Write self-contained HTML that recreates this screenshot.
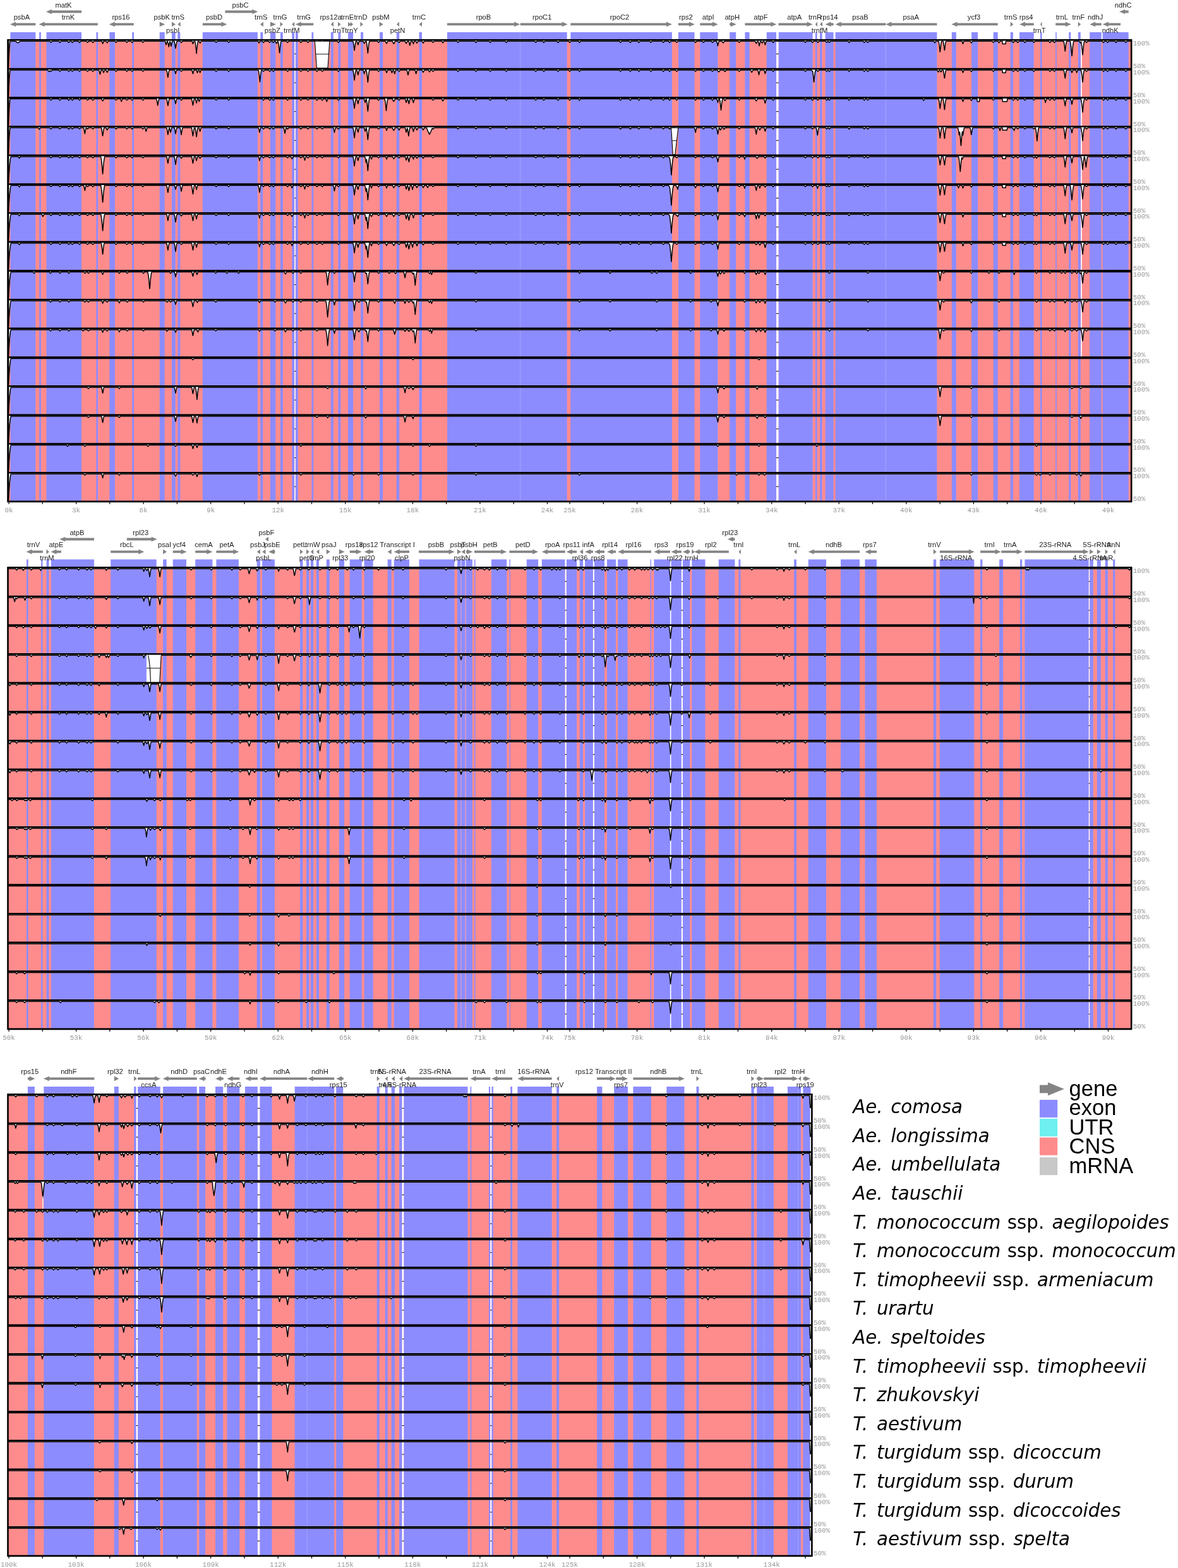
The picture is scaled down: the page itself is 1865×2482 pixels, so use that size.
<!DOCTYPE html>
<html lang="en"><head><meta charset="utf-8"><title>mVISTA chloroplast genome alignment</title>
<style>html,body{margin:0;padding:0;background:#fff}svg{display:block}.g{font-family:"Liberation Sans",sans-serif;font-size:11.2px;fill:#1c1c1c;text-anchor:middle}.m{font-family:"Liberation Mono","DejaVu Sans Mono",monospace;font-size:10.9px;fill:#989898}.t{font-family:"Liberation Mono","DejaVu Sans Mono",monospace;font-size:10.9px;fill:#989898;text-anchor:middle}.s{font-family:"DejaVu Sans","Liberation Sans",sans-serif;font-size:29.3px;fill:#000}.s .i{font-style:oblique}.l{font-family:"Liberation Sans",sans-serif;font-size:34.5px;fill:#000}</style></head><body>
<svg width="1865" height="2482" viewBox="0 0 1865 2482">
<rect width="1865" height="2482" fill="#fff"/>
<g id="panel1">
<rect x="12.5" y="63.3" width="1778.7" height="730.6" fill="#ff8c8c"/>
<path d="M16.4 50.9H56.3V793.9H16.4ZM62.1 50.9H64.9V793.9H62.1ZM73.5 50.9H129V793.9H73.5ZM152.4 50.9H155.2V793.9H152.4ZM173.4 50.9H182V793.9H173.4ZM209.2 50.9H212V793.9H209.2ZM252.7 50.9H260.7V793.9H252.7ZM272 50.9H277.7V793.9H272ZM281.3 50.9H285.3V793.9H281.3ZM320.8 50.9H407.9V793.9H320.8ZM412.3 50.9H416.3V793.9H412.3ZM427.9 50.9H436.3V793.9H427.9ZM443.9 50.9H447.9V793.9H443.9ZM462.2 50.9H466.2V793.9H462.2ZM467.8 50.9H471.8V793.9H467.8ZM493.4 50.9H496.2V793.9H493.4ZM523.8 50.9H527.8V793.9H523.8ZM535.4 50.9H539.3V793.9H535.4ZM551.1 50.9H559.1V793.9H551.1ZM571.1 50.9H575.1V793.9H571.1ZM601.1 50.9H606.1V793.9H601.1ZM627.8 50.9H632.2V793.9H627.8ZM663.5 50.9H668V793.9H663.5ZM708 50.9H897.7V793.9H708ZM903.3 50.9H1063.9V793.9H903.3ZM1073.9 50.9H1099.5V793.9H1073.9ZM1108.3 50.9H1136.4V793.9H1108.3ZM1155.2 50.9H1165.2V793.9H1155.2ZM1179.4 50.9H1186.6V793.9H1179.4ZM1213.7 50.9H1229.1V793.9H1213.7ZM1232.5 50.9H1286.6V793.9H1232.5ZM1290.8 50.9H1293.6V793.9H1290.8ZM1298 50.9H1301.6V793.9H1298ZM1306.6 50.9H1319.6V793.9H1306.6ZM1322.6 50.9H1483.4V793.9H1322.6ZM1506.8 50.9H1513.8V793.9H1506.8ZM1538.1 50.9H1548.1V793.9H1538.1ZM1572.7 50.9H1579.7V793.9H1572.7ZM1599.7 50.9H1603.9V793.9H1599.7ZM1614 50.9H1636.8V793.9H1614ZM1647 50.9H1649.6V793.9H1647ZM1671.2 50.9H1672.8V793.9H1671.2ZM1692.2 50.9H1695.2V793.9H1692.2ZM1706.8 50.9H1710.8V793.9H1706.8ZM1725.2 50.9H1743.7V793.9H1725.2ZM1745.7 50.9H1786.7V793.9H1745.7Z" fill="#8c8cff"/>
<path d="M466.2 50.9H467.8V793.9H466.2ZM1229.1 50.9H1232.5V793.9H1229.1ZM1711.2 50.9H1712.9V63.3H1711.2ZM1711.2 63.3H1712.9V109H1711.2ZM1711.2 109H1712.9V154.6H1711.2ZM1711.2 154.6H1712.9V200.3H1711.2ZM1711.2 200.3H1712.9V245.9H1711.2ZM1711.2 245.9H1712.9V291.6H1711.2ZM1711.2 291.6H1712.9V337.3H1711.2ZM1711.2 337.3H1712.9V382.9H1711.2ZM1711.2 382.9H1712.9V428.6H1711.2ZM1711.2 428.6H1712.9V474.2H1711.2ZM1711.2 474.2H1712.9V519.9H1711.2ZM1711.2 519.9H1712.9V565.6H1711.2Z" fill="#fff"/>
<path d="M466 85.3H468.1M466 131H468.1M466 176.6H468.1M466 222.3H468.1M466 268H468.1M466 313.6H468.1M466 359.3H468.1M466 404.9H468.1M466 450.6H468.1M466 496.3H468.1M466 541.9H468.1M466 587.6H468.1M466 633.2H468.1M466 678.9H468.1M466 724.6H468.1M466 770.2H468.1M1228.9 85.3H1232.8M1228.9 131H1232.8M1228.9 176.6H1232.8M1228.9 222.3H1232.8M1228.9 268H1232.8M1228.9 313.6H1232.8M1228.9 359.3H1232.8M1228.9 404.9H1232.8M1228.9 450.6H1232.8M1228.9 496.3H1232.8M1228.9 541.9H1232.8M1228.9 587.6H1232.8M1228.9 633.2H1232.8M1228.9 678.9H1232.8M1228.9 724.6H1232.8M1228.9 770.2H1232.8" stroke="#000" stroke-width="1" fill="none"/>
<path d="M823.8 50.9V793.9M1402.3 50.9V793.9" stroke="#a9a9ff" stroke-width="0.8" fill="none"/>
<path d="M13.5 63.3L13.5 107.3L14.1 90.8L14.7 78.7L15.5 68.6L15.9 65.7L16.1 65.3L24.5 65.3L28.3 67.9L32.1 65.3L78.7 65.3L80.5 67.3L80.9 67.1L82.5 65.3L92.9 65.3L94.7 67.4L96.7 65.3L106.9 65.3L107.1 65.4L108.9 67.4L110.7 65.3L112.7 65.3L114.5 67.4L115.3 66.6L116.3 65.4L116.5 65.3L123.9 65.3L125.9 67.4L127.7 65.3L136.7 65.3L138.5 67.3L138.9 67.1L140.5 65.3L145.1 65.3L147.1 67.4L148.9 65.3L161.1 65.3L161.5 66.1L162.5 69.1L162.7 69.2L164.1 65.3L168.1 65.3L169.7 67.9L171.3 65.3L181.9 65.3L183.5 67.1L183.9 67.3L185.7 65.3L198.9 65.3L200.7 67.3L201.1 67.1L202.7 65.3L207.3 65.3L207.5 65.4L208.3 66.4L209.3 67.4L211.1 65.3L224.3 65.3L226.3 67.3L228.1 65.3L261.3 65.3L261.9 66.9L262.9 70.8L263.1 70.9L264.5 65.7L264.7 65.3L265.3 65.3L266.1 68.1L267.3 74L268.3 68.6L269.1 65.4L269.9 68.2L270.9 73.2L271.9 68.5L272.7 65.4L272.9 65.3L275.9 65.3L276.9 69.8L277.9 76.5L278.1 76.5L279.1 69.8L280.1 65.3L285.1 65.3L287.1 67.4L288.9 65.3L303.9 65.3L304.3 66L305.3 69.1L305.5 69.3L306.9 65.3L308.5 65.3L308.7 65.6L309.1 67.4L309.7 71.1L311.1 84.7L311.7 77.9L312.5 70.9L313.3 66.3L313.5 65.5L313.7 65.3L314.9 65.3L315.1 65.4L316.7 68.3L318.5 65.3L340.3 65.3L342.1 67.3L342.5 67.1L344.1 65.3L360.1 65.3L361.9 67.3L362.3 67.1L363.9 65.3L408.3 65.3L408.5 65.4L410.1 68.1L411.7 65.3L415.3 65.3L417.1 67.4L419.1 65.3L425.1 65.3L426.5 66.9L427.1 67.3L428.9 65.3L430.7 65.3L430.9 65.3L432.7 67.4L434.5 65.3L435.9 65.3L437.7 68.8L437.9 68.7L439.5 65.6L439.7 65.3L440.1 65.3L440.7 67.9L441.3 71.8L442.5 83.8L442.7 83.5L443.3 76.9L444.1 70.2L444.7 66.8L445.1 65.3L453.5 65.3L455.3 67.4L457.1 65.3L457.3 65.3L474.5 65.3L476.3 67.4L478.1 65.3L478.3 65.3L485.7 65.3L487.3 67.1L487.7 67.3L489.5 65.3L499.9 65.3L501.7 67.3L502.3 66.9L503.7 65.3L508.3 65.3L510.3 67.4L512.1 65.3L533.7 65.3L533.9 65.3L535.7 67.4L537.5 65.3L537.7 65.3L558.9 65.3L559.9 70.2L561.1 79.8L562.5 69.6L563.1 66.5L563.5 65.3L565.1 65.3L565.7 66.9L566.7 70.8L566.9 70.9L567.9 67L568.5 65.3L574.9 65.4L576.7 68.9L578.5 65.4L579.7 65.3L579.9 65.3L580.1 66.1L580.9 70.6L581.7 77.4L582.3 84.1L582.5 83.2L583.7 71.5L584.3 67.6L584.9 65.3L597.5 65.3L599.3 67.4L600.1 66.6L601.1 65.4L601.3 65.3L610.1 65.3L612.1 68.9L613.9 65.3L621.1 65.3L621.3 65.5L623.3 69.4L623.5 69.3L623.9 68.6L625.5 65.3L629.9 65.3L631.9 67.4L633.7 65.3L641.3 65.3L643.1 68.8L643.3 68.7L645.1 65.3L647.1 65.3L647.9 68L648.7 71.6L648.9 71.8L650.1 66.7L650.5 65.4L650.7 65.3L653.1 65.4L654.5 69.5L655.9 65.3L658.3 65.3L658.5 65.5L660.1 68.3L661.9 65.3L668.3 65.3L669.9 68.2L670.1 68.3L671.7 65.4L671.9 65.3L683.7 65.3L685.5 67.3L685.9 67.1L687.5 65.3L699.5 65.3L701.1 67.8L702.7 65.3L702.9 65.3L723.3 65.3L725.1 67.3L725.5 67.1L727.1 65.3L751.5 65.3L753.5 67.4L755.3 65.3L774.1 65.3L774.3 65.3L776.1 67.4L777.9 65.3L799.7 65.3L801.5 67.4L803.5 65.3L846.3 65.3L847.9 67.1L848.3 67.3L850.1 65.3L859.1 65.3L860.9 67.4L861.9 66.4L862.7 65.4L862.9 65.3L881.7 65.3L883.5 67.4L885.5 65.3L900.1 65.3L901.9 67.4L902.7 66.6L903.7 65.4L903.9 65.3L915.5 65.3L915.7 65.3L917.5 67.4L919.3 65.3L919.5 65.3L980.5 65.3L982.3 67.4L984.1 65.4L984.3 65.3L995.9 65.3L996.1 65.4L996.9 66.4L997.9 67.4L999.7 65.3L1009.5 65.3L1011.5 67.4L1013.3 65.3L1028.5 65.3L1030.3 67.3L1030.7 67.1L1032.3 65.3L1048.3 65.3L1050.1 67.3L1050.5 67.1L1052.1 65.3L1058.1 65.3L1058.3 65.3L1060.1 67.4L1061.9 65.3L1069.5 65.3L1071.1 67.1L1071.5 67.3L1073.3 65.3L1099.1 65.3L1099.3 65.3L1101.1 67.4L1102.9 65.3L1103.1 65.3L1111.9 65.3L1113.5 67.1L1113.9 67.3L1115.7 65.3L1126.1 65.3L1127.9 67.3L1128.5 66.9L1129.9 65.3L1134.5 65.3L1134.7 65.4L1135.1 66.7L1136.5 72.5L1137.5 67.8L1138.3 65.3L1142.7 65.3L1144.9 67.9L1147.1 65.3L1147.3 65.3L1168.5 65.3L1170.3 67.3L1170.7 67.1L1172.3 65.3L1195.3 65.3L1197.3 68.9L1199.1 65.3L1200.1 65.3L1200.3 65.3L1200.7 66.7L1202.1 72.6L1203.1 67.9L1203.9 65.3L1204.9 65.4L1206.5 68.3L1206.7 68.2L1208.3 65.3L1209.7 65.3L1210.3 67L1211.3 70.9L1211.5 70.8L1212.5 66.9L1213.1 65.3L1222.3 65.3L1224.1 67.4L1225.9 65.3L1226.1 65.3L1273.1 65.3L1274.7 67.1L1275.1 67.3L1276.9 65.3L1284.5 65.3L1286.3 67.4L1287.1 66.6L1288.1 65.4L1288.3 65.3L1292.9 65.3L1294.5 67.1L1294.9 67.3L1296.7 65.3L1307.1 65.3L1308.9 67.3L1309.5 66.9L1310.9 65.3L1311.3 65.3L1312.9 67.1L1313.3 67.3L1315.1 65.3L1342.3 65.3L1342.5 65.3L1344.3 67.4L1346.1 65.3L1346.3 65.3L1366.5 65.3L1368.3 67.4L1370.3 65.3L1372.1 65.3L1373.7 67.1L1374.1 67.3L1375.9 65.3L1478.1 65.3L1478.3 65.4L1479.7 67.7L1479.9 67.8L1481.5 65.3L1485.9 65.3L1486.5 67.6L1487.1 71.3L1488.3 82.2L1489.5 71.7L1490.1 67.9L1490.7 65.3L1493.1 65.3L1493.3 65.9L1494.3 71.2L1495.3 79.4L1495.5 79.3L1496.9 68.7L1497.7 65.3L1523.1 65.3L1524.5 69.4L1525.7 65.9L1525.9 65.4L1526.1 65.3L1536.1 65.3L1537.7 67.9L1537.9 68L1539.5 65.3L1570.7 65.3L1572.3 67.1L1572.7 67.3L1574.5 65.3L1579.9 65.3L1580.1 65.4L1581.7 67.8L1583.3 65.3L1586.9 65.3L1587.3 69.4L1587.5 69.5L1592.1 69.5L1592.5 65.5L1592.7 65.3L1602.3 65.3L1602.5 65.4L1603.3 66.4L1604.3 67.4L1606.1 65.3L1609.5 65.3L1611.3 67.4L1613.3 65.3L1620.7 65.3L1622.7 67.4L1624.5 65.3L1634.9 65.3L1636.7 67.3L1637.1 67.1L1638.7 65.3L1660.3 65.3L1662.3 67.4L1664.1 65.3L1667.5 65.3L1669.3 67.4L1671.1 65.4L1671.3 65.3L1683.9 65.3L1684.5 67.5L1685.1 71L1686.3 81.1L1687.5 70.9L1688.5 65.6L1688.7 65.3L1694.1 65.3L1694.3 65.5L1694.7 67.3L1695.5 72.5L1696.9 87.5L1697.1 88.5L1698.5 73.1L1699.3 67.6L1699.9 65.3L1708.7 65.3L1710.3 67.9L1711.5 66L1712.5 71.9L1713.3 79.3L1713.9 86.5L1714.1 86.6L1715.3 73.6L1715.9 69.1L1716.7 65.3L1718.3 65.3L1719.9 67.1L1720.3 67.3L1722.1 65.3L1745.1 65.3L1745.3 65.3L1747.1 67.4L1748.9 65.3L1749.1 65.3L1751.7 65.3L1753.5 67.3L1753.9 67.1L1755.5 65.3L1764.9 65.3L1765.1 65.3L1766.9 67.4L1768.7 65.3L1780.5 65.3L1781.9 66.9L1782.5 67.3L1784.3 65.3L1790.1 65.3L1790.1 63.3ZM13.5 109L13.5 153L14.1 136.5L14.7 124.4L15.5 114.3L15.9 111.4L16.1 111L75.5 111L77.7 113.5L77.9 113.4L79.3 111.8L80.5 113L80.7 113L82.5 111L92.9 111L94.7 113L96.7 111L106.9 111L107.1 111L108.9 113L110.7 111L112.7 111L114.5 113L115.3 112.3L116.3 111L116.5 111L123.9 111L125.9 113L127.7 111L136.7 111L138.5 113L138.9 112.7L140.5 111L145.1 111L147.1 113L148.9 111L156.5 111L156.7 111.1L157.1 112.4L158.3 117.5L158.5 117.2L159.3 113.7L160.1 111L162.5 111L162.9 111.7L163.9 114.8L164.1 114.9L165.5 111L167.7 111L167.9 111.1L169.7 114.6L171.5 111L171.7 111L181.9 111L183.5 112.7L183.9 113L185.7 111L198.9 111L200.7 113L201.1 112.8L202.7 111L207.3 111L207.5 111L208.3 112.1L209.3 113L211.1 111L224.3 111L226.3 113L228.1 111L263.7 111L264.5 114.1L265.7 121.9L265.9 122.5L267.1 114.5L267.9 111L268.1 111L276.3 111L276.9 112.6L277.9 116.5L278.1 116.5L279.1 112.6L279.7 111L285.1 111L287.1 113L288.9 111L303.7 111L304.1 111.8L305.3 116.4L305.5 116.6L306.5 112.7L307.1 111L311.1 111L312.5 115.2L313.7 111.5L313.9 111L314.1 111L315.3 111L316.7 115L318.1 111.1L318.3 111L340.3 111L342.1 113L342.5 112.8L344.1 111L360.1 111L361.9 113L362.3 112.8L363.9 111L408.9 111L409.1 111.2L409.3 112L410.1 116.6L411.5 129.7L412.1 123.1L412.9 116.3L413.7 111.8L413.9 111L414.1 111L415.3 111L417.1 113L419.1 111L425.1 111L426.5 112.5L427.1 113L428.9 111L430.7 111L430.9 111L432.7 113.1L434.5 111L434.7 111L453.5 111L455.3 113L457.1 111L457.3 111L474.5 111L476.3 113L478.1 111L478.3 111L485.7 111L487.3 112.7L487.7 113L489.5 111L499.9 111L501.7 113L502.3 112.5L503.7 111L508.3 111L510.3 113L512.1 111L533.7 111L533.9 111L535.7 113.1L537.5 111L537.7 111L558.7 111L558.9 111.2L559.1 112L559.9 116.5L561.1 126.9L562.5 115.9L563.5 111L564.9 111L565.1 111.3L565.9 114.4L566.7 118.4L566.9 118.5L567.9 113.6L568.7 111L575.1 111L576.7 116.9L578.3 111.1L579.7 111L579.9 111.1L580.1 111.9L580.9 116.5L581.7 123.4L582.3 130.3L582.5 129.4L583.7 117.4L584.3 113.5L584.9 111L597.5 111L599.3 113L600.1 112.3L601.1 111L601.3 111L610.5 111L610.9 111.8L612.1 115.3L613.5 111L619.1 111L620.5 115.3L621.9 111.2L622.1 111L623.1 111L623.9 113.5L624.7 116.8L624.9 116.7L625.9 112.7L626.5 111L629.9 111L631.9 113L633.7 111L644.1 111L644.9 113.6L645.9 118.5L646.1 118.5L647.1 113.6L647.9 111L657.1 111L658.7 116.8L659.9 112.3L660.3 111.1L660.5 111L668.1 111L669.9 114.4L670.1 114.5L671.9 111L678.1 111L678.3 111.1L679.9 114L681.7 111L683.7 111L685.5 113L685.9 112.8L687.5 111L723.3 111L725.1 113L725.5 112.8L727.1 111L751.5 111L753.5 113L755.3 111L774.1 111L774.3 111L776.1 113L777.9 111L799.7 111L801.5 113L803.5 111L846.3 111L847.9 112.8L848.3 113L850.1 111L859.1 111L860.9 113L861.9 112.1L862.7 111L862.9 111L881.7 111L883.5 113L885.5 111L900.1 111L901.9 113L902.7 112.3L903.7 111L903.9 111L915.5 111L915.7 111L917.5 113L919.3 111L919.5 111L980.5 111L982.3 113L984.1 111L984.3 111L995.9 111L996.1 111L996.9 112.1L997.9 113L999.7 111L1009.5 111L1011.5 113L1013.3 111L1028.5 111L1030.3 113L1030.7 112.8L1032.3 111L1048.3 111L1050.1 113L1050.5 112.8L1052.1 111L1058.1 111L1058.3 111L1060.1 113.1L1061.9 111L1069.5 111L1071.1 112.8L1071.5 113L1073.3 111L1099.1 111L1099.3 111L1101.1 113.1L1102.9 111L1103.1 111L1111.9 111L1113.5 112.7L1113.9 113L1115.7 111L1126.1 111L1127.9 113L1128.5 112.5L1129.9 111L1135.5 111L1137.9 114L1140.3 111L1146.1 111L1147.7 113.5L1147.9 113.3L1149.3 111L1149.5 111L1168.5 111L1170.3 113L1170.7 112.8L1172.3 111L1188.3 111L1190.1 114.5L1190.3 114.4L1192.1 111L1199.7 111L1200.5 113.7L1201.5 118.4L1202.5 113.7L1203.3 111L1209.7 111L1210.3 112.6L1211.3 116.5L1211.5 116.4L1212.5 112.6L1213.1 111L1222.3 111L1224.1 113L1225.9 111L1226.1 111L1273.1 111L1274.7 112.7L1275.1 113L1276.9 111L1284.5 111L1286.1 112.8L1286.3 113L1286.5 112.9L1286.7 113.7L1287.7 121.1L1288.5 129.9L1288.7 129.8L1289.3 123L1290.1 116.2L1291.1 111L1292.9 111L1294.5 112.8L1294.9 113L1296.7 111L1307.1 111L1308.9 113L1309.5 112.5L1310.9 111L1311.3 111L1312.9 112.8L1313.3 113L1315.1 111L1342.5 111L1344.3 113.1L1346.1 111L1346.3 111L1366.5 111L1368.3 113L1370.3 111L1372.1 111L1373.7 112.8L1374.1 113L1375.9 111L1483.7 111L1485.5 114L1487.3 111L1487.9 111L1488.1 111.1L1489.7 114L1491.5 111L1493.1 111L1493.3 111.2L1493.5 112L1494.1 115L1495.3 123.6L1495.5 123.6L1496.9 113.8L1497.5 111.2L1497.7 111L1523.1 111L1524.5 115.1L1525.7 111.6L1525.9 111.1L1526.1 111L1536.1 111L1536.3 111.1L1537.7 113.4L1537.9 113.4L1539.5 111L1570.7 111L1572.3 112.8L1572.7 113L1574.5 111L1586.9 111L1587.3 115.1L1587.5 115.2L1592.1 115.2L1592.5 111.2L1592.7 111L1602.3 111L1602.5 111L1603.3 112.1L1604.3 113L1606.1 111L1609.5 111L1611.3 113L1613.3 111L1620.7 111L1622.7 113L1624.5 111L1634.9 111L1636.7 113L1637.1 112.8L1638.7 111L1660.3 111L1662.3 113L1664.1 111L1667.5 111L1669.3 113L1671.1 111L1671.3 111L1684.1 111L1684.5 112.3L1685.1 115.3L1686.3 123.8L1687.5 115.2L1688.1 112.2L1688.5 111L1695.5 111L1695.7 111.2L1696.9 114.7L1697.1 115L1698.5 111L1703.1 111L1703.3 111.1L1704.7 115.1L1706.1 111L1711.5 111L1712.5 116.2L1713.3 123L1713.9 129.8L1714.1 129.9L1715.3 117.7L1715.9 113.7L1716.5 111L1718.3 111L1719.9 112.7L1720.3 113L1722.1 111L1745.1 111L1745.3 111L1747.1 113.1L1748.9 111L1751.7 111L1753.5 113L1753.9 112.8L1755.5 111L1764.9 111L1765.1 111L1766.9 113L1768.7 111L1780.5 111L1781.9 112.5L1782.5 113L1784.3 111L1790.1 111L1790.1 109ZM13.5 154.6L13.5 198.6L14.1 182.1L14.7 170L15.5 159.9L15.9 157.1L16.1 156.6L78.7 156.6L80.5 158.6L80.9 158.4L82.5 156.6L92.9 156.6L94.7 158.7L96.7 156.6L106.9 156.6L107.1 156.7L108.9 158.7L110.7 156.6L112.7 156.6L114.5 158.7L115.3 157.9L116.3 156.7L116.5 156.6L123.9 156.6L125.9 158.7L127.7 156.6L136.7 156.6L138.5 158.6L138.9 158.4L140.5 156.6L145.1 156.6L147.1 158.7L148.9 156.6L160.7 156.6L160.9 156.8L162.5 159.8L162.7 159.8L164.5 156.6L181.9 156.6L183.5 158.4L183.9 158.6L185.7 156.6L190.7 156.6L190.9 156.6L191.1 157.2L192.3 160.8L193.5 157.2L193.7 156.7L193.9 156.6L198.9 156.6L200.7 158.6L201.1 158.4L202.7 156.6L207.3 156.6L207.5 156.7L208.3 157.7L209.3 158.7L211.1 156.6L224.3 156.6L226.3 158.7L228.1 156.6L247.7 156.6L248.7 160.8L249.7 167L250.7 161L251.7 156.6L263.7 156.6L263.9 156.9L264.5 159.5L265.7 166.7L265.9 167.3L266.9 160.9L267.9 156.6L276.1 156.6L276.9 159.3L277.9 164.2L278.1 164.1L279.1 159.2L279.9 156.6L285.1 156.6L287.1 158.7L288.9 156.6L303.3 156.6L303.5 156.8L304.1 159.3L305.3 166.2L305.5 166.6L306.5 160.5L307.1 157.8L307.5 156.6L309.3 156.6L309.5 156.9L311.1 163.1L312.3 158.1L312.7 156.8L312.9 156.6L313.9 156.6L315.3 160.7L316.7 156.7L316.9 156.6L340.3 156.6L342.1 158.6L342.5 158.4L344.1 156.6L360.1 156.6L361.9 158.6L362.3 158.4L363.9 156.6L415.3 156.6L417.1 158.7L419.1 156.6L425.1 156.6L426.5 158.2L427.1 158.7L428.9 156.6L430.7 156.6L430.9 156.7L432.7 158.7L434.5 156.6L434.7 156.6L453.5 156.6L455.3 158.7L457.1 156.7L457.3 156.6L474.5 156.6L476.3 158.7L478.1 156.7L478.3 156.6L485.7 156.6L487.3 158.4L487.7 158.6L489.5 156.6L499.9 156.6L501.7 158.7L502.3 158.2L503.7 156.6L508.3 156.6L510.3 158.7L512.1 156.6L515.9 156.6L517.3 160.8L518.5 157.2L518.7 156.7L518.9 156.6L533.9 156.6L535.7 158.7L537.5 156.6L537.7 156.6L558.7 156.6L558.9 156.7L559.1 157.5L559.9 161.8L561.1 171.7L562.5 161.2L563.1 158L563.5 156.6L564.9 156.6L565.1 157L565.9 160.1L566.7 164.1L566.9 164.2L567.9 159.3L568.7 156.6L576.3 156.6L576.5 156.6L576.9 157.8L578.1 162.5L579.5 157.3L579.7 156.8L579.9 156.8L580.5 159.5L581.1 163.6L582.3 176L582.5 175.1L583.7 163.1L584.3 159.2L584.9 156.6L597.5 156.6L599.3 158.7L600.1 157.9L601.1 156.7L601.3 156.6L608.9 156.6L609.1 156.7L609.7 159.5L610.3 163.5L611.5 175.2L612.1 168.6L612.9 161.9L613.7 157.5L613.9 156.7L614.1 156.6L621.1 156.6L621.3 156.8L623.3 160.7L623.5 160.6L623.9 159.9L625.5 156.7L629.9 156.6L631.9 158.7L633.7 156.6L641.5 156.6L642.1 158.4L643.1 162.3L643.3 162L644.7 156.9L644.9 156.6L645.5 156.6L645.7 157L646.3 159.2L647.3 164.1L647.5 164.2L648.5 159.3L649.3 156.6L652.7 156.6L652.9 156.7L654.5 162.5L655.7 157.9L656.1 156.6L656.3 156.6L683.7 156.6L685.5 158.6L685.9 158.4L687.5 156.6L699.3 156.6L701.1 159.9L702.9 156.7L703.1 156.6L723.3 156.6L725.1 158.6L725.5 158.4L727.1 156.6L751.5 156.6L753.5 158.7L755.3 156.6L774.1 156.6L774.3 156.7L776.1 158.7L777.9 156.6L799.7 156.6L801.5 158.7L803.5 156.6L846.3 156.6L847.9 158.4L848.3 158.6L850.1 156.6L859.1 156.6L860.9 158.7L861.9 157.7L862.7 156.7L862.9 156.6L881.7 156.6L883.5 158.7L885.5 156.6L900.1 156.6L901.9 158.7L902.7 157.9L903.7 156.7L903.9 156.6L915.5 156.6L915.7 156.7L917.5 158.7L919.3 156.6L919.5 156.6L980.5 156.6L982.3 158.7L984.1 156.7L984.3 156.6L995.9 156.6L996.1 156.7L996.9 157.7L997.9 158.7L999.7 156.6L1009.5 156.6L1011.5 158.7L1013.3 156.6L1028.5 156.6L1030.3 158.6L1030.7 158.4L1032.3 156.6L1048.3 156.6L1050.1 158.6L1050.5 158.4L1052.1 156.6L1058.1 156.6L1058.3 156.7L1060.1 158.7L1061.9 156.6L1069.5 156.6L1071.1 158.4L1071.5 158.6L1073.3 156.6L1099.1 156.6L1099.3 156.6L1101.1 158.7L1102.9 156.6L1103.1 156.6L1111.9 156.6L1113.5 158.4L1113.9 158.6L1115.7 156.6L1126.1 156.6L1127.9 158.7L1128.5 158.2L1129.9 156.6L1134.7 156.6L1135.1 157.4L1136.5 162.4L1137.3 159.1L1138.1 156.6L1139.1 156.6L1139.7 159.1L1140.3 162.9L1141.5 174.2L1142.9 162L1143.7 157.5L1143.9 156.8L1144.1 156.6L1146.1 156.6L1147.7 159.3L1147.9 159.2L1149.5 156.6L1168.5 156.6L1170.3 158.6L1170.7 158.4L1172.3 156.6L1195.1 156.6L1195.3 156.7L1196.7 159.1L1197.3 159.9L1199.3 156.6L1209.5 156.6L1209.7 156.8L1210.1 158.1L1211.3 163.3L1211.5 163.2L1212.9 157.3L1213.1 156.7L1213.3 156.6L1222.3 156.6L1224.1 158.7L1225.9 156.7L1226.1 156.6L1273.1 156.6L1274.7 158.4L1275.1 158.6L1276.9 156.6L1284.5 156.6L1286.3 158.7L1287.1 157.9L1288.1 156.7L1288.3 156.6L1292.9 156.6L1294.5 158.4L1294.9 158.6L1296.7 156.6L1307.1 156.6L1308.9 158.7L1309.5 158.2L1310.9 156.6L1311.3 156.6L1312.9 158.4L1313.3 158.6L1315.1 156.6L1342.3 156.6L1342.5 156.6L1344.3 158.7L1346.1 156.7L1346.3 156.6L1366.5 156.6L1368.3 158.7L1370.3 156.6L1372.1 156.6L1373.7 158.4L1374.1 158.6L1375.9 156.6L1460.7 156.6L1462.3 159.2L1463.9 156.6L1485.9 156.6L1486.1 156.8L1486.3 157.6L1487.1 162L1488.3 172L1489.5 162.3L1490.5 157L1490.7 156.6L1492.9 156.6L1493.1 157L1493.5 158.8L1494.1 162.5L1495.3 173.6L1495.5 173.5L1496.1 167.3L1496.9 161.1L1497.5 157.8L1497.9 156.6L1523.1 156.6L1524.5 160.8L1525.7 157.2L1525.9 156.7L1526.1 156.6L1536.1 156.6L1536.3 156.7L1537.7 159L1537.9 159.1L1539.5 156.6L1546.7 156.6L1547.1 160.3L1547.3 160.8L1550.5 160.8L1550.9 157.1L1551.1 156.6L1570.7 156.6L1572.3 158.4L1572.7 158.6L1574.5 156.6L1586.9 156.6L1587.3 160.8L1587.5 160.8L1594.3 160.8L1594.9 156.6L1602.3 156.6L1602.5 156.7L1603.3 157.7L1604.3 158.7L1606.1 156.6L1609.5 156.6L1611.3 158.7L1613.3 156.6L1620.7 156.6L1622.7 158.7L1624.5 156.6L1634.9 156.6L1636.7 158.6L1637.1 158.4L1638.7 156.6L1653.5 156.6L1654.1 158.3L1655.1 162.2L1655.3 162.1L1656.3 158.2L1656.9 156.6L1660.3 156.6L1662.3 158.7L1664.1 156.6L1667.5 156.6L1669.3 158.7L1671.1 156.7L1671.3 156.6L1684.1 156.6L1684.3 156.7L1685.1 160.2L1686.3 167.7L1687.3 161.1L1688.3 156.7L1695.1 156.6L1695.7 158.6L1696.9 164.8L1697.1 165.2L1698.1 159.8L1698.9 156.7L1711.3 156.6L1711.9 159.1L1712.5 163L1713.3 170.3L1713.9 177.5L1714.1 177.6L1715.3 164.7L1716.1 159.1L1716.7 156.6L1718.3 156.6L1719.9 158.4L1720.3 158.6L1722.1 156.6L1745.1 156.6L1745.3 156.7L1747.1 158.7L1748.9 156.6L1749.1 156.6L1751.7 156.6L1753.5 158.6L1753.9 158.4L1755.5 156.6L1764.9 156.6L1765.1 156.7L1766.9 158.7L1768.7 156.6L1780.5 156.6L1781.9 158.2L1782.5 158.7L1784.3 156.6L1790.1 156.6L1790.1 154.6ZM13.5 200.3L13.5 244.3L14.1 227.8L14.7 215.7L15.5 205.6L15.9 202.7L16.1 202.3L60.5 202.3L60.7 202.4L62.1 204.7L62.3 204.8L63.9 202.3L78.7 202.3L80.5 204.3L80.9 204.1L82.5 202.3L92.9 202.3L94.7 204.3L96.7 202.3L106.9 202.3L107.1 202.3L108.9 204.4L110.7 202.3L112.7 202.3L114.5 204.3L115.3 203.6L116.3 202.4L116.5 202.3L123.9 202.3L125.9 204.3L127.7 202.3L132.3 202.3L132.5 202.6L133.1 205L134.3 211.7L135.5 205.3L136.3 202.3L136.7 202.3L138.5 204.3L138.9 204.1L140.5 202.3L145.1 202.3L147.1 204.3L148.9 202.3L160.3 202.3L160.5 202.5L161.1 205.1L162.5 214.8L162.7 215L163.9 206.3L164.5 203.4L164.9 202.3L167.7 202.3L167.9 202.4L169.7 205.9L171.5 202.3L171.7 202.3L181.9 202.3L183.5 204.1L183.9 204.3L185.7 202.3L198.9 202.3L200.7 204.3L201.1 204.1L202.7 202.3L207.3 202.3L207.5 202.3L208.3 203.4L209.3 204.4L211.1 202.3L224.3 202.3L226.3 204.3L228.1 202.3L229.7 202.3L231.3 208.1L232.5 203.7L232.9 202.4L233.1 202.3L263.7 202.3L263.9 202.7L264.5 205.2L265.7 212.7L265.9 213.2L266.9 206.7L267.9 202.3L268.3 202.3L268.5 202.9L270.1 209.6L271.1 204.9L271.9 202.3L275.9 202.3L276.1 202.4L276.9 205.8L277.9 211.5L278.1 211.5L279.1 205.7L279.9 202.4L280.1 202.3L284.9 202.3L285.1 202.6L285.7 205.2L287.1 213.3L288.1 206.7L289.1 202.3L303.1 202.3L303.3 202.4L303.9 205L305.3 214.7L305.5 215.2L306.5 207.7L307.3 203.4L307.7 202.3L308.7 202.3L308.9 202.4L309.1 203.2L309.7 206.1L311.1 216.6L312.5 206L313.3 202.3L313.5 202.3L315.1 202.3L315.9 204.8L316.7 208.1L318.1 203.1L318.3 202.5L318.5 202.3L340.3 202.3L342.1 204.3L342.5 204.1L344.1 202.3L360.1 202.3L361.9 204.3L362.3 204.1L363.9 202.3L409.1 202.3L409.9 205L410.9 209.7L411.9 205.1L412.7 202.3L415.3 202.3L417.1 204.3L419.1 202.3L425.1 202.3L426.5 203.8L427.1 204.3L428.9 202.3L430.7 202.3L430.9 202.3L432.7 204.4L434.5 202.3L449.1 202.3L449.3 202.6L449.9 205L451.1 211.1L452.3 204.8L452.9 202.5L453.1 202.3L453.5 202.3L455.3 204.4L457.1 202.3L457.3 202.3L474.5 202.3L476.3 204.4L478.1 202.3L478.3 202.3L485.7 202.3L487.3 204.1L487.7 204.3L489.5 202.3L499.9 202.3L501.7 204.3L502.3 203.9L503.7 202.3L508.3 202.3L510.3 204.3L512.1 202.3L527.7 202.3L528.5 205.1L529.5 209.7L530.5 204.9L531.3 202.3L533.9 202.3L535.7 204.4L537.5 202.3L537.7 202.3L558.7 202.3L558.9 202.5L559.1 203.3L559.9 207.8L561.1 218.3L562.5 207.2L563.5 202.3L564.9 202.3L565.1 202.4L565.9 205.4L566.7 209.2L566.9 209.3L567.9 204.7L568.5 202.5L568.7 202.3L576.5 202.3L578.1 208.1L579.3 203.7L579.7 202.4L579.9 202.3L580.5 205L581.1 209L582.3 221.1L582.5 220.2L583.7 208.5L584.3 204.6L584.9 202.3L597.5 202.3L599.3 204.3L600.1 203.6L601.1 202.4L601.3 202.3L610.5 202.3L610.9 203.1L612.1 206.6L613.5 202.3L621.1 202.3L623.3 206.7L623.5 206.5L625.5 202.4L625.7 202.3L629.9 202.3L631.9 205.9L633.7 202.3L641.3 202.3L641.5 202.6L642.1 204.7L643.1 209.4L643.3 209.1L644.7 203L644.9 203.1L645.7 207.2L646.9 215.3L648.1 206.5L648.7 203.5L649.1 202.3L652.7 202.3L652.9 202.4L654.5 208.2L656.1 202.3L658.3 202.3L660.1 205.9L661.9 202.4L662.1 202.3L668.1 202.3L669.9 205.7L670.1 205.8L671.9 202.3L675.3 202.3L677.3 207.3L679.9 212.7L682.1 208.3L684.3 203L685.5 204.3L685.7 204.3L687.5 202.3L723.3 202.3L725.1 204.3L725.5 204.1L727.1 202.3L751.5 202.3L753.5 204.3L755.3 202.3L774.1 202.3L774.3 202.3L776.1 204.4L777.9 202.3L799.7 202.3L801.5 204.3L803.5 202.3L846.3 202.3L847.9 204.1L848.3 204.3L850.1 202.3L859.1 202.3L860.9 204.4L861.9 203.4L862.7 202.3L862.9 202.3L881.7 202.3L883.5 204.3L885.5 202.3L900.1 202.3L901.9 204.3L902.7 203.6L903.7 202.4L903.9 202.3L915.5 202.3L915.7 202.3L917.5 204.4L919.3 202.3L919.5 202.3L980.5 202.3L982.3 204.4L984.1 202.3L984.3 202.3L995.9 202.3L996.1 202.3L996.9 203.4L997.9 204.4L999.7 202.3L1009.5 202.3L1011.5 204.3L1013.3 202.3L1028.5 202.3L1030.3 204.3L1030.7 204.1L1032.3 202.3L1048.3 202.3L1050.1 204.3L1050.5 204.1L1052.1 202.3L1058.1 202.3L1058.3 202.3L1060.1 204.4L1061.9 202.3L1069.5 202.3L1071.1 204.1L1071.5 204.3L1073.3 202.3L1099.1 202.3L1099.3 202.3L1099.9 204.2L1101.1 209.7L1102.1 205L1102.9 202.3L1111.9 202.3L1113.5 204.1L1113.9 204.3L1115.7 202.3L1126.1 202.3L1127.9 204.3L1128.5 203.8L1129.9 202.3L1134.3 202.3L1134.5 202.4L1135.1 204.8L1136.5 212.4L1137.5 206.3L1138.1 203.5L1138.5 202.3L1138.9 202.4L1140.7 205.9L1142.5 202.3L1142.7 202.3L1144.7 202.3L1146.3 204.8L1147.9 202.3L1148.1 202.3L1168.5 202.3L1170.3 204.3L1170.7 204.1L1172.3 202.3L1195.1 202.3L1195.3 202.4L1195.9 204.8L1197.3 212.4L1198.3 206.3L1199.3 202.3L1201.1 202.3L1202.9 205.9L1204.7 202.4L1204.9 202.3L1209.7 202.3L1210.3 203.9L1211.3 207.8L1211.5 207.8L1212.5 203.9L1213.1 202.3L1222.3 202.3L1224.1 204.4L1225.9 202.3L1226.1 202.3L1273.1 202.3L1274.7 204.1L1275.1 204.3L1276.9 202.3L1284.5 202.3L1286.3 204.3L1287.1 203.6L1288.1 202.4L1288.3 202.3L1292.1 202.3L1292.9 205.4L1294.3 213.9L1295.7 204.9L1296.1 203.1L1296.7 202.3L1307.1 202.3L1308.9 204.3L1309.5 203.8L1310.9 202.3L1311.3 202.3L1312.9 204.1L1313.3 204.3L1315.1 202.3L1342.5 202.3L1344.3 204.4L1346.1 202.3L1346.3 202.3L1366.5 202.3L1368.3 204.3L1370.3 202.3L1372.1 202.3L1373.7 204.1L1374.1 204.3L1375.9 202.3L1485.9 202.3L1486.1 202.7L1486.5 204.4L1487.1 208L1488.3 218.6L1489.5 208.4L1490.5 202.9L1490.7 202.3L1492.9 202.3L1493.1 202.7L1493.5 204.5L1494.1 208.1L1495.3 219.2L1495.5 219.1L1496.1 213L1496.9 206.7L1497.5 203.5L1497.9 202.3L1516.5 202.3L1517.5 206.8L1518.5 213.6L1518.7 213.4L1519.3 209.1L1519.5 209.5L1520.5 219.4L1521.3 230.1L1521.5 230.5L1522.5 217.4L1523.5 208.2L1523.7 208.4L1524.5 214.1L1525.7 206.3L1526.3 203.4L1526.7 202.3L1535.7 202.3L1536.5 205.3L1537.7 212.8L1537.9 213.1L1538.9 206.6L1539.9 202.3L1570.7 202.3L1572.3 204.1L1572.7 204.3L1574.5 202.3L1581.5 202.3L1581.9 203.1L1583.1 206.7L1584.3 202.9L1584.5 202.3L1584.7 202.3L1586.9 202.3L1587.3 205.9L1587.5 205.9L1594.3 205.9L1594.7 202.9L1594.9 202.3L1602.3 202.3L1602.5 202.3L1603.3 203.4L1604.3 204.4L1604.7 204L1604.9 204.2L1605.7 206.7L1606.9 202.9L1607.1 202.4L1607.3 202.3L1609.5 202.3L1611.3 204.3L1613.3 202.3L1620.7 202.3L1622.7 204.3L1624.5 202.3L1634.9 202.3L1636.7 204.3L1637.1 204.1L1638.7 202.3L1639.3 202.3L1639.9 204.9L1640.5 208.9L1641.9 223.2L1643.1 210.3L1643.9 204.8L1644.5 202.3L1660.3 202.3L1662.3 204.3L1664.1 202.3L1667.5 202.3L1669.3 204.4L1671.1 202.3L1671.3 202.3L1683.9 202.3L1684.5 204.9L1685.1 208.7L1686.3 219.6L1687.5 208.5L1688.1 204.7L1688.7 202.3L1695.1 202.3L1695.7 204.1L1696.9 209.9L1697.1 210.3L1698.1 205.2L1698.9 202.3L1711.3 202.3L1711.9 204.5L1712.5 208.3L1713.3 215.5L1713.9 222.6L1714.1 222.7L1714.7 215.6L1715.5 208.4L1716.1 204.6L1716.7 202.3L1718.3 202.3L1719.9 204.1L1720.3 204.3L1722.1 202.3L1745.1 202.3L1745.3 202.3L1747.1 204.4L1748.9 202.3L1749.1 202.3L1751.7 202.3L1753.5 204.3L1753.9 204.1L1755.5 202.3L1764.9 202.3L1765.1 202.3L1766.9 204.4L1768.7 202.3L1780.5 202.3L1781.9 203.8L1782.5 204.3L1784.3 202.3L1790.1 202.3L1790.1 200.3ZM13.5 245.9L13.5 289.9L14.3 274.6L15.3 261L16.3 252.6L16.9 249.5L17.3 248.1L17.5 247.9L28.9 247.9L30.5 250.5L32.1 248L32.3 247.9L78.7 247.9L80.5 249.9L80.9 249.7L82.5 247.9L92.9 247.9L94.7 250L96.7 247.9L106.9 247.9L107.1 248L108.9 250L110.7 247.9L112.7 247.9L114.5 250L115.3 249.3L116.3 248L116.5 247.9L123.9 247.9L125.9 250L127.7 247.9L136.7 247.9L138.5 250L138.9 249.7L140.5 247.9L145.1 247.9L147.1 250L148.9 247.9L159.3 247.9L159.5 248L159.9 249.7L160.7 254.7L161.7 264.3L162.5 274.9L162.7 275.3L163.5 264.6L164.3 256.5L165.1 250.8L165.7 248.1L165.9 247.9L181.9 247.9L183.5 249.7L183.9 250L185.7 247.9L198.9 247.9L200.7 250L201.1 249.7L202.7 247.9L207.3 247.9L207.5 248L208.3 249L209.3 250L211.1 247.9L224.3 247.9L226.3 250L228.1 247.9L263.7 247.9L263.9 248.2L264.5 250.8L265.7 258L265.9 258.6L266.9 252.2L267.9 247.9L275.7 247.9L275.9 248.1L276.1 248.9L276.7 251.8L277.9 260.3L278.1 260.3L279.5 250.7L280.1 248.1L280.3 247.9L285.1 247.9L285.9 248.8L287.1 250.7L288.9 247.9L303.3 247.9L303.5 248.3L304.1 250.8L305.3 258.1L305.5 258.5L306.5 252.1L307.5 247.9L309.3 247.9L309.5 248.2L311.1 254.4L312.3 249.4L312.7 248.1L312.9 247.9L315.1 247.9L316.7 250.7L318.5 247.9L340.3 247.9L342.1 249.9L342.5 249.7L344.1 247.9L360.1 247.9L361.9 250L362.3 249.7L363.9 247.9L409.1 247.9L409.3 248.1L409.7 249.4L410.9 254.4L412.1 249.6L412.7 247.9L415.3 247.9L417.1 250L419.1 247.9L425.1 247.9L426.5 249.5L427.1 250L428.9 247.9L430.7 247.9L430.9 248L432.7 250L434.5 247.9L453.5 247.9L455.3 250L457.1 248L460.5 247.9L462.3 251.4L462.5 251.4L464.3 247.9L474.5 247.9L476.3 250L478.1 248L480.9 247.9L482.5 253.8L483.7 249.4L484.1 248.1L484.3 247.9L485.7 247.9L487.3 249.7L487.7 250L489.5 247.9L499.9 247.9L501.7 250L502.3 249.5L503.7 247.9L508.3 247.9L510.3 250L512.1 247.9L533.7 247.9L533.9 248L535.7 250L537.5 248L537.7 247.9L558.7 247.9L558.9 248L559.1 248.8L559.9 253.1L561.1 263L562.5 252.5L563.1 249.3L563.5 247.9L565.1 247.9L565.9 250.6L566.7 254L566.9 254.1L567.7 250.6L568.5 247.9L577.5 247.9L577.7 248.2L578.3 250.6L579.5 257.3L580.5 252.3L581.5 260.7L582.3 270.3L582.5 269.3L583.1 262L583.9 254.6L584.5 250.6L585.1 247.9L586.5 247.9L586.7 248.2L587.9 251.8L588.1 251.9L589.5 247.9L597.5 247.9L599.3 250L600.1 249.3L601.1 248L601.3 247.9L610.5 247.9L610.7 248.1L612.1 252L613.5 247.9L621.3 247.9L623.3 251.5L623.5 251.4L625.5 247.9L629.9 247.9L631.9 250L633.7 247.9L641.5 247.9L642.1 249.7L643.1 253.6L643.3 253.3L644.7 248.2L644.9 247.9L645.5 247.9L646.3 250.8L647.3 256L647.5 256.1L648.5 250.9L649.3 247.9L652.9 247.9L653.1 248L654.5 252.1L655.9 247.9L658.5 247.9L660.1 250.7L661.9 247.9L668.3 247.9L669.9 250.5L670.1 250.6L671.7 247.9L683.7 247.9L685.5 250L685.9 249.7L687.5 247.9L723.3 247.9L725.1 250L725.5 249.7L727.1 247.9L751.5 247.9L753.5 250L755.3 247.9L774.1 247.9L774.3 248L776.1 250L777.9 247.9L799.7 247.9L801.5 250L803.5 247.9L846.3 247.9L847.9 249.7L848.3 249.9L850.1 247.9L859.1 247.9L860.9 250L861.9 249L862.7 248L862.9 247.9L881.7 247.9L883.5 250L885.5 247.9L900.1 247.9L901.9 250L902.7 249.3L903.7 248L903.9 247.9L915.5 247.9L915.7 248L917.5 250L919.3 247.9L919.5 247.9L980.5 247.9L982.3 250L984.1 248L984.3 247.9L995.9 247.9L996.1 248L996.9 249L997.9 250L999.7 247.9L1009.5 247.9L1011.5 250L1013.3 247.9L1028.5 247.9L1030.3 249.9L1030.7 249.7L1032.3 247.9L1048.3 247.9L1050.1 250L1050.5 249.7L1052.1 247.9L1058.1 247.9L1058.3 248L1060.1 250L1060.3 250.4L1060.5 251.5L1061.7 261.4L1062.9 276.9L1064.5 257.8L1065.3 251.7L1066.1 247.9L1069.5 247.9L1071.1 249.7L1071.5 249.9L1073.3 247.9L1099.1 247.9L1099.3 248L1101.1 250L1102.9 248L1103.1 247.9L1111.9 247.9L1113.5 249.7L1113.9 250L1115.7 247.9L1126.1 247.9L1127.9 250L1128.5 249.5L1129.9 247.9L1134.5 247.9L1135.1 249.8L1136.5 256.3L1137.7 250.2L1138.3 248L1138.5 247.9L1168.5 247.9L1170.3 250L1170.7 249.7L1172.3 247.9L1177.3 247.9L1177.5 248.1L1178.9 252.1L1180.3 247.9L1196.3 247.9L1198.7 250.7L1200.9 248L1201.1 247.9L1209.7 247.9L1211.3 250.4L1211.5 250.4L1212.9 248.1L1213.1 247.9L1222.3 247.9L1224.1 250L1225.9 248L1226.1 247.9L1273.1 247.9L1274.7 249.7L1275.1 250L1276.9 247.9L1284.5 247.9L1286.3 250L1287.1 249.3L1288.1 248L1288.3 247.9L1292.9 247.9L1294.5 249.7L1294.9 250L1296.7 247.9L1307.1 247.9L1308.9 250L1309.5 249.5L1310.9 247.9L1311.3 247.9L1312.9 249.7L1313.3 249.9L1315.1 247.9L1342.3 247.9L1342.5 247.9L1344.3 250L1346.1 248L1346.3 247.9L1366.5 247.9L1368.3 250L1370.3 247.9L1372.1 247.9L1373.7 249.7L1374.1 249.9L1375.9 247.9L1486.1 247.9L1486.5 249.3L1487.1 252.4L1488.3 261.2L1489.5 252.7L1490.5 247.9L1493.1 247.9L1493.3 248.3L1494.3 253.4L1495.3 261.2L1495.5 261.1L1496.9 251L1497.5 248.3L1497.7 247.9L1517.5 247.9L1518.3 251.8L1518.9 256.2L1520.3 271.5L1521.5 257.7L1522.1 252.9L1522.7 249.4L1523.7 252.1L1525.1 247.9L1570.7 247.9L1572.3 249.7L1572.7 249.9L1574.5 247.9L1586.9 247.9L1587.3 251.2L1587.5 251.3L1592.1 251.3L1592.5 247.9L1602.3 247.9L1602.5 248L1603.3 249L1604.3 250L1606.1 247.9L1609.5 247.9L1611.3 250L1613.3 247.9L1620.7 247.9L1622.7 250L1624.5 247.9L1634.9 247.9L1636.7 249.9L1637.1 249.7L1638.7 247.9L1639.3 247.9L1639.5 248L1640.9 250.3L1641.1 250.5L1642.7 247.9L1660.3 247.9L1662.3 250L1664.1 247.9L1667.5 247.9L1669.3 250L1671.1 248L1671.3 247.9L1683.9 247.9L1684.5 250.3L1685.1 253.9L1686.3 264.4L1687.5 253.8L1688.1 250.2L1688.7 247.9L1694.9 247.9L1695.1 248.1L1695.9 251.5L1696.9 257.5L1697.1 258L1698.1 251.9L1698.7 249.1L1699.1 247.9L1711.3 247.9L1711.9 250.2L1712.5 254L1713.3 261.2L1713.9 268.3L1714.1 268.4L1714.7 261.3L1715.5 254.1L1716.1 250.2L1716.7 247.9L1716.9 247.9L1717.1 248.3L1717.9 252.4L1718.7 258.7L1719.3 264.8L1719.5 264.3L1720.1 258.3L1720.9 252.2L1721.5 249L1721.7 248.4L1722.1 247.9L1745.1 247.9L1745.3 248L1747.1 250L1748.9 248L1749.1 247.9L1751.7 247.9L1753.5 249.9L1753.9 249.7L1755.5 247.9L1764.9 247.9L1765.1 248L1766.9 250L1768.7 247.9L1780.5 247.9L1781.9 249.5L1782.5 250L1784.3 247.9L1790.1 247.9L1790.1 245.9ZM13.5 291.6L13.5 335.6L14.3 320.2L15.3 306.7L16.3 298.3L16.9 295.2L17.3 293.8L17.5 293.6L28.9 293.6L30.5 296.1L32.1 293.6L32.3 293.6L78.7 293.6L80.5 295.6L80.9 295.4L82.5 293.6L92.9 293.6L94.7 295.7L96.7 293.6L106.9 293.6L107.1 293.7L108.9 295.7L110.7 293.6L112.7 293.6L114.5 295.7L115.3 294.9L116.3 293.7L116.5 293.6L123.9 293.6L125.9 295.7L127.7 293.6L132.5 293.6L133.3 296.5L134.3 301.5L135.7 295.1L136.1 293.7L136.3 293.6L136.7 293.6L138.5 295.6L138.9 295.4L140.5 293.6L145.1 293.6L147.1 295.7L148.9 293.6L159.5 293.6L160.1 296L160.9 301.4L161.7 309.3L162.5 319.7L162.7 320.1L164.1 303.4L164.9 297.3L165.7 293.6L181.9 293.6L183.5 295.4L183.9 295.6L185.7 293.6L198.9 293.6L200.7 295.6L201.1 295.4L202.7 293.6L207.3 293.6L207.5 293.7L208.3 294.7L209.3 295.7L211.1 293.6L224.3 293.6L226.3 295.6L228.1 293.6L263.7 293.6L264.5 296.7L265.7 304.3L265.9 304.8L266.9 298.1L267.9 293.6L276.3 293.6L277.1 296.3L277.9 299.7L278.1 299.7L278.9 296.3L279.7 293.6L285.1 293.6L285.9 296.7L287.1 302.9L288.3 296.2L288.9 293.8L289.1 293.6L303.1 293.6L303.3 293.9L303.5 294.6L304.1 297.7L305.3 306.5L305.5 307.1L306.7 298L307.3 294.9L307.7 293.6L309.3 293.6L309.5 293.9L311.1 300.1L312.3 295.1L312.7 293.8L312.9 293.6L340.3 293.6L342.1 295.6L342.5 295.4L344.1 293.6L360.1 293.6L361.9 295.6L362.3 295.4L363.9 293.6L408.7 293.6L408.9 293.6L409.7 297L410.9 304.6L412.1 297.2L412.9 293.7L413.1 293.6L415.3 293.6L417.1 295.7L419.1 293.6L425.1 293.6L426.5 295.2L427.1 295.6L428.9 293.6L430.7 293.6L430.9 293.6L432.7 295.7L434.5 293.6L453.5 293.6L455.3 295.7L457.1 293.6L460.9 293.6L462.3 297.5L462.5 297.4L463.5 294.4L463.9 293.6L474.5 293.6L476.3 295.7L478.1 293.6L480.9 293.6L482.5 299.4L483.7 295L484.1 293.8L484.3 293.6L485.7 293.6L487.3 295.4L487.7 295.6L489.5 293.6L499.9 293.6L501.7 295.6L502.3 295.2L503.7 293.6L508.3 293.6L510.3 295.7L512.1 293.6L527.5 293.6L527.7 293.9L528.3 296.2L529.5 302.2L530.7 296L531.3 293.7L531.5 293.6L533.9 293.6L535.7 295.7L537.5 293.6L537.7 293.6L558.7 293.6L558.9 293.7L559.1 294.5L559.9 298.7L561.1 308.7L562.5 298.2L563.1 294.9L563.5 293.6L565.1 293.6L565.9 296.2L566.7 299.7L566.9 299.7L567.7 296.3L568.5 293.6L577.5 293.6L577.7 293.9L578.3 296.3L579.5 303L580.3 298.6L580.5 298.2L581.5 306.8L582.3 316.5L582.5 315.5L583.9 300.6L584.7 295.5L585.1 293.7L585.3 293.6L586.5 293.6L586.7 293.8L587.9 297.4L588.1 297.6L589.5 293.6L597.5 293.6L599.3 295.7L600.1 294.9L601.1 293.7L601.3 293.6L610.5 293.6L610.7 293.7L612.1 297.7L613.5 293.6L621.3 293.6L623.3 297.1L623.5 297L625.5 293.6L629.9 293.6L631.9 295.7L633.7 293.6L641.5 293.6L642.1 295.3L643.1 299.3L643.3 299L644.7 293.9L644.9 293.6L645.5 293.6L646.3 296.5L647.3 301.6L647.5 301.7L648.5 296.5L649.3 293.6L651.3 293.6L651.9 295.3L653.1 300L654.3 295L654.7 293.7L654.9 293.6L658.3 293.6L660.1 297.2L661.9 293.8L662.1 293.6L668.1 293.6L669.9 297L670.1 297.1L671.9 293.6L675.1 293.6L675.3 293.7L677.1 297.2L678.9 293.7L679.1 293.6L683.7 293.6L685.5 295.6L685.9 295.4L687.5 293.6L723.3 293.6L725.1 295.6L725.5 295.4L727.1 293.6L751.5 293.6L753.5 295.7L755.3 293.6L774.1 293.6L774.3 293.6L776.1 295.7L777.9 293.6L799.7 293.6L801.5 295.7L803.5 293.6L846.3 293.6L847.9 295.4L848.3 295.6L850.1 293.6L859.1 293.6L860.9 295.7L861.9 294.7L862.7 293.7L862.9 293.6L881.7 293.6L883.5 295.7L885.5 293.6L900.1 293.6L901.9 295.7L902.7 294.9L903.7 293.7L903.9 293.6L915.5 293.6L915.7 293.6L917.5 295.7L919.3 293.6L919.5 293.6L980.5 293.6L982.3 295.7L984.1 293.7L984.3 293.6L995.9 293.6L996.1 293.7L996.9 294.7L997.9 295.7L999.7 293.6L1009.5 293.6L1011.5 295.7L1013.3 293.6L1028.5 293.6L1030.3 295.6L1030.7 295.4L1032.3 293.6L1048.3 293.6L1050.1 295.6L1050.5 295.4L1052.1 293.6L1058.1 293.6L1058.3 293.6L1060.1 295.9L1060.5 298.2L1061.7 308.8L1062.9 325L1063.9 311.5L1064.7 303.2L1065.5 297.2L1066.3 293.6L1069.5 293.6L1071.3 295.6L1071.7 295.5L1072.7 299.6L1072.9 299.8L1074.5 293.6L1099.1 293.6L1099.3 293.7L1101.1 297.3L1102.9 293.7L1103.1 293.6L1111.9 293.6L1113.5 295.4L1113.9 295.6L1115.7 293.6L1126.1 293.6L1127.9 295.6L1128.5 295.2L1129.9 293.6L1134.3 293.6L1134.5 293.7L1135.1 296.1L1136.5 303.7L1137.5 297.6L1138.1 294.8L1138.5 293.6L1168.5 293.6L1170.3 295.6L1170.7 295.4L1172.3 293.6L1177.3 293.6L1177.7 294.5L1178.9 298.3L1179.9 294.9L1180.3 293.8L1180.5 293.6L1195.3 293.6L1195.5 293.8L1195.9 295.2L1197.3 301.4L1198.3 296.4L1199.1 293.6L1201.5 293.6L1202.9 297.8L1204.1 294.2L1204.3 293.7L1204.5 293.6L1209.7 293.6L1211.3 296.3L1211.5 296.2L1213.1 293.6L1222.3 293.6L1224.1 295.7L1225.9 293.6L1226.1 293.6L1273.1 293.6L1274.7 295.4L1275.1 295.6L1276.9 293.6L1284.5 293.6L1286.3 295.7L1287.1 294.9L1288.1 293.7L1288.3 293.6L1292.7 293.6L1294.3 298.2L1295.1 295.5L1296.7 293.6L1307.1 293.6L1308.9 295.6L1309.5 295.2L1310.9 293.6L1311.3 293.6L1312.9 295.4L1313.3 295.6L1315.1 293.6L1342.5 293.6L1344.3 295.7L1346.1 293.6L1346.3 293.6L1366.5 293.6L1368.3 295.7L1370.3 293.6L1372.1 293.6L1373.7 295.4L1374.1 295.6L1375.9 293.6L1485.9 293.6L1486.1 293.8L1486.3 294.6L1487.1 298.9L1488.3 309L1489.7 298L1490.3 294.8L1490.7 293.6L1493.1 293.6L1494.1 298.5L1495.3 308.3L1495.5 308.2L1496.7 298.4L1497.7 293.6L1515.9 293.6L1516.1 293.8L1517.5 297.7L1518.9 293.6L1523.1 293.6L1524.5 297.7L1525.7 294.2L1525.9 293.7L1526.1 293.6L1536.1 293.6L1537.7 296.2L1537.9 296.3L1539.5 293.6L1570.7 293.6L1572.3 295.4L1572.7 295.6L1574.5 293.6L1586.9 293.6L1587.3 297.2L1587.5 297.3L1592.1 297.3L1592.5 293.6L1592.7 293.6L1602.3 293.6L1602.5 293.7L1603.3 294.7L1604.3 295.7L1606.1 293.6L1609.5 293.6L1611.3 295.7L1613.3 293.6L1620.7 293.6L1622.7 295.7L1624.5 293.6L1634.9 293.6L1636.7 295.6L1637.1 295.4L1638.7 293.6L1639.3 293.6L1640.9 296.2L1641.1 296.3L1642.7 293.6L1660.3 293.6L1662.3 295.7L1664.1 293.6L1667.5 293.6L1669.3 295.7L1671.1 293.7L1671.3 293.6L1683.9 293.6L1684.5 295.9L1685.1 299.6L1686.3 310L1687.5 299.4L1688.1 295.8L1688.7 293.6L1694.1 293.6L1694.3 293.7L1694.7 295.5L1695.5 300.6L1696.9 315.5L1697.1 316.5L1698.5 301.2L1699.3 295.8L1699.9 293.6L1711.3 293.6L1711.9 296.2L1712.5 300.2L1713.3 307.6L1713.9 314.8L1714.1 314.9L1715.3 301.9L1715.9 297.4L1716.7 293.6L1718.3 293.6L1719.9 295.4L1720.3 295.6L1722.1 293.6L1745.1 293.6L1745.3 293.6L1747.1 295.7L1748.9 293.6L1749.1 293.6L1751.7 293.6L1753.5 295.6L1753.9 295.4L1755.5 293.6L1764.9 293.6L1765.1 293.6L1766.9 295.7L1768.7 293.6L1780.5 293.6L1781.9 295.2L1782.5 295.6L1784.3 293.6L1790.1 293.6L1790.1 291.6ZM13.5 337.3L13.5 381.3L14.3 365.9L15.3 352.4L16.3 343.9L16.9 340.8L17.3 339.4L17.5 339.3L28.9 339.3L30.5 341.8L32.1 339.3L32.3 339.3L65.9 339.3L66.1 339.4L67.9 342.9L69.7 339.3L69.9 339.3L78.7 339.3L80.5 341.3L80.9 341.1L82.5 339.3L92.9 339.3L94.7 341.3L96.7 339.3L106.9 339.3L107.1 339.3L108.9 341.3L110.7 339.3L112.7 339.3L114.5 341.3L115.3 340.6L116.3 339.3L116.5 339.3L123.9 339.3L125.9 341.3L127.7 339.3L136.7 339.3L138.5 341.3L138.9 341L140.5 339.3L145.1 339.3L147.1 341.3L148.9 339.3L159.5 339.3L159.7 339.6L160.1 341.4L160.9 346.7L161.7 354.5L162.5 364.7L162.7 365.1L164.1 348.7L164.9 342.7L165.7 339.3L181.9 339.3L183.5 341L183.9 341.3L185.7 339.3L198.9 339.3L200.7 341.3L201.1 341.1L202.7 339.3L207.3 339.3L207.5 339.3L208.3 340.4L209.3 341.3L211.1 339.3L224.3 339.3L226.3 341.3L228.1 339.3L263.7 339.3L263.9 339.4L264.5 341.9L265.7 348.8L265.9 349.3L266.9 343.2L267.5 340.4L267.9 339.3L275.7 339.3L275.9 339.4L276.7 343L277.9 351.4L278.1 351.3L279.5 341.9L280.1 339.4L280.3 339.3L285.1 339.3L285.9 340.2L287.1 342L288.9 339.3L303.3 339.3L303.5 339.5L304.1 341.9L305.3 348.9L305.5 349.3L306.5 343.2L307.1 340.4L307.5 339.3L309.3 339.3L310.1 342.1L311.1 346.7L312.1 341.9L312.9 339.3L340.3 339.3L342.1 341.3L342.5 341.1L344.1 339.3L360.1 339.3L361.9 341.3L362.3 341.1L363.9 339.3L409.1 339.3L409.3 339.3L409.7 340.5L410.9 345.2L412.1 340.6L412.5 339.4L412.7 339.3L415.3 339.3L417.1 341.3L419.1 339.3L425.1 339.3L426.5 340.8L427.1 341.3L428.9 339.3L430.7 339.3L430.9 339.3L432.7 341.4L434.5 339.3L453.5 339.3L455.3 341.3L457.1 339.3L460.5 339.3L462.3 342.8L462.5 342.7L464.3 339.3L474.5 339.3L476.3 341.3L478.1 339.3L480.9 339.3L482.5 345.1L483.7 340.7L484.1 339.4L484.3 339.3L485.7 339.3L487.3 341L487.7 341.3L489.5 339.3L499.9 339.3L501.7 341.3L502.3 340.8L503.7 339.3L508.3 339.3L510.3 341.3L512.1 339.3L533.7 339.3L533.9 339.3L535.7 341.4L537.5 339.3L537.7 339.3L558.7 339.3L558.9 339.4L559.1 340.1L559.9 344.4L561.1 354.4L562.5 343.8L563.1 340.6L563.5 339.3L564.9 339.3L565.1 339.4L565.9 342.4L566.7 346.2L566.9 346.3L567.9 341.6L568.5 339.5L568.7 339.3L577.5 339.3L577.7 339.6L578.3 342.1L579.5 348.9L580.5 343.7L581.5 352.2L582.3 361.9L582.5 360.9L583.1 353.6L583.9 346.1L584.7 341L585.1 339.3L585.3 339.3L586.1 339.3L587.9 342.7L588.1 342.8L589.9 339.3L597.5 339.3L599.3 341.3L600.1 340.6L601.1 339.3L601.3 339.3L610.1 339.3L612.1 342.8L613.9 339.3L621.3 339.3L623.3 342.8L623.5 342.7L625.5 339.3L629.9 339.3L631.9 341.3L633.7 339.3L641.3 339.3L641.5 339.6L642.1 341.7L643.1 346.4L643.3 346L644.7 340L644.9 339.4L645.3 339.3L645.5 339.4L645.9 340.9L647.3 348.4L647.5 348.6L648.7 341.8L649.3 339.4L649.5 339.3L652.7 339.3L652.9 339.4L654.5 345.1L655.7 340.5L656.1 339.3L656.3 339.3L668.1 339.3L669.9 342.7L670.1 342.8L671.9 339.3L683.7 339.3L685.5 341.3L685.9 341.1L687.5 339.3L723.3 339.3L725.1 341.3L725.5 341.1L727.1 339.3L751.5 339.3L753.5 341.3L755.3 339.3L774.1 339.3L774.3 339.3L776.1 341.3L777.9 339.3L799.7 339.3L801.5 341.3L803.5 339.3L846.3 339.3L847.9 341.1L848.3 341.3L850.1 339.3L859.1 339.3L860.9 341.3L861.9 340.4L862.7 339.3L862.9 339.3L881.7 339.3L883.5 341.3L885.5 339.3L900.1 339.3L901.9 341.3L902.7 340.6L903.7 339.3L903.9 339.3L915.5 339.3L915.7 339.3L917.5 341.3L919.3 339.3L919.5 339.3L980.5 339.3L982.3 341.3L984.1 339.3L984.3 339.3L995.9 339.3L996.1 339.3L996.9 340.4L997.9 341.3L999.7 339.3L1009.5 339.3L1011.5 341.3L1013.3 339.3L1028.5 339.3L1030.3 341.3L1030.7 341.1L1032.3 339.3L1048.3 339.3L1050.1 341.3L1050.5 341.1L1052.1 339.3L1058.1 339.3L1058.3 339.3L1060.1 341.4L1060.5 343.2L1061.7 353.4L1062.9 369.1L1063.9 356L1064.7 347.9L1065.5 342.2L1066.1 339.5L1066.3 339.3L1069.5 339.3L1071.3 341.3L1071.5 341.3L1071.7 341.1L1071.9 341.2L1072.7 342.7L1072.9 342.8L1074.7 339.3L1099.1 339.3L1099.3 339.3L1101.1 341.4L1102.9 339.3L1103.1 339.3L1111.9 339.3L1113.5 341L1113.9 341.3L1115.7 339.3L1126.1 339.3L1127.9 341.3L1128.5 340.8L1129.9 339.3L1134.5 339.3L1135.3 342.1L1136.5 347.9L1137.7 341.6L1138.3 339.4L1138.5 339.3L1168.5 339.3L1170.3 341.3L1170.7 341.1L1172.3 339.3L1176.9 339.3L1177.1 339.4L1178.9 342.9L1180.7 339.3L1195.3 339.3L1195.5 339.3L1195.9 340.6L1197.3 346.5L1198.3 341.8L1199.1 339.3L1199.9 339.3L1201.5 345.2L1202.7 340.5L1203.1 339.3L1203.3 339.3L1209.7 339.3L1211.3 341.7L1211.5 341.7L1212.9 339.4L1213.1 339.3L1222.3 339.3L1224.1 341.3L1225.9 339.3L1226.1 339.3L1273.1 339.3L1274.7 341L1275.1 341.3L1276.9 339.3L1284.5 339.3L1286.3 341.3L1287.1 340.6L1288.1 339.3L1288.3 339.3L1292.9 339.3L1294.5 341.1L1294.9 341.3L1296.7 339.3L1307.1 339.3L1308.9 341.3L1309.5 340.8L1310.9 339.3L1311.3 339.3L1312.9 341.1L1313.3 341.3L1315.1 339.3L1342.3 339.3L1342.5 339.3L1344.3 341.4L1346.1 339.3L1346.3 339.3L1366.5 339.3L1368.3 341.3L1370.3 339.3L1372.1 339.3L1373.7 341.1L1374.1 341.3L1375.9 339.3L1486.1 339.3L1486.5 340.6L1487.1 343.7L1488.3 352.6L1489.5 344L1490.5 339.3L1493.1 339.3L1494.1 344.3L1495.3 354.2L1495.5 354.1L1496.7 344.2L1497.7 339.3L1523.1 339.3L1524.5 343.4L1525.7 339.9L1525.9 339.4L1526.1 339.3L1570.7 339.3L1572.3 341.1L1572.7 341.3L1574.5 339.3L1586.9 339.3L1587.3 342.8L1587.5 342.9L1592.1 342.9L1592.5 339.3L1592.7 339.3L1602.3 339.3L1602.5 339.3L1603.3 340.4L1604.3 341.3L1606.1 339.3L1609.5 339.3L1611.3 341.3L1613.3 339.3L1620.7 339.3L1622.7 341.3L1624.5 339.3L1634.9 339.3L1636.7 341.3L1637.1 341.1L1638.7 339.3L1639.3 339.3L1639.5 339.3L1640.9 341.6L1641.1 341.8L1642.7 339.3L1660.3 339.3L1662.3 341.3L1664.1 339.3L1667.5 339.3L1669.3 341.3L1671.1 339.3L1671.3 339.3L1683.9 339.3L1684.1 339.5L1684.3 340.3L1684.9 343.3L1686.3 354.2L1687.5 344.4L1688.3 340.2L1688.5 339.4L1688.7 339.3L1694.9 339.3L1695.1 339.4L1695.9 342.8L1696.9 348.8L1697.1 349.3L1698.1 343.2L1698.7 340.4L1699.1 339.3L1711.3 339.3L1711.9 341.6L1712.5 345.5L1713.3 352.7L1713.9 359.9L1714.1 360L1715.3 347.1L1716.1 341.7L1716.7 339.3L1718.3 339.3L1719.9 341L1720.3 341.3L1722.1 339.3L1745.1 339.3L1745.3 339.3L1747.1 341.4L1748.9 339.3L1749.1 339.3L1751.7 339.3L1753.5 341.3L1753.9 341.1L1755.5 339.3L1764.9 339.3L1765.1 339.3L1766.9 341.3L1768.7 339.3L1780.5 339.3L1781.9 340.8L1782.5 341.3L1784.3 339.3L1790.1 339.3L1790.1 337.3ZM13.5 382.9L13.5 426.9L14.3 411.6L15.3 398L16.3 389.6L16.9 386.5L17.3 385.1L17.5 384.9L28.9 384.9L30.5 387.5L32.1 385L32.3 384.9L78.7 384.9L80.5 386.9L80.9 386.7L82.5 384.9L92.9 384.9L94.7 387L96.7 384.9L106.9 384.9L107.1 385L108.9 387L110.7 384.9L112.7 384.9L114.5 387L115.3 386.2L116.3 385L116.5 384.9L123.9 384.9L125.9 387L127.7 384.9L136.7 384.9L138.5 386.9L138.9 386.7L140.5 384.9L145.1 384.9L147.1 387L148.9 384.9L160.1 384.9L160.5 386.1L161.1 389.4L161.9 395.7L162.5 402L162.7 402.3L163.9 391L164.5 387.2L165.1 384.9L181.9 384.9L183.5 386.7L183.9 386.9L185.7 384.9L198.9 384.9L200.7 386.9L201.1 386.7L202.7 384.9L207.3 384.9L207.5 385L208.3 386L209.3 387L211.1 384.9L224.3 384.9L226.3 387L228.1 384.9L263.7 384.9L263.9 385.3L264.5 387.9L265.7 395.3L265.9 395.9L266.9 389.3L267.9 384.9L275.7 384.9L276.1 386L276.7 389L277.9 397.9L278.1 397.8L279.5 387.9L280.1 385.2L280.3 384.9L285.1 384.9L287.1 387L288.9 384.9L303.3 384.9L304.1 387.9L305.3 395.4L305.5 395.8L306.5 389.3L307.5 384.9L309.3 384.9L310.1 387.4L311.1 391.7L312.1 387.3L312.7 385.2L312.9 384.9L340.3 384.9L342.1 386.9L342.5 386.7L344.1 384.9L360.1 384.9L361.9 386.9L362.3 386.7L363.9 384.9L409.1 384.9L409.3 384.9L409.7 386.2L410.9 390.8L412.1 386.3L412.5 385L412.7 384.9L415.3 384.9L417.1 387L419.1 384.9L425.1 384.9L426.5 386.5L427.1 387L428.9 384.9L430.7 384.9L430.9 385L432.7 387L434.5 384.9L453.5 384.9L455.3 387L457.1 385L460.9 384.9L462.3 389.1L462.5 389L463.9 384.9L474.5 384.9L476.3 387L478.1 385L478.3 384.9L485.7 384.9L487.3 386.7L487.7 386.9L489.5 384.9L499.9 384.9L501.7 387L502.3 386.5L503.7 384.9L508.3 384.9L510.3 387L512.1 384.9L533.7 384.9L533.9 384.9L535.7 387L537.5 384.9L537.7 384.9L558.7 384.9L558.9 385.1L559.1 385.9L559.9 390.2L561.1 400.3L562.5 389.6L563.1 386.3L563.5 384.9L565.1 384.9L565.9 387.7L566.7 391.3L566.9 391.4L567.7 387.8L568.5 385L577.5 384.9L577.7 385.3L578.3 387.7L579.5 394.6L580.5 389.4L581.5 397.9L582.3 407.5L582.5 406.6L583.1 399.3L583.9 391.8L584.7 386.7L585.1 385L585.3 384.9L586.5 384.9L587.9 389L588.1 389.1L589.5 384.9L597.5 384.9L599.3 387L600.1 386.2L601.1 385L601.3 384.9L610.1 384.9L612.1 388.8L613.9 385L614.1 384.9L621.3 385L623.3 388.7L623.7 388.3L625.5 384.9L629.9 384.9L631.9 387L633.7 384.9L641.3 384.9L641.5 385.1L641.9 386.4L643.1 391.5L643.3 391.1L644.7 385.5L644.9 384.9L645.3 384.9L645.5 385L645.9 386.5L647.3 394.1L647.5 394.2L648.7 387.5L649.3 385.1L649.5 384.9L651.3 384.9L651.9 386.7L653.1 391.6L654.1 387.2L654.7 385.2L654.9 384.9L658.7 385L660.1 389.3L661.3 385.7L661.7 384.9L668.3 384.9L669.9 387.8L670.1 387.9L671.7 385L671.9 384.9L683.7 384.9L685.5 386.9L685.9 386.7L687.5 384.9L723.3 384.9L725.1 386.9L725.5 386.7L727.1 384.9L751.5 384.9L753.5 387L755.3 384.9L774.1 384.9L774.3 385L776.1 387L777.9 384.9L799.7 384.9L801.5 387L803.5 384.9L846.3 384.9L847.9 386.7L848.3 386.9L850.1 384.9L859.1 384.9L860.9 387L861.9 386L862.7 385L862.9 384.9L881.7 384.9L883.5 387L885.5 384.9L900.1 384.9L901.9 387L902.7 386.2L903.7 385L903.9 384.9L915.5 384.9L915.7 385L917.5 387L919.3 384.9L919.5 384.9L980.5 384.9L982.3 387L984.1 385L984.3 384.9L995.9 384.9L996.1 385L996.9 386L997.9 387L999.7 384.9L1009.5 384.9L1011.5 387L1013.3 384.9L1028.5 384.9L1030.3 386.9L1030.7 386.7L1032.3 384.9L1048.3 384.9L1050.1 386.9L1050.5 386.7L1052.1 384.9L1058.1 384.9L1058.3 385L1060.1 387L1060.5 388.6L1061.7 398.6L1062.9 414.2L1063.9 401.2L1064.7 393.2L1065.5 387.7L1066.1 385L1066.3 384.9L1069.5 384.9L1071.1 386.7L1071.5 386.9L1073.3 384.9L1099.1 384.9L1099.3 384.9L1101.1 387L1102.9 384.9L1103.1 384.9L1111.9 384.9L1113.5 386.7L1113.9 386.9L1115.7 384.9L1126.1 384.9L1127.9 387L1128.5 386.5L1129.9 384.9L1134.5 384.9L1135.3 388.2L1136.5 394.5L1137.7 387.7L1138.3 385.2L1138.5 384.9L1168.5 384.9L1170.3 386.9L1170.7 386.7L1172.3 384.9L1195.3 384.9L1197.3 387.5L1199.1 384.9L1201.1 384.9L1202.9 388L1204.7 384.9L1209.5 384.9L1209.7 385.1L1210.3 387.3L1211.3 391.9L1211.5 391.8L1212.7 386.5L1213.1 385.1L1213.3 384.9L1222.3 384.9L1224.1 387L1225.9 385L1226.1 384.9L1273.1 384.9L1274.7 386.7L1275.1 386.9L1276.9 384.9L1284.5 384.9L1286.3 387L1287.1 386.2L1288.1 385L1288.3 384.9L1292.9 384.9L1294.5 386.7L1294.9 386.9L1296.7 384.9L1307.1 384.9L1308.9 387L1309.5 386.5L1310.9 384.9L1311.3 384.9L1312.9 386.7L1313.3 386.9L1315.1 384.9L1342.3 384.9L1342.5 384.9L1344.3 387L1346.1 385L1346.3 384.9L1366.5 384.9L1368.3 387L1370.3 384.9L1372.1 384.9L1373.7 386.7L1374.1 386.9L1375.9 384.9L1486.1 384.9L1487.1 389.7L1488.3 399.1L1489.7 388.8L1490.3 385.8L1490.5 385.1L1490.7 384.9L1493.1 384.9L1493.3 385.2L1494.3 390.3L1495.3 397.9L1495.5 397.8L1496.9 387.9L1497.5 385.2L1497.7 384.9L1522.9 384.9L1523.1 385L1523.3 385.5L1524.5 389.3L1525.7 385.7L1526.1 384.9L1536.1 384.9L1536.3 385L1537.7 387.3L1537.9 387.4L1539.5 384.9L1570.7 384.9L1572.3 386.7L1572.7 386.9L1574.5 384.9L1586.9 384.9L1587.3 388.5L1587.5 388.6L1592.1 388.6L1592.5 385L1592.7 384.9L1602.3 384.9L1602.5 385L1603.3 386L1604.3 387L1606.1 384.9L1609.5 384.9L1611.3 387L1613.3 384.9L1620.7 384.9L1622.7 387L1624.5 384.9L1634.9 384.9L1636.7 386.9L1637.1 386.7L1638.7 384.9L1639.3 384.9L1639.5 385L1640.9 387.3L1641.1 387.4L1642.7 384.9L1660.3 384.9L1662.3 387L1664.1 384.9L1667.5 384.9L1669.3 387L1671.1 385L1671.3 384.9L1683.9 384.9L1684.5 387.1L1685.1 390.6L1686.3 400.8L1687.5 390.5L1688.3 386L1688.7 384.9L1694.9 384.9L1695.1 385.3L1695.7 387.9L1696.9 395.3L1697.1 395.8L1698.1 389.3L1699.1 384.9L1711.5 384.9L1711.9 386.2L1712.5 389.5L1713.3 395.8L1713.9 402.1L1714.1 402.2L1715.3 390.9L1715.9 387.2L1716.5 384.9L1718.3 384.9L1719.9 386.7L1720.3 386.9L1722.1 384.9L1745.1 384.9L1745.3 385L1747.1 387L1748.9 384.9L1749.1 384.9L1751.7 384.9L1753.5 386.9L1753.9 386.7L1755.5 384.9L1764.9 384.9L1765.1 385L1766.9 387L1768.7 384.9L1780.5 384.9L1781.9 386.5L1782.5 387L1784.3 384.9L1790.1 384.9L1790.1 382.9ZM13.5 428.6L13.5 472.6L14.3 457.2L15.3 443.7L16.3 435.3L16.9 432.2L17.3 430.7L17.5 430.6L51.9 430.6L53.7 432.6L54.5 431.9L55.5 430.7L55.7 430.6L78.1 430.6L79.5 432.2L80.1 432.6L81.9 430.6L92.9 430.6L94.7 432.6L96.7 430.6L106.9 430.6L107.1 430.6L108.9 432.7L110.7 430.6L132.5 430.6L134.3 432.6L135.1 431.9L136.1 430.7L136.3 430.6L138.1 430.6L139.9 432.6L140.3 432.4L141.9 430.6L161.1 430.6L161.5 431.4L162.5 434.4L162.7 434.5L164.1 430.6L187.1 430.6L188.9 432.7L190.7 430.6L190.9 430.6L199.5 430.6L201.3 432.6L201.9 432.1L203.3 430.6L225.1 430.6L225.3 430.6L227.1 432.7L228.9 430.6L233.9 430.6L234.7 434.3L235.5 440.3L236.9 457L237.1 456.7L237.9 446.3L238.7 438.4L239.5 433L240.1 430.6L268.1 430.6L268.3 430.6L270.1 432.7L271.9 430.6L276.1 430.6L276.9 433.2L277.9 438.1L278.1 438.1L279.1 433.2L279.9 430.6L303.7 430.6L304.5 433.5L305.3 437.1L305.5 437.4L306.5 432.9L307.1 430.8L307.3 430.6L310.5 430.6L311.9 434.7L313.3 430.7L313.5 430.6L339.7 430.6L341.3 432.4L341.7 432.6L343.5 430.6L357.3 430.6L359.1 432.6L359.7 432.1L361.1 430.6L375.7 430.6L377.5 432.6L379.5 430.6L450.1 430.6L451.9 433.9L453.7 430.6L461.9 430.6L463.5 432.4L463.9 432.6L465.7 430.6L474.5 430.6L476.3 432.7L478.1 430.6L478.3 430.6L516.1 430.6L516.7 433L517.5 438.4L518.7 451.2L520.1 437.3L520.7 433.3L521.3 430.6L527.5 430.6L527.7 430.6L529.5 432.7L531.3 430.6L558.7 430.6L558.9 430.8L559.1 431.6L559.9 436L561.1 446.3L562.5 435.4L563.5 430.6L577.9 430.6L579.5 433.3L580.3 432.3L581.3 438.9L582.3 449.4L582.5 448.5L583.7 436.8L584.3 432.9L584.9 430.6L597.5 430.6L599.3 432.6L600.1 431.9L601.1 430.7L601.3 430.6L614.3 430.6L614.5 430.6L616.3 432.7L618.1 430.6L624.5 430.6L626.1 433.2L626.3 433.2L627.9 430.6L639.1 430.6L639.3 430.7L639.9 433L641.1 439.6L641.3 439.4L642.3 433.9L643.1 430.6L652.1 430.6L653.9 433.9L654.9 432.2L655.1 432.1L655.7 435.6L656.3 440.4L657.3 451.6L658.7 437.1L659.3 433.2L659.9 430.6L678.1 430.6L679.9 433.1L681.7 430.7L681.9 430.6L683.3 434.7L684.5 431.2L684.7 430.7L684.9 430.6L751.5 430.6L753.5 432.6L755.3 430.6L915.5 430.6L915.7 430.6L917.5 432.7L919.3 430.6L919.5 430.6L964.1 430.6L965.9 432.7L967.7 430.6L967.9 430.6L1029.9 430.6L1031.5 432.4L1031.9 432.6L1033.7 430.6L1037.9 430.6L1039.7 432.7L1040.7 431.7L1041.5 430.6L1041.7 430.6L1091.5 430.6L1093.5 432.6L1095.3 430.6L1134.7 430.6L1136.5 437.5L1137.5 433L1138.1 430.8L1138.3 430.6L1138.9 430.6L1140.7 433.9L1142.5 430.6L1144.7 430.6L1146.3 433.1L1147.9 430.6L1148.1 430.6L1176.9 430.6L1177.1 430.6L1178.1 431.9L1178.9 432.7L1180.7 430.6L1195.5 430.6L1196.9 434L1197.3 434.7L1198.9 430.8L1199.1 430.6L1199.9 430.6L1201.5 433.2L1203.1 430.6L1209.9 430.6L1210.3 431.4L1211.3 434.5L1211.5 434.4L1212.5 431.4L1212.9 430.6L1311.3 430.6L1312.9 432.4L1313.3 432.6L1315.1 430.6L1372.1 430.6L1373.7 432.4L1374.1 432.6L1375.9 430.6L1486.1 430.6L1487.1 435.3L1488.3 444.5L1489.7 434.4L1490.5 430.7L1490.7 430.6L1492.1 430.6L1493.9 432.6L1494.3 432.4L1495.9 430.6L1535.9 430.6L1537.5 432.4L1537.9 432.6L1539.7 430.6L1563.7 430.6L1565.5 432.6L1566.3 431.9L1567.3 430.6L1567.5 430.6L1579.7 430.6L1581.7 432.6L1583.5 430.6L1604.1 430.6L1604.3 430.6L1604.5 431.2L1605.7 434.8L1606.9 431.1L1607.1 430.6L1607.3 430.6L1639.1 430.6L1640.5 432.1L1641.1 432.6L1642.9 430.6L1660.3 430.6L1662.3 432.6L1664.1 430.6L1678.7 430.6L1680.1 432.2L1680.7 432.6L1682.5 430.6L1684.3 430.6L1684.5 430.6L1686.3 432.7L1688.1 430.6L1695.1 430.6L1696.5 432.1L1697.1 432.6L1698.9 430.6L1702.7 430.6L1702.9 430.6L1703.7 431.7L1704.7 432.7L1706.5 430.6L1708.7 430.6L1710.3 433.1L1711.7 431L1712.7 436.6L1713.9 448L1714.1 448.1L1715.3 436.7L1715.9 432.9L1716.5 430.6L1718.3 430.6L1719.9 432.4L1720.3 432.6L1722.1 430.6L1790.1 430.6L1790.1 428.6ZM13.5 474.2L13.5 518.2L14.3 502.9L15.3 489.3L16.3 480.9L16.9 477.8L17.3 476.4L17.5 476.2L78.1 476.2L79.5 477.8L80.1 478.3L81.9 476.2L92.9 476.2L94.7 478.3L96.7 476.2L106.9 476.2L107.1 476.3L108.9 478.3L110.7 476.2L132.5 476.2L134.3 478.3L135.1 477.6L136.1 476.3L136.3 476.2L138.1 476.2L139.9 478.3L140.3 478L141.9 476.2L161.1 476.2L161.5 477L162.5 480.1L162.7 480.2L164.1 476.2L167.9 476.3L169.7 478.3L171.5 476.2L187.1 476.2L188.9 479.6L190.7 476.2L199.5 476.2L201.3 478.3L201.9 477.8L203.3 476.2L225.1 476.2L225.3 476.3L227.1 478.3L228.9 476.3L229.1 476.2L262.5 476.2L264.1 478L264.5 478.3L266.3 476.2L268.1 476.2L268.3 476.3L270.1 478.3L271.9 476.2L276.3 476.2L276.9 477.9L277.9 481.8L278.1 481.8L279.1 477.9L279.7 476.2L303.5 476.2L304.3 479.4L305.3 485L305.5 485.4L306.7 478.8L307.3 476.4L307.5 476.2L310.9 476.2L312.5 479L314.1 476.2L339.7 476.2L341.3 478L341.7 478.3L343.5 476.2L409.1 476.2L409.3 476.3L410.9 479L412.5 476.3L412.7 476.2L433.7 476.2L435.5 478.3L437.3 476.3L437.5 476.2L449.9 476.2L450.1 476.3L451.9 479.9L453.7 476.4L453.9 476.2L461.9 476.2L463.5 478L463.9 478.2L465.7 476.2L474.5 476.2L476.3 478.3L478.1 476.3L478.3 476.2L499.9 476.2L501.7 478.3L502.3 477.8L503.7 476.2L515.7 476.2L516.1 477.5L516.5 479.6L517.3 485.6L518.7 502L520.3 484.4L521.1 478.9L521.7 476.2L527.7 476.2L528.3 477.9L529.5 482.7L530.7 477.7L531.1 476.4L531.3 476.2L558.7 476.2L558.9 476.5L559.1 477.2L559.9 481.6L561.1 491.9L562.5 481L563.5 476.2L566.5 476.2L566.7 476.3L568.1 478.7L568.3 478.7L569.9 476.2L577.9 476.2L579.5 479L580.1 478.1L580.3 478.1L581.3 484.9L582.3 495.6L582.5 494.7L583.7 482.7L584.3 478.8L584.9 476.2L597.5 476.2L599.3 478.3L600.1 477.6L601.1 476.3L601.3 476.2L622.9 476.2L623.1 476.3L624.7 480.3L624.9 480.2L626.5 476.2L639.7 476.2L641.1 480.2L641.3 480.1L642.3 477L642.7 476.2L645.7 476.2L645.9 476.4L647.3 478.7L647.5 478.7L649.1 476.2L652.1 476.2L653.9 479.6L654.9 477.8L655.1 478L655.7 481.5L656.3 486.5L657.3 497.8L658.7 483.1L659.5 478L659.9 476.3L660.1 476.2L678.1 476.2L679.9 478.8L681.7 476.3L681.9 476.2L683.3 480.4L684.5 476.9L684.7 476.3L684.9 476.2L751.5 476.2L753.5 478.3L755.3 476.2L915.5 476.2L915.7 476.3L917.5 478.3L919.3 476.2L919.5 476.2L964.1 476.2L965.9 478.3L967.7 476.3L967.9 476.2L1037.9 476.2L1039.7 478.3L1040.7 477.3L1041.5 476.3L1041.7 476.2L1091.5 476.2L1093.5 478.3L1095.3 476.2L1123.7 476.2L1123.9 476.3L1125.7 478.3L1127.5 476.3L1134.5 476.2L1134.7 476.4L1135.1 477.9L1136.5 484L1137.5 479.1L1138.3 476.2L1176.9 476.2L1177.1 476.3L1178.1 477.6L1178.9 478.3L1180.7 476.2L1195.5 476.2L1197.3 479.8L1198.9 476.2L1201.3 476.2L1202.9 478.8L1204.5 476.2L1209.9 476.2L1210.3 477.1L1211.3 480.2L1211.5 480.1L1212.5 477L1212.9 476.2L1311.3 476.2L1312.9 478L1313.3 478.2L1315.1 476.2L1372.1 476.2L1373.7 478L1374.1 478.2L1375.9 476.2L1485.9 476.2L1486.1 476.3L1486.3 477.1L1487.1 481.3L1488.3 491L1489.7 480.4L1490.3 477.3L1490.5 476.5L1490.7 476.2L1492.1 476.2L1493.9 478.3L1494.3 478L1495.9 476.2L1535.9 476.2L1536.1 476.4L1537.7 479.4L1537.9 479.5L1539.7 476.2L1579.7 476.2L1581.7 478.3L1583.5 476.2L1639.1 476.2L1640.5 477.8L1641.1 478.3L1642.9 476.2L1660.3 476.2L1662.3 478.3L1664.1 476.2L1667.5 476.2L1669.3 478.3L1671.1 476.3L1671.3 476.2L1684.5 476.2L1686.3 479.6L1688.1 476.2L1695.1 476.2L1696.5 477.8L1697.1 478.3L1698.9 476.2L1702.7 476.2L1702.9 476.3L1703.7 477.3L1704.7 478.3L1706.5 476.2L1711.5 476.2L1711.9 477.5L1712.5 480.9L1713.3 487.3L1713.9 493.7L1714.1 493.8L1715.3 482.4L1715.9 478.6L1716.5 476.2L1718.3 476.2L1719.9 478L1720.3 478.3L1722.1 476.2L1790.1 476.2L1790.1 474.2ZM13.5 519.9L13.5 563.9L14.3 548.5L15.3 535L16.3 526.6L16.9 523.5L17.3 522.1L17.5 521.9L78.1 521.9L79.5 523.5L80.1 523.9L81.9 521.9L92.9 521.9L94.7 524L96.7 521.9L106.9 521.9L107.1 522L108.9 524L110.7 521.9L129.5 521.9L129.7 521.9L131.5 524L133.3 521.9L133.5 521.9L138.1 521.9L139.9 523.9L140.3 523.7L141.9 521.9L161.1 521.9L162.5 526L162.7 526.1L164.1 521.9L167.9 521.9L169.7 524L171.5 521.9L186.9 521.9L187.1 522L188.9 525.5L190.7 522L190.9 521.9L199.5 521.9L201.3 523.9L201.9 523.5L203.3 521.9L225.1 521.9L225.3 521.9L227.1 524L228.9 521.9L262.9 521.9L264.3 524.3L264.5 524.4L265.9 521.9L276.5 521.9L277.9 526.1L278.1 526L279.5 521.9L303.3 521.9L303.5 522L303.9 523.4L305.3 530.9L305.5 531.3L306.7 524.6L307.3 522.2L307.5 521.9L311.7 521.9L313.3 525.5L315.1 521.9L339.7 521.9L341.3 523.7L341.7 523.9L343.5 521.9L409.1 521.9L409.3 521.9L410.9 524.7L412.5 522L412.7 521.9L433.7 521.9L435.5 524L437.3 522L437.5 521.9L449.9 521.9L450.1 521.9L451.9 525.5L453.7 522L453.9 521.9L461.9 521.9L463.5 523.7L463.9 523.9L465.7 521.9L474.5 521.9L476.3 524L478.1 521.9L478.3 521.9L499.9 521.9L501.7 523.9L502.3 523.5L503.7 521.9L515.7 521.9L515.9 522.2L516.3 523.9L517.1 529.2L517.9 536.8L518.7 547.1L520.3 529.7L521.1 524.3L521.7 521.9L527.7 521.9L527.9 522L529.5 527.8L531.1 521.9L558.7 521.9L558.9 522.2L559.1 523L559.9 527.4L561.1 537.9L562.5 526.8L563.5 521.9L566.3 521.9L568.1 525.3L568.3 525.4L570.1 521.9L577.9 521.9L579.5 524.7L580.3 523.6L581.3 530.3L582.3 540.7L582.5 539.8L583.7 528.1L584.3 524.2L584.9 521.9L597.5 521.9L599.3 524L600.1 523.2L601.1 522L601.3 521.9L622.7 521.9L622.9 522.2L624.7 529.1L624.9 529L626.7 522L626.9 521.9L639.5 521.9L641.1 524.6L641.3 524.5L642.9 521.9L645.7 521.9L647.3 524.5L647.5 524.6L649.1 521.9L651.9 521.9L652.1 522L653.9 525.5L655.1 523.4L655.7 526.9L656.3 531.7L657.3 542.9L658.7 528.5L659.3 524.5L659.9 521.9L678.1 521.9L679.9 524.5L681.7 522L682.5 524.5L683.3 527.8L684.5 523.3L684.9 522L685.1 521.9L751.5 521.9L753.5 524L755.3 521.9L915.5 521.9L915.7 521.9L917.5 524L919.3 521.9L919.5 521.9L964.1 521.9L965.9 524L967.7 521.9L967.9 521.9L1037.9 521.9L1039.7 524L1040.7 523L1041.5 522L1041.7 521.9L1091.5 521.9L1093.5 524L1095.3 521.9L1123.7 521.9L1123.9 521.9L1125.7 524L1127.5 521.9L1134.5 521.9L1134.7 522L1135.1 523.3L1136.5 529.1L1137.5 524.4L1138.3 521.9L1144.7 521.9L1146.3 524.4L1147.9 522L1148.1 521.9L1176.9 521.9L1177.1 522L1178.1 523.2L1178.9 524L1180.7 521.9L1195.3 521.9L1197.3 525.5L1199.1 521.9L1202.7 521.9L1204.3 524.5L1205.9 521.9L1209.9 521.9L1211.3 526.1L1211.5 526L1212.9 521.9L1311.3 521.9L1312.9 523.7L1313.3 523.9L1315.1 521.9L1372.1 521.9L1373.7 523.7L1374.1 523.9L1375.9 521.9L1485.9 521.9L1486.1 522L1486.3 522.8L1487.1 527L1488.3 536.7L1489.7 526L1490.3 523L1490.5 522.2L1490.7 521.9L1492.1 521.9L1493.9 523.9L1494.3 523.7L1495.9 521.9L1536.1 521.9L1537.7 524.8L1537.9 524.9L1539.5 522L1539.7 521.9L1579.7 521.9L1581.7 524L1583.5 521.9L1639.1 521.9L1640.5 523.5L1641.1 523.9L1642.9 521.9L1660.3 521.9L1662.3 524L1664.1 521.9L1667.5 521.9L1669.3 524L1671.1 522L1671.3 521.9L1684.5 521.9L1686.3 525L1688.1 521.9L1695.1 521.9L1696.5 523.5L1697.1 523.9L1698.9 521.9L1702.7 521.9L1702.9 522L1703.7 523L1704.7 524L1706.5 521.9L1711.5 521.9L1711.9 523.2L1712.5 526.6L1713.3 533L1713.9 539.3L1714.1 539.4L1715.3 528L1715.9 524.2L1716.5 521.9L1718.3 521.9L1719.9 523.7L1720.3 523.9L1722.1 521.9L1790.1 521.9L1790.1 519.9ZM13.5 565.6L13.5 609.6L14.3 594.2L15.3 580.7L16.3 572.2L16.9 569.1L17.3 567.7L17.5 567.6L303.5 567.6L305.1 569.3L305.5 569.6L307.3 567.6L652.1 567.6L653.9 569.6L655.7 567.6L655.9 567.6L1199.5 567.6L1199.7 567.6L1201.5 569.7L1203.3 567.6L1203.5 567.6L1790.1 567.6L1790.1 565.6ZM13.5 611.2L13.5 655.2L14.3 639.9L15.3 626.3L16.3 617.9L16.9 614.8L17.3 613.4L17.5 613.2L138.1 613.2L139.9 615.2L140.3 615L141.9 613.2L160.5 613.2L160.7 613.3L161.1 614.7L162.5 622.1L162.7 622.3L163.9 615.7L164.5 613.3L164.7 613.2L187.1 613.2L188.9 615.3L190.7 613.3L190.9 613.2L275.9 613.2L276.1 613.3L276.7 615.6L277.9 622.2L278.1 622.2L279.5 614.8L279.9 613.3L280.1 613.2L303.3 613.2L303.5 613.4L304.1 615.9L305.3 622.8L305.5 623.2L306.5 617.1L307.3 613.6L307.5 613.2L309.3 613.2L309.5 613.3L309.7 614.1L310.5 618.7L311.3 625.6L311.9 632.4L313.3 619.2L313.9 615.4L314.3 613.6L314.5 613.2L516.9 613.2L518.7 615.3L519.5 614.5L520.5 613.3L520.7 613.2L577.3 613.2L578.9 615.7L579.1 615.6L580.5 613.3L580.7 613.2L639.3 613.2L640.1 616.3L641.1 621.7L641.3 621.5L642.3 616.2L643.1 613.2L645.5 613.2L647.1 615L647.5 615.2L649.3 613.2L652.1 613.3L653.9 616.9L655.7 613.3L655.9 613.2L1134.5 613.2L1135.3 616L1136.5 621.9L1137.7 615.6L1138.3 613.3L1138.5 613.2L1144.7 613.2L1146.3 615.8L1147.9 613.3L1148.1 613.2L1196.9 613.2L1198.7 616.3L1200.5 613.2L1485.9 613.2L1486.1 613.3L1486.3 614.1L1487.1 618.3L1488.3 628L1489.7 617.4L1490.3 614.3L1490.5 613.5L1490.7 613.2L1535.9 613.2L1537.5 615L1537.9 615.2L1539.7 613.2L1695.1 613.2L1696.5 614.8L1697.1 615.3L1698.9 613.2L1709.3 613.2L1711.1 615.2L1711.5 615L1713.1 613.2L1790.1 613.2L1790.1 611.2ZM13.5 656.9L13.5 700.9L14.3 685.5L15.3 672L16.3 663.6L16.9 660.5L17.3 659L17.5 658.9L138.1 658.9L139.9 660.9L140.3 660.7L141.9 658.9L160.5 658.9L160.7 659.1L161.1 660.7L162.5 668.6L162.7 668.8L163.9 661.7L164.5 659.2L164.7 658.9L187.1 658.9L188.9 661L190.7 658.9L190.9 658.9L276.1 658.9L276.9 661.8L277.9 667L278.1 667L279.1 661.8L279.9 658.9L303.3 658.9L303.5 659.1L304.1 661.5L305.3 668.5L305.5 668.9L306.5 662.8L307.3 659.3L307.5 658.9L309.9 658.9L310.9 663.3L311.9 669.7L313.3 661.6L313.9 659.1L314.1 658.9L499.9 658.9L501.7 660.9L502.3 660.5L503.7 658.9L516.9 658.9L517.1 658.9L518.7 661.6L520.3 659L520.5 658.9L577.3 658.9L578.9 661.6L579.1 661.5L580.7 658.9L639.1 658.9L639.3 659L639.9 661.3L641.1 667.9L641.3 667.7L642.7 660.4L643.1 658.9L643.3 658.9L652.5 658.9L653.9 663.1L655.1 659.5L655.3 659L655.5 658.9L1134.5 658.9L1135.3 662L1136.5 668.1L1137.7 661.5L1138.3 659.1L1138.5 658.9L1144.7 658.9L1146.3 661.4L1147.9 658.9L1148.1 658.9L1196.7 658.9L1198.7 662.5L1200.5 658.9L1200.7 658.9L1209.7 658.9L1211.3 661.3L1211.5 661.3L1212.9 659L1213.1 658.9L1485.9 658.9L1486.1 659L1486.3 659.7L1487.1 663.9L1488.3 673.7L1489.7 663L1490.3 660L1490.5 659.2L1490.7 658.9L1535.9 658.9L1537.5 660.7L1537.9 660.9L1539.7 658.9L1695.1 658.9L1696.5 660.4L1697.1 660.9L1698.9 658.9L1709.3 658.9L1711.1 662.4L1711.3 662.3L1713.1 658.9L1790.1 658.9L1790.1 656.9ZM13.5 702.5L13.5 746.5L14.3 731.2L15.3 717.6L16.3 709.2L16.9 706.1L17.3 704.7L17.5 704.5L104.9 704.5L105.1 704.6L106.9 706.6L108.7 704.6L108.9 704.5L132.5 704.5L134.3 706.6L135.1 705.9L136.1 704.6L136.3 704.5L232.3 704.5L234.1 706.6L234.7 706.1L236.1 704.5L276.1 704.5L277.9 706.5L278.3 706.3L279.9 704.5L303.7 704.5L304.1 705.4L305.3 709.9L305.5 710.2L306.5 706.3L307.1 704.5L310.5 704.5L311.9 708.6L313.3 704.7L313.5 704.5L474.3 704.5L474.5 704.5L476.3 706.6L478.1 704.6L478.3 704.5L652.1 704.5L653.9 706.6L655.7 704.6L655.9 704.5L678.1 704.5L679.9 706.6L680.7 705.9L681.7 704.6L681.9 704.5L751.5 704.5L753.5 706.6L755.3 704.5L1134.5 704.5L1136.5 706.6L1138.3 704.5L1199.5 704.5L1199.7 704.6L1201.5 706.6L1203.3 704.6L1203.5 704.5L1291.5 704.5L1293.1 706.3L1293.5 706.5L1295.3 704.5L1639.1 704.5L1640.5 706.1L1641.1 706.6L1642.9 704.5L1790.1 704.5L1790.1 702.5ZM13.5 748.2L13.5 792.2L14.3 776.8L15.3 763.3L16.3 754.9L16.9 751.8L17.3 750.4L17.5 750.2L132.5 750.2L134.3 752.3L135.1 751.5L136.1 750.3L136.3 750.2L160.9 750.2L161.7 752.8L162.5 756.2L162.7 756.4L163.5 752.9L164.3 750.2L187.1 750.2L188.9 752.3L190.7 750.2L190.9 750.2L276.1 750.2L277.9 753.7L278.1 753.7L279.9 750.2L303.5 750.2L305.1 752L305.5 752.2L307.3 750.2L310.3 750.2L310.5 750.3L310.7 750.8L311.9 754.6L313.1 751L313.5 750.2L409.1 750.2L410.9 752.3L412.7 750.2L412.9 750.2L474.3 750.2L474.5 750.2L476.3 752.3L478.1 750.2L478.3 750.2L557.9 750.2L559.7 752.3L561.7 750.2L597.5 750.2L599.3 752.3L600.1 751.5L601.1 750.3L601.3 750.2L652.1 750.2L653.9 752.3L655.7 750.2L655.9 750.2L751.5 750.2L753.5 752.3L755.3 750.2L915.5 750.2L915.7 750.2L917.5 752.3L919.3 750.2L919.5 750.2L1164.3 750.2L1166.1 752.3L1168.1 750.2L1199.5 750.2L1199.7 750.2L1201.5 752.3L1203.3 750.2L1203.5 750.2L1208.7 750.2L1210.5 752.3L1212.5 750.2L1535.9 750.2L1537.5 752L1537.9 752.2L1539.7 750.2L1639.1 750.2L1640.5 751.8L1641.1 752.2L1642.9 750.2L1644.7 750.2L1644.9 750.2L1646.7 752.3L1648.5 750.2L1648.7 750.2L1660.3 750.2L1662.3 752.3L1664.1 750.2L1702.7 750.2L1702.9 750.3L1703.7 751.3L1704.7 752.3L1706.5 750.2L1709.3 750.2L1711.1 753.7L1711.3 753.6L1713.1 750.2L1790.1 750.2L1790.1 748.2Z" fill="#fff" stroke="#000" stroke-width="1.5" stroke-linejoin="round"/>
<path d="M498.4 65.3L501.4 107.7L519 107.7L521.8 65.3Z" fill="#fff" stroke="#000" stroke-width="1.1" stroke-linejoin="round"/><path d="M499.9 85.7H520.4" stroke="#000" stroke-width="0.9" fill="none"/><path d="M1062.6 202.3L1065.3 244.6L1068.8 244.6L1073.8 202.3Z" fill="#fff" stroke="#000" stroke-width="1.1" stroke-linejoin="round"/><path d="M1063.9 222.7H1071.3" stroke="#000" stroke-width="0.9" fill="none"/>
<path d="M11.3 63.3H1792.4M11.3 109H1792.4M11.3 154.6H1792.4M11.3 200.3H1792.4M11.3 245.9H1792.4M11.3 291.6H1792.4M11.3 337.3H1792.4M11.3 382.9H1792.4M11.3 428.6H1792.4M11.3 474.2H1792.4M11.3 519.9H1792.4M11.3 565.6H1792.4M11.3 611.2H1792.4M11.3 656.9H1792.4M11.3 702.5H1792.4M11.3 748.2H1792.4M11.3 793.9H1792.4M12.5 63.3V793.9M1791.2 63.3V793.9" stroke="#000" stroke-width="2.6" fill="none"/>
<text class="m" x="1793.7" y="72.4">100%</text>
<text class="m" x="1793.7" y="108.2">50%</text>
<text class="m" x="1793.7" y="118.1">100%</text>
<text class="m" x="1793.7" y="153.9">50%</text>
<text class="m" x="1793.7" y="163.7">100%</text>
<text class="m" x="1793.7" y="199.5">50%</text>
<text class="m" x="1793.7" y="209.4">100%</text>
<text class="m" x="1793.7" y="245.2">50%</text>
<text class="m" x="1793.7" y="255">100%</text>
<text class="m" x="1793.7" y="290.8">50%</text>
<text class="m" x="1793.7" y="300.7">100%</text>
<text class="m" x="1793.7" y="336.5">50%</text>
<text class="m" x="1793.7" y="346.4">100%</text>
<text class="m" x="1793.7" y="382.2">50%</text>
<text class="m" x="1793.7" y="392">100%</text>
<text class="m" x="1793.7" y="427.8">50%</text>
<text class="m" x="1793.7" y="437.7">100%</text>
<text class="m" x="1793.7" y="473.5">50%</text>
<text class="m" x="1793.7" y="483.3">100%</text>
<text class="m" x="1793.7" y="519.1">50%</text>
<text class="m" x="1793.7" y="529">100%</text>
<text class="m" x="1793.7" y="564.8">50%</text>
<text class="m" x="1793.7" y="574.7">100%</text>
<text class="m" x="1793.7" y="610.5">50%</text>
<text class="m" x="1793.7" y="620.3">100%</text>
<text class="m" x="1793.7" y="656.1">50%</text>
<text class="m" x="1793.7" y="666">100%</text>
<text class="m" x="1793.7" y="701.8">50%</text>
<text class="m" x="1793.7" y="711.6">100%</text>
<text class="m" x="1793.7" y="747.4">50%</text>
<text class="m" x="1793.7" y="757.3">100%</text>
<text class="m" x="1793.7" y="793.1">50%</text>
<path d="M14 794.9v3.2M67.3 794.9v3.2M120.6 794.9v3.2M173.8 794.9v3.2M227.1 794.9v3.2M280.4 794.9v3.2M333.7 794.9v3.2M387 794.9v3.2M440.2 794.9v3.2M493.5 794.9v3.2M546.8 794.9v3.2M600.1 794.9v3.2M653.4 794.9v3.2M706.6 794.9v3.2M759.9 794.9v3.2M813.2 794.9v3.2M866.5 794.9v3.2M902 794.9v3.2M955.3 794.9v3.2M1008.6 794.9v3.2M1061.8 794.9v3.2M1115.1 794.9v3.2M1168.4 794.9v3.2M1221.7 794.9v3.2M1275 794.9v3.2M1328.2 794.9v3.2M1381.5 794.9v3.2M1434.8 794.9v3.2M1488.1 794.9v3.2M1541.4 794.9v3.2M1594.6 794.9v3.2M1647.9 794.9v3.2M1701.2 794.9v3.2M1754.5 794.9v3.2" stroke="#000" stroke-width="1.2" fill="none"/>
<text class="t" x="14" y="810.5">0k</text>
<text class="t" x="120.6" y="810.5">3k</text>
<text class="t" x="227.1" y="810.5">6k</text>
<text class="t" x="333.7" y="810.5">9k</text>
<text class="t" x="440.2" y="810.5">12k</text>
<text class="t" x="546.8" y="810.5">15k</text>
<text class="t" x="653.4" y="810.5">18k</text>
<text class="t" x="759.9" y="810.5">21k</text>
<text class="t" x="866.5" y="810.5">24k</text>
<text class="t" x="902" y="810.5">25k</text>
<text class="t" x="1008.6" y="810.5">28k</text>
<text class="t" x="1115.1" y="810.5">31k</text>
<text class="t" x="1221.7" y="810.5">34k</text>
<text class="t" x="1328.2" y="810.5">37k</text>
<text class="t" x="1434.8" y="810.5">40k</text>
<text class="t" x="1541.4" y="810.5">43k</text>
<text class="t" x="1647.9" y="810.5">46k</text>
<text class="t" x="1754.5" y="810.5">49k</text>
<path d="M56.3 36.5H25V34.6L16 38.4L25 42.2V40.3H56.3ZM129 16.6H81.9V14.7L72.9 18.5L81.9 22.3V20.4H129ZM154.8 36.5H70.5V34.6L61.5 38.4L70.5 42.2V40.3H154.8ZM211.7 36.5H181.8V34.6L172.8 38.4L181.8 42.2V40.3H211.7ZM252.7 34.6L261.3 38.4L252.7 42.2ZM272 34.6L278 38.4L272 42.2ZM285.7 34.6L281.3 38.4L285.7 42.2ZM320.8 36.5H350.4V34.6L359.4 38.4L350.4 42.2V40.3H320.8ZM356.4 16.6H399.3V14.7L408.3 18.5L399.3 22.3V20.4H356.4ZM416.9 34.6L411.9 38.4L416.9 42.2ZM427.9 34.6L436.9 38.4L427.9 42.2ZM443.5 34.6L447.9 38.4L443.5 42.2ZM466.2 34.6L462.2 38.4L466.2 42.2ZM496.2 36.5H476.8V34.6L467.8 38.4L476.8 42.2V40.3H496.2ZM528 34.6L523.7 38.4L528 42.2ZM535 34.6L539.5 38.4L535 42.2ZM551 34.6L555.4 38.4L551 42.2ZM554.7 34.6L559.1 38.4L554.7 42.2ZM570.4 34.6L574.9 38.4L570.4 42.2ZM600.7 34.6L606.7 38.4L600.7 42.2ZM632 34.6L628 38.4L632 42.2ZM668 34.6L663.5 38.4L668 42.2ZM708 36.5H814.2V34.6L823.2 38.4L814.2 42.2V40.3H708ZM823.8 36.5H889.7V34.6L898.7 38.4L889.7 42.2V40.3H823.8ZM903.3 36.5H1054.9V34.6L1063.9 38.4L1054.9 42.2V40.3H903.3ZM1073.9 36.5H1090.9V34.6L1099.9 38.4L1090.9 42.2V40.3H1073.9ZM1108.3 36.5H1127.8V34.6L1136.8 38.4L1127.8 42.2V40.3H1108.3ZM1155.2 36.5H1156.8V34.6L1165.8 38.4L1156.8 42.2V40.3H1155.2ZM1179.4 36.5H1220.3V34.6L1229.3 38.4L1220.3 42.2V40.3H1179.4ZM1232.5 36.5H1277.6V34.6L1286.6 38.4L1277.6 42.2V40.3H1232.5ZM1294 34.6L1290.8 38.4L1294 42.2ZM1302 34.6L1298 38.4L1302 42.2ZM1319.6 36.5H1315.6V34.6L1306.6 38.4L1315.6 42.2V40.3H1319.6ZM1402.3 36.5H1331.6V34.6L1322.6 38.4L1331.6 42.2V40.3H1402.3ZM1483.4 36.5H1411.3V34.6L1402.3 38.4L1411.3 42.2V40.3H1483.4ZM1579.7 36.5H1515.4V34.6L1506.4 38.4L1515.4 42.2V40.3H1579.7ZM1599.7 34.6L1604.3 38.4L1599.7 42.2ZM1636.8 36.5H1623V34.6L1614 38.4L1623 42.2V40.3H1636.8ZM1649.6 34.6L1647 38.4L1649.6 42.2ZM1671.2 36.5H1686.8V34.6L1695.8 38.4L1686.8 42.2V40.3H1671.2ZM1706.8 34.6L1711.2 38.4L1706.8 42.2ZM1743.7 36.5H1734.2V34.6L1725.2 38.4L1734.2 42.2V40.3H1743.7ZM1774.1 36.5H1754.7V34.6L1745.7 38.4L1754.7 42.2V40.3H1774.1ZM1786.7 16.6H1781.1V14.7L1772.1 18.5L1781.1 22.3V20.4H1786.7Z" fill="#848484"/>
<text class="g" x="34.4" y="31.1">psbA</text>
<text class="g" x="100.5" y="11.8">matK</text>
<text class="g" x="107.9" y="31.1">trnK</text>
<text class="g" x="191.4" y="31.1">rps16</text>
<text class="g" x="256.3" y="31.1">psbK</text>
<text class="g" x="273.7" y="51.5">psbI</text>
<text class="g" x="281.7" y="31.1">trnS</text>
<text class="g" x="339" y="31.1">psbD</text>
<text class="g" x="380.5" y="11.8">psbC</text>
<text class="g" x="413.3" y="31.1">trnS</text>
<text class="g" x="431.3" y="51.5">psbZ</text>
<text class="g" x="443.5" y="31.1">trnG</text>
<text class="g" x="461.8" y="51.5">trnfM</text>
<text class="g" x="481.2" y="31.1">trnG</text>
<text class="g" x="523.5" y="31.1">rps12a</text>
<text class="g" x="536.6" y="51.5">trnT</text>
<text class="g" x="550" y="31.1">trnE</text>
<text class="g" x="556.4" y="51.5">trnY</text>
<text class="g" x="571.1" y="31.1">trnD</text>
<text class="g" x="602.9" y="31.1">psbM</text>
<text class="g" x="629.6" y="51.5">petN</text>
<text class="g" x="663.4" y="31.1">trnC</text>
<text class="g" x="765.5" y="31.1">rpoB</text>
<text class="g" x="858.2" y="31.1">rpoC1</text>
<text class="g" x="981" y="31.1">rpoC2</text>
<text class="g" x="1085.9" y="31.1">rps2</text>
<text class="g" x="1121.2" y="31.1">atpI</text>
<text class="g" x="1159.2" y="31.1">atpH</text>
<text class="g" x="1204.4" y="31.1">atpF</text>
<text class="g" x="1257.7" y="31.1">atpA</text>
<text class="g" x="1290.5" y="31.1">trnR</text>
<text class="g" x="1297.6" y="51.5">trnfM</text>
<text class="g" x="1312.6" y="31.1">rps14</text>
<text class="g" x="1362" y="31.1">psaB</text>
<text class="g" x="1442.3" y="31.1">psaA</text>
<text class="g" x="1542.1" y="31.1">ycf3</text>
<text class="g" x="1600.1" y="31.1">trnS</text>
<text class="g" x="1624.6" y="31.1">rps4</text>
<text class="g" x="1645.6" y="51.5">trnT</text>
<text class="g" x="1681.4" y="31.1">trnL</text>
<text class="g" x="1707.4" y="31.1">trnF</text>
<text class="g" x="1734.2" y="31.1">ndhJ</text>
<text class="g" x="1757.7" y="51.5">ndhK</text>
<text class="g" x="1778.1" y="11.8">ndhC</text>
</g>
<g id="panel2">
<rect x="12.5" y="898.3" width="1778.7" height="730.6" fill="#ff8c8c"/>
<path d="M42 885.5H44.7V1628.9H42ZM65.1 885.5H67.5V1628.9H65.1ZM73.5 885.5H77.5V1628.9H73.5ZM80.9 885.5H149V1628.9H80.9ZM175.2 885.5H247.7V1628.9H175.2ZM258.1 885.5H263.7V1628.9H258.1ZM273.7 885.5H295V1628.9H273.7ZM309.2 885.5H336.4V1628.9H309.2ZM342.4 885.5H377.9V1628.9H342.4ZM406.7 885.5H411.9V1628.9H406.7ZM415.1 885.5H434.9V1628.9H415.1ZM475 885.5H479.4V1628.9H475ZM485 885.5H489.4V1628.9H485ZM491.8 885.5H496.2V1628.9H491.8ZM500.8 885.5H505V1628.9H500.8ZM516.8 885.5H521.8V1628.9H516.8ZM536.8 885.5H545.1V1628.9H536.8ZM553.7 885.5H572.7V1628.9H553.7ZM576.7 885.5H590.7V1628.9H576.7ZM613.7 885.5H619.7V1628.9H613.7ZM623.7 885.5H648V1628.9H623.7ZM663.5 885.5H719.5V1628.9H663.5ZM724 885.5H729.5V1628.9H724ZM730.5 885.5H736.3V1628.9H730.5ZM738 885.5H747.9V1628.9H738ZM751 885.5H752.5V1628.9H751ZM777.9 885.5H802.2V1628.9H777.9ZM806.4 885.5H807.8V1628.9H806.4ZM833.8 885.5H852.2V1628.9H833.8ZM857.8 885.5H894.7V1628.9H857.8ZM896.7 885.5H913.1V1628.9H896.7ZM917.7 885.5H923.1V1628.9H917.7ZM926.1 885.5H938.9V1628.9H926.1ZM940.9 885.5H957V1628.9H940.9ZM961 885.5H975V1628.9H961ZM978.2 885.5H993.6V1628.9H978.2ZM1029.6 885.5H1031V1628.9H1029.6ZM1035.4 885.5H1078.9V1628.9H1035.4ZM1080.9 885.5H1092.3V1628.9H1080.9ZM1095.3 885.5H1116.5V1628.9H1095.3ZM1137.8 885.5H1163.4V1628.9H1137.8ZM1169.4 885.5H1172.4V1628.9H1169.4ZM1257.1 885.5H1260.9V1628.9H1257.1ZM1279.7 885.5H1308V1628.9H1279.7ZM1331 885.5H1361V1628.9H1331ZM1369.4 885.5H1387.9V1628.9H1369.4ZM1477.8 885.5H1482.2V1628.9H1477.8ZM1487.8 885.5H1542.3V1628.9H1487.8ZM1552.1 885.5H1555.3V1628.9H1552.1ZM1582.1 885.5H1588.1V1628.9H1582.1ZM1615 885.5H1618.2V1628.9H1615ZM1622.4 885.5H1723.8V1628.9H1622.4ZM1725.2 885.5H1730.8V1628.9H1725.2ZM1736.8 885.5H1742.8V1628.9H1736.8ZM1749.7 885.5H1753.9V1628.9H1749.7ZM1762.1 885.5H1765.3V1628.9H1762.1Z" fill="#8c8cff"/>
<path d="M894.7 885.5H896.7V1628.9H894.7ZM938.9 885.5H940.9V1628.9H938.9ZM1078.9 885.5H1080.9V1628.9H1078.9ZM1723.8 885.5H1725.2V1628.9H1723.8ZM1060.9 885.5H1062.5V898.3H1060.9ZM1060.9 898.3H1062.5V944H1060.9ZM1060.9 944H1062.5V989.6H1060.9ZM1060.9 989.6H1062.5V1035.3H1060.9ZM1060.9 1035.3H1062.5V1080.9H1060.9ZM1060.9 1080.9H1062.5V1126.6H1060.9ZM1060.9 1126.6H1062.5V1172.3H1060.9ZM1060.9 1172.3H1062.5V1217.9H1060.9ZM1060.9 1217.9H1062.5V1263.6H1060.9ZM1060.9 1263.6H1062.5V1309.2H1060.9ZM1060.9 1309.2H1062.5V1354.9H1060.9ZM1060.9 1354.9H1062.5V1400.6H1060.9ZM1060.9 1537.5H1062.5V1583.2H1060.9ZM1060.9 1583.2H1062.5V1628.9H1060.9Z" fill="#fff"/>
<path d="M894.5 920.3H897M894.5 966H897M894.5 1011.6H897M894.5 1057.3H897M894.5 1103H897M894.5 1148.6H897M894.5 1194.3H897M894.5 1240H897M894.5 1285.6H897M894.5 1331.3H897M894.5 1376.9H897M894.5 1422.6H897M894.5 1468.2H897M894.5 1513.9H897M894.5 1559.6H897M894.5 1605.2H897M938.7 920.3H941.2M938.7 966H941.2M938.7 1011.6H941.2M938.7 1057.3H941.2M938.7 1103H941.2M938.7 1148.6H941.2M938.7 1194.3H941.2M938.7 1240H941.2M938.7 1285.6H941.2M938.7 1331.3H941.2M938.7 1376.9H941.2M938.7 1422.6H941.2M938.7 1468.2H941.2M938.7 1513.9H941.2M938.7 1559.6H941.2M938.7 1605.2H941.2M1078.7 920.3H1081.2M1078.7 966H1081.2M1078.7 1011.6H1081.2M1078.7 1057.3H1081.2M1078.7 1103H1081.2M1078.7 1148.6H1081.2M1078.7 1194.3H1081.2M1078.7 1240H1081.2M1078.7 1285.6H1081.2M1078.7 1331.3H1081.2M1078.7 1376.9H1081.2M1078.7 1422.6H1081.2M1078.7 1468.2H1081.2M1078.7 1513.9H1081.2M1078.7 1559.6H1081.2M1078.7 1605.2H1081.2M1723.6 920.3H1725.5M1723.6 966H1725.5M1723.6 1011.6H1725.5M1723.6 1057.3H1725.5M1723.6 1103H1725.5M1723.6 1148.6H1725.5M1723.6 1194.3H1725.5M1723.6 1240H1725.5M1723.6 1285.6H1725.5M1723.6 1331.3H1725.5M1723.6 1376.9H1725.5M1723.6 1422.6H1725.5M1723.6 1468.2H1725.5M1723.6 1513.9H1725.5M1723.6 1559.6H1725.5M1723.6 1605.2H1725.5" stroke="#000" stroke-width="1" fill="none"/>
<path d="M729.9 885.5V1628.9M737.1 885.5V1628.9" stroke="#a9a9ff" stroke-width="0.8" fill="none"/>
<path d="M13.5 898.3L13.5 900.3L24.5 900.3L26.3 902.4L28.1 900.3L34.9 900.3L36.7 902.8L36.9 902.7L38.7 900.3L47.7 900.3L49.5 902.4L51.3 900.3L62.7 900.3L62.9 900.4L64.5 903.1L66.1 900.3L66.3 900.3L92.3 900.3L94.1 902.3L94.5 902.1L96.1 900.3L103.5 900.3L103.7 900.3L105.5 902.4L107.3 900.3L122.5 900.3L123.9 901.9L124.5 902.3L126.3 900.3L135.9 900.3L137.7 902.4L138.7 901.4L139.5 900.4L139.7 900.3L142.3 900.3L143.9 902.1L144.3 902.3L146.1 900.3L166.5 900.3L166.7 900.3L168.3 902.9L169.9 900.3L184.7 900.3L186.7 902.4L188.5 900.3L226.1 900.3L226.3 900.4L227.7 904.4L229.1 900.3L230.7 900.3L232.5 903.3L234.1 900.5L234.3 900.3L234.7 900.3L235.1 901.4L235.7 904.3L236.9 913L237.1 912.9L238.5 903.1L239.1 900.5L239.3 900.3L250.9 900.3L251.3 901.5L251.9 904.5L253.1 913.1L254.3 904.7L254.9 901.6L255.3 900.3L300.7 900.3L302.3 902.1L302.7 902.3L304.5 900.3L332.7 900.3L334.5 902.3L335.1 901.9L336.5 900.3L365.1 900.3L365.3 900.3L367.1 902.4L368.9 900.3L378.5 900.3L380.3 902.3L380.7 902.1L382.3 900.3L392.5 900.3L394.5 908.3L396.5 900.3L405.3 900.3L407.1 903.7L407.3 903.8L409.1 900.3L418.9 900.3L420.5 902.1L420.9 902.3L422.7 900.3L439.7 900.3L441.1 904.3L441.3 904.1L442.3 901.1L442.7 900.3L453.5 900.3L455.3 902.4L457.1 900.3L463.9 900.3L464.1 900.5L464.7 903L466.1 911.1L466.3 910.3L466.5 910.4L466.7 909.5L468.5 900.3L473.5 900.3L473.7 900.4L474.7 901.6L475.5 902.4L477.3 900.3L487.1 900.3L488.5 901.9L489.1 902.3L490.9 900.3L504.7 900.3L506.5 902.3L506.9 902.1L508.5 900.3L519.7 900.3L521.5 902.3L522.1 901.9L523.5 900.3L532.3 900.3L532.5 900.3L534.3 902.4L536.1 900.3L547.9 900.3L549.3 901.9L549.9 902.3L551.7 900.3L557.9 900.3L559.7 902.4L561.7 900.3L574.7 900.3L574.9 900.3L576.7 902.4L578.5 900.3L578.7 900.3L597.5 900.3L599.3 902.4L600.1 901.6L601.1 900.4L601.3 900.3L620.1 900.3L621.9 902.3L622.5 901.9L623.9 900.3L636.1 900.3L636.3 900.4L637.1 901.4L638.1 902.4L639.9 900.3L704.3 900.3L705.7 901.9L706.3 902.3L708.1 900.3L728.1 900.3L728.9 903L729.9 907.9L730.1 907.8L731.1 902.9L731.7 900.6L731.9 900.3L743.1 900.3L744.9 902.3L745.3 902.1L746.9 900.3L754.3 900.3L754.5 900.3L756.3 902.4L758.1 900.3L765.1 900.3L766.5 901.9L767.1 902.3L768.9 900.3L772.7 900.3L772.9 900.4L773.7 901.4L774.7 902.4L776.5 900.3L785.5 900.3L787.3 902.3L787.7 902.1L789.3 900.3L800.1 900.3L800.3 900.3L802.1 902.4L803.9 900.3L804.1 900.3L829.3 900.3L830.7 901.9L831.3 902.3L833.1 900.3L843.5 900.3L845.3 902.3L845.7 902.1L847.3 900.3L854.3 900.3L856.1 902.4L857.9 900.4L858.1 900.3L871.7 900.3L873.7 902.4L875.5 900.3L878.9 900.3L880.7 902.4L881.7 901.4L882.5 900.4L882.7 900.3L884.5 900.3L886.3 902.3L886.7 902.1L888.3 900.3L913.9 900.3L915.5 902.9L917.1 900.3L921.3 900.3L923.1 902.4L925.1 900.3L951.5 900.3L951.7 900.4L952.5 901.4L953.5 902.4L955.3 900.3L956.3 900.3L956.5 900.4L958.3 903.9L960.1 900.3L960.3 900.3L960.9 900.3L962.5 902.9L964.1 900.3L964.3 900.3L974.7 900.3L976.7 902.4L978.5 900.3L982.7 900.3L984.5 902.3L984.9 902.1L986.5 900.3L994.5 900.3L996.5 902.4L998.3 900.3L1003.1 900.3L1004.9 902.4L1006.9 900.3L1013.7 900.3L1013.9 900.3L1015.7 902.4L1017.5 900.3L1018.5 900.3L1018.7 900.3L1020.5 902.4L1022.3 900.3L1022.5 900.3L1024.3 900.3L1026.1 902.3L1028.1 900.3L1031.3 900.3L1032.9 902.1L1033.3 902.3L1035.1 900.3L1037.9 900.3L1039.7 902.4L1040.7 901.4L1041.7 902.4L1043.5 900.3L1043.7 900.3L1058.9 900.3L1059.1 900.4L1059.3 901.2L1060.1 905.7L1060.9 912.6L1061.5 919.2L1062.9 905.8L1063.7 901.3L1063.9 900.5L1064.1 900.3L1089.7 900.3L1090.1 901.1L1091.1 904.2L1091.3 904.2L1092.3 901.1L1092.7 900.3L1188.3 900.3L1190.1 902.3L1190.5 902.1L1192.1 900.3L1228.5 900.3L1230.3 902.4L1232.3 900.3L1239.5 900.3L1239.7 900.4L1239.9 900.9L1241.1 904.5L1242.3 900.8L1242.5 900.3L1242.7 900.3L1247.7 900.3L1249.5 902.3L1249.9 902.1L1251.5 900.3L1273.1 900.3L1274.7 902.1L1275.1 902.3L1276.9 900.3L1304.3 900.3L1306.1 902.4L1306.9 901.6L1307.9 900.4L1308.1 900.3L1560.5 900.3L1562.1 902.1L1562.5 902.3L1564.3 900.3L1623.5 900.3L1623.7 900.3L1625.5 902.4L1626.9 900.9L1628.3 902.4L1630.1 900.3L1630.3 900.3L1786.1 900.3L1786.3 900.3L1788.1 902.4L1789.9 900.3L1790.1 900.3L1790.1 898.3ZM13.5 944L13.5 946L21.5 946L22.3 948.8L23.1 952.4L23.3 952.3L24.7 946.6L24.9 946.5L26.3 948.1L28.1 946L28.3 946L38.1 946L39.5 950.1L39.7 950.1L41.1 946L47.7 946L49.5 948.1L51.3 946L51.5 946L92.3 946L94.1 948L94.5 947.7L96.1 946L103.5 946L103.7 946L105.5 948L107.3 946L122.5 946L123.9 947.5L124.5 948L126.3 946L135.9 946L137.7 948L138.7 947.1L139.5 946L139.7 946L142.3 946L143.9 947.7L144.3 948L146.1 946L166.5 946L168.3 949L170.1 946L184.7 946L186.7 948L188.5 946L225.9 946L226.1 946.1L226.3 946.7L227.7 951.7L228.5 948.5L229.3 946L234.7 946L235.1 947L235.7 950L236.9 958.7L237.1 958.5L238.5 948.8L239.1 946.2L239.3 946L251.1 946L252.1 950.5L253.1 957L254.3 949.5L255.1 946.1L255.3 946L300.7 946L302.3 947.8L302.7 948L304.5 946L332.7 946L334.5 948L335.1 947.5L336.5 946L365.1 946L365.3 946L367.1 948L368.9 946L378.5 946L380.3 948L380.7 947.7L382.3 946L392.5 946L394.5 954L396.5 946L405.7 946L405.9 946.2L407.1 949.7L407.3 950L408.7 946L418.9 946L420.5 947.8L420.9 948L422.7 946L453.5 946L455.3 948L457.1 946L464.1 946L464.9 949.1L466.1 955.6L466.3 954.5L466.5 954.6L466.7 953.8L468.5 946L473.5 946L473.7 946L474.7 947.3L475.5 948L477.3 946L487.7 946L487.9 946.1L488.7 949.5L489.9 957L491.1 949.4L491.9 946L492.1 946L504.7 946L506.5 948L506.9 947.7L508.5 946L519.7 946L521.5 948L522.1 947.5L523.5 946L532.3 946L532.5 946L534.3 948L536.1 946L557.9 946L559.7 948L561.7 946L574.7 946L574.9 946L576.7 948.1L578.5 946L578.7 946L636.1 946L636.3 946L637.1 947.1L638.1 948L639.9 946L704.3 946L705.7 947.5L706.3 948L708.1 946L728.1 946L728.9 948.6L729.9 953.5L730.1 953.4L731.1 948.5L731.7 946.3L731.9 946L743.1 946L744.9 948L745.3 947.7L746.9 946L765.1 946L766.5 947.5L767.1 948L768.9 946L772.7 946L772.9 946L773.7 947.1L774.7 948L776.5 946L785.5 946L787.3 948L787.7 947.8L789.3 946L800.1 946L800.3 946L802.1 948.1L803.9 946L804.1 946L829.3 946L830.7 947.5L831.3 948L833.1 946L843.5 946L845.3 948L845.7 947.7L847.3 946L854.3 946L856.1 948L857.9 946L858.1 946L884.5 946L886.3 948L886.7 947.7L888.3 946L921.3 946L923.1 948L925.1 946L937.9 946L938.1 946L939.9 948.1L941.7 946L951.5 946L951.7 946L952.5 947.1L953.5 948L955.3 946L957.9 946L958.1 946.1L959.7 948.6L961.3 946L961.5 946L974.7 946L976.7 948L978.5 946L982.7 946L984.5 948L984.9 947.8L986.5 946L994.5 946L996.5 948L998.3 946L1003.1 946L1004.9 948L1006.9 946L1013.7 946L1013.9 946L1015.7 948.1L1017.5 946L1025.7 946L1027.5 948L1028.1 947.5L1029.5 946L1031.3 946L1032.9 947.7L1033.3 948L1035.1 946L1037.9 946L1039.7 948L1040.7 947.1L1041.5 946L1041.7 946L1058.9 946L1059.1 946.2L1059.5 948L1060.1 951.6L1060.9 958.6L1061.5 965.5L1062.9 951.7L1063.5 948L1063.9 946.2L1064.1 946L1089.3 946L1089.5 946L1091.1 948.9L1091.3 948.9L1092.9 946L1093.1 946L1134.5 946L1136.5 948L1138.3 946L1188.3 946L1190.1 948L1190.5 947.8L1192.1 946L1228.5 946L1230.3 948L1232.3 946L1239.5 946L1239.9 946.7L1241.1 950.4L1242.3 946.6L1242.5 946.1L1242.7 946L1247.7 946L1249.5 948L1249.9 947.7L1251.5 946L1304.3 946L1306.1 948L1306.9 947.3L1307.9 946L1308.1 946L1540.7 946L1541.5 954.9L1542.3 946L1550.1 946L1551.9 948L1552.5 947.5L1553.9 946L1560.5 946L1562.1 947.7L1562.5 948L1564.3 946L1786.1 946L1786.3 946L1788.1 948.1L1789.9 946L1790.1 946L1790.1 944ZM13.5 989.6L13.5 991.6L24.5 991.6L26.3 993.7L28.1 991.6L34.9 991.6L36.7 994.1L36.9 994L38.7 991.6L47.7 991.7L49.5 993.7L51.3 991.6L51.5 991.6L92.3 991.6L94.1 993.6L94.5 993.4L96.1 991.6L103.5 991.6L103.7 991.7L105.5 993.7L107.3 991.6L122.5 991.6L123.9 993.2L124.5 993.7L126.3 991.6L135.9 991.6L137.7 993.7L138.7 992.7L139.5 991.7L139.7 991.6L142.3 991.6L143.9 993.4L144.3 993.7L146.1 991.6L149.5 991.6L151.3 995L153.1 991.6L166.7 991.6L168.3 994.2L169.9 991.6L184.7 991.6L186.7 993.7L188.5 991.6L225.9 991.6L226.1 991.8L226.3 992.4L227.7 997.4L228.5 994.2L229.3 991.6L230.7 991.6L232.5 994.9L234.3 991.6L235.9 991.6L237.5 994.3L237.7 994.2L239.3 991.6L251.1 991.6L252.1 995.8L253.1 1002L254.1 996L255.1 991.6L300.7 991.6L302.3 993.4L302.7 993.6L304.5 991.6L332.7 991.6L334.5 993.7L335.1 993.2L336.5 991.6L365.1 991.6L365.3 991.7L367.1 993.7L368.9 991.6L378.5 991.6L380.3 993.7L380.7 993.4L382.3 991.6L392.5 991.6L394.5 999.7L396.5 991.6L405.3 991.6L405.5 991.7L406.9 994.4L407.3 994.9L409.1 991.6L418.9 991.6L420.5 993.4L420.9 993.6L422.7 991.6L439.7 991.6L441.1 995.6L441.3 995.4L442.3 992.4L442.7 991.6L453.5 991.6L455.3 993.7L457.1 991.7L464.1 991.6L464.9 994.4L466.1 1000.4L466.3 1000.2L466.5 1000.3L468.5 991.6L473.5 991.6L473.7 991.7L474.7 992.9L475.5 993.7L477.3 991.6L504.7 991.6L506.5 993.7L506.9 993.4L508.5 991.6L519.7 991.6L521.5 993.7L522.1 993.2L523.5 991.6L532.3 991.6L532.5 991.7L534.3 993.7L536.1 991.6L550.7 991.6L551.5 994.4L552.7 1000.4L553.9 994.1L554.5 991.8L554.7 991.6L557.9 991.6L559.7 993.7L561.7 991.6L567.1 991.6L567.7 993.9L568.3 997.7L569.5 1009.2L569.7 1010.1L570.9 998.2L571.5 994.3L572.1 991.6L574.9 991.6L576.7 993.7L578.5 991.7L578.7 991.6L636.1 991.6L636.3 991.7L637.1 992.7L638.1 993.7L639.9 991.6L704.3 991.6L705.7 993.2L706.3 993.7L708.1 991.6L728.1 991.6L728.3 991.8L728.7 993.1L729.9 998.3L730.1 998.2L731.5 992.3L731.7 991.7L731.9 991.6L743.1 991.6L744.9 993.6L745.3 993.4L746.9 991.6L754.3 991.6L754.5 991.7L756.3 993.7L758.1 991.6L765.1 991.6L765.3 991.7L766.9 994.8L767.1 994.9L768.9 991.6L772.9 991.7L773.7 992.7L774.7 993.7L776.5 991.6L785.5 991.6L787.3 993.6L787.7 993.4L789.3 991.6L800.1 991.6L800.3 991.6L802.1 993.7L803.9 991.6L804.1 991.6L829.3 991.6L830.7 993.2L831.3 993.7L833.1 991.6L843.5 991.6L845.3 993.7L845.7 993.4L847.3 991.6L854.3 991.6L856.1 993.7L857.9 991.7L858.1 991.6L884.5 991.6L886.3 993.6L886.7 993.4L888.3 991.6L915.7 991.6L915.9 991.7L917.5 994.4L919.1 991.7L919.3 991.6L921.3 991.6L923.1 993.7L925.1 991.6L937.9 991.6L938.1 991.6L939.9 993.7L941.7 991.6L951.5 991.6L951.7 991.7L952.5 992.7L953.5 993.7L955.3 991.6L956.7 991.6L956.9 991.7L957.1 992.2L958.3 995.8L959.7 991.6L960.9 991.6L962.5 994.2L964.1 991.6L964.3 991.6L974.7 991.6L976.7 993.7L978.5 991.6L982.7 991.6L984.5 993.6L984.9 993.4L986.5 991.6L994.5 991.6L996.5 993.7L998.3 991.6L1003.1 991.6L1004.9 993.7L1006.9 991.6L1013.7 991.6L1013.9 991.7L1015.7 993.7L1017.5 991.6L1031.3 991.6L1032.9 993.4L1033.3 993.6L1035.1 991.6L1037.9 991.6L1039.7 993.7L1040.7 992.7L1041.5 991.7L1041.7 991.6L1044.1 991.6L1045.9 993.7L1047.9 991.6L1051.1 991.6L1052.7 993.4L1053.1 993.6L1054.9 991.6L1058.9 991.6L1059.1 991.8L1059.3 992.6L1060.1 997.2L1060.9 1004.1L1061.5 1010.8L1062.9 997.2L1063.7 992.6L1063.9 991.8L1064.1 991.6L1089.5 991.6L1091.1 994.3L1091.3 994.3L1092.9 991.6L1228.5 991.6L1230.3 993.7L1232.3 991.6L1239.5 991.6L1239.7 991.7L1239.9 992.2L1241.1 995.8L1242.3 992.1L1242.5 991.6L1242.7 991.6L1247.7 991.6L1249.5 993.7L1249.9 993.4L1251.5 991.6L1304.3 991.6L1306.1 993.7L1306.9 992.9L1307.9 991.7L1308.1 991.6L1560.5 991.6L1562.1 993.4L1562.5 993.6L1564.3 991.6L1764.9 991.6L1765.1 991.7L1766.9 993.7L1768.7 991.6L1786.1 991.6L1786.3 991.6L1788.1 993.7L1789.9 991.6L1790.1 991.6L1790.1 989.6ZM13.5 1035.3L13.5 1037.3L24.5 1037.3L26.3 1039.4L28.1 1037.3L28.3 1037.3L47.5 1037.3L47.7 1037.3L49.5 1039.4L51.3 1037.3L51.5 1037.3L92.3 1037.3L94.1 1039.3L94.5 1039.1L96.1 1037.3L103.5 1037.3L103.7 1037.3L105.5 1039.4L107.3 1037.3L122.5 1037.3L123.9 1038.9L124.5 1039.3L126.3 1037.3L135.9 1037.3L137.7 1039.4L138.7 1038.4L139.5 1037.3L139.7 1037.3L142.3 1037.3L143.9 1039.1L144.3 1039.3L146.1 1037.3L155.1 1037.3L156.9 1040.8L157.1 1040.7L158.9 1037.3L166.3 1037.3L166.5 1037.4L168.3 1040.9L170.1 1037.3L171.9 1040.9L173.9 1037.3L184.7 1037.3L186.7 1039.3L188.5 1037.3L226.1 1037.3L226.5 1038.1L227.7 1041.6L228.9 1037.8L229.1 1037.3L229.3 1037.3L300.1 1037.3L301.9 1040.7L302.1 1040.8L303.1 1038.9L304.5 1037.3L332.7 1037.3L334.5 1039.3L335.1 1038.8L336.5 1037.3L365.1 1037.3L365.3 1037.3L367.1 1039.4L368.9 1037.3L378.5 1037.3L380.3 1039.3L380.7 1039.1L382.3 1037.3L392.5 1037.3L394.5 1044.7L396.5 1037.3L405.5 1037.4L406.3 1040.3L407.1 1044L407.3 1044.4L408.3 1039.8L408.9 1037.6L409.1 1037.3L418.9 1037.3L420.5 1039.1L420.9 1039.3L422.7 1037.3L438.9 1037.3L439.3 1038.4L439.9 1041.4L441.1 1050.1L441.3 1049.7L442.7 1040.1L443.3 1037.4L443.5 1037.3L453.5 1037.3L455.3 1039.4L457.1 1037.3L464.1 1037.3L464.9 1040L466.1 1046L466.3 1045.2L466.5 1045.3L468.5 1037.3L473.5 1037.3L473.7 1037.4L474.7 1038.6L475.5 1039.3L477.3 1037.3L488.3 1037.3L489.9 1039.9L491.5 1037.3L504.7 1037.3L506.5 1039.3L506.9 1039.1L508.5 1037.3L519.7 1037.3L521.5 1039.3L522.1 1038.8L523.5 1037.3L532.3 1037.3L532.5 1037.3L534.3 1039.4L536.1 1037.3L557.9 1037.3L559.7 1039.3L561.7 1037.3L574.7 1037.3L574.9 1037.3L576.7 1039.4L578.5 1037.3L578.7 1037.3L636.1 1037.3L636.3 1037.3L637.1 1038.4L638.1 1039.4L639.9 1037.3L704.3 1037.3L705.7 1038.9L706.3 1039.3L708.1 1037.3L728.1 1037.3L728.3 1037.5L728.9 1039.7L729.9 1044.3L730.1 1044.2L731.5 1038.1L731.7 1037.4L731.9 1037.3L743.1 1037.3L744.9 1039.3L745.3 1039.1L746.9 1037.3L765.1 1037.3L766.5 1038.8L767.1 1039.3L768.9 1037.3L772.7 1037.3L772.9 1037.3L773.7 1038.4L774.7 1039.4L776.5 1037.3L785.5 1037.3L787.3 1039.3L787.7 1039.1L789.3 1037.3L800.1 1037.3L800.3 1037.3L802.1 1039.4L803.9 1037.3L804.1 1037.3L829.3 1037.3L830.7 1038.9L831.3 1039.3L833.1 1037.3L843.5 1037.3L845.3 1039.3L845.7 1039.1L847.3 1037.3L854.3 1037.3L856.1 1039.4L857.9 1037.3L858.1 1037.3L884.5 1037.3L886.3 1039.3L886.7 1039.1L888.3 1037.3L914.9 1037.3L915.1 1037.3L916.9 1040.9L918.7 1037.4L918.9 1037.3L921.3 1037.3L923.1 1039.3L925.1 1037.3L937.9 1037.3L938.1 1037.3L939.9 1039.4L941.7 1037.3L951.5 1037.3L951.7 1037.3L952.5 1038.4L953.5 1039.4L955.3 1037.3L955.7 1037.3L955.9 1037.5L956.1 1038.2L956.9 1042.8L958.3 1055.7L959.5 1044L960.1 1040L960.7 1037.3L960.9 1037.3L962.5 1039.8L964.1 1037.3L971.9 1037.3L972.5 1039.1L973.7 1044.9L973.9 1045.3L974.9 1040.2L975.5 1038.2L976.7 1039.3L978.5 1037.3L982.7 1037.3L984.5 1039.3L984.9 1039.1L986.5 1037.3L994.5 1037.3L996.5 1039.3L998.3 1037.3L1003.1 1037.3L1004.9 1039.3L1006.9 1037.3L1013.7 1037.3L1013.9 1037.3L1015.7 1039.4L1017.5 1037.3L1027.3 1037.3L1028.9 1039.8L1029.1 1039.7L1030.5 1037.4L1030.7 1037.3L1031.3 1037.3L1031.5 1037.4L1032.7 1038.9L1033.3 1039.3L1035.1 1037.3L1037.9 1037.3L1039.7 1039.4L1040.7 1038.4L1041.5 1037.3L1041.7 1037.3L1044.1 1037.3L1045.9 1039.3L1047.9 1037.3L1058.9 1037.3L1059.1 1037.5L1059.5 1039.3L1060.1 1043L1060.9 1049.9L1061.5 1056.8L1062.9 1043L1063.5 1039.3L1063.9 1037.6L1064.1 1037.3L1089.9 1037.3L1090.1 1037.5L1091.7 1041.6L1091.9 1041.5L1092.3 1040.5L1093.5 1037.3L1093.7 1037.3L1228.5 1037.3L1230.3 1039.3L1232.3 1037.3L1239.3 1037.3L1239.9 1038.9L1241.1 1043.8L1242.3 1038.8L1242.7 1037.5L1242.9 1037.3L1247.7 1037.3L1249.5 1039.3L1249.9 1039.1L1251.5 1037.3L1304.3 1037.3L1306.1 1039.4L1306.9 1038.6L1307.9 1037.3L1308.1 1037.3L1574.7 1037.3L1576.5 1039.3L1577.1 1038.8L1578.5 1037.3L1790.1 1037.3L1790.1 1035.3ZM13.5 1080.9L13.5 1082.9L13.9 1082.9L15.5 1085.7L17.3 1082.9L24.5 1083L26.3 1085L28.1 1083L28.3 1082.9L47.5 1082.9L47.7 1083L49.5 1085L51.3 1082.9L51.5 1082.9L92.3 1082.9L94.1 1085L94.5 1084.7L96.1 1082.9L103.5 1082.9L103.7 1083L105.5 1085L107.3 1082.9L122.5 1082.9L123.9 1084.5L124.5 1085L126.3 1082.9L135.9 1082.9L137.7 1085L138.7 1084L139.5 1083L139.7 1082.9L142.3 1082.9L143.9 1084.7L144.3 1085L146.1 1082.9L155.3 1082.9L156.9 1085.5L157.1 1085.3L158.5 1083L158.7 1082.9L184.7 1082.9L186.7 1085L188.5 1082.9L226.1 1082.9L226.3 1083.1L227.7 1087L229.1 1082.9L234.7 1082.9L234.9 1083L235.7 1086.6L236.9 1094.8L237.1 1094.7L238.5 1085.5L239.1 1083L239.3 1082.9L250.9 1082.9L251.1 1083.1L251.9 1086.7L253.1 1094.6L254.3 1086.8L254.9 1084L255.1 1083.2L255.3 1082.9L300.7 1082.9L302.3 1084.7L302.7 1084.9L304.5 1082.9L332.7 1082.9L334.5 1085L335.1 1084.5L336.5 1082.9L365.1 1082.9L365.3 1083L367.1 1085L368.9 1082.9L378.5 1082.9L380.3 1085L380.7 1084.7L382.3 1082.9L392.3 1082.9L394.5 1089.5L396.7 1082.9L418.9 1082.9L420.5 1084.7L420.9 1085L422.7 1082.9L439.1 1082.9L440.1 1087.1L441.1 1093.5L441.3 1093.1L442.5 1085.8L443.1 1083.3L443.3 1082.9L453.5 1082.9L455.3 1085L457.1 1083L457.3 1082.9L473.5 1082.9L473.7 1083L474.7 1084.3L475.5 1085L477.3 1082.9L487.3 1082.9L487.5 1083L488.9 1085.3L489.1 1085.4L490.7 1082.9L504.3 1082.9L505.3 1087.6L506.5 1097L506.7 1096.5L507.9 1087.3L508.5 1084.1L508.9 1082.9L519.7 1082.9L521.5 1085L522.1 1084.5L523.5 1082.9L532.3 1082.9L532.5 1083L534.3 1085L536.1 1082.9L539.5 1082.9L541.3 1085L541.9 1084.5L543.3 1082.9L546.5 1082.9L548.1 1084.7L548.5 1085L550.3 1082.9L557.9 1082.9L559.7 1085L561.7 1082.9L574.7 1082.9L574.9 1082.9L576.7 1085L578.5 1083L578.7 1082.9L620.1 1082.9L621.9 1085L622.5 1084.5L623.9 1082.9L636.1 1082.9L636.3 1083L637.1 1084L638.1 1085L639.9 1082.9L652.1 1082.9L653.9 1085L655.7 1083L655.9 1082.9L704.3 1082.9L705.7 1084.5L706.3 1085L708.1 1082.9L728.3 1082.9L729.1 1085.7L729.9 1089.1L730.1 1089L730.9 1085.6L731.7 1082.9L743.1 1082.9L744.9 1085L745.3 1084.7L746.9 1082.9L765.1 1082.9L766.5 1084.5L767.1 1085L768.9 1082.9L772.7 1082.9L772.9 1083L773.7 1084L774.7 1085L776.5 1082.9L785.5 1082.9L787.3 1084.9L787.7 1084.7L789.3 1082.9L800.1 1082.9L800.3 1083L802.1 1085L803.9 1083L804.1 1082.9L829.3 1082.9L830.7 1084.5L831.3 1085L833.1 1082.9L843.5 1082.9L845.3 1085L845.7 1084.7L847.3 1082.9L854.3 1082.9L856.1 1085L857.9 1083L858.1 1082.9L884.5 1082.9L886.3 1085L886.7 1084.7L888.3 1082.9L921.3 1082.9L923.1 1085L925.1 1082.9L951.5 1082.9L951.7 1083L952.5 1084L953.5 1085L955.3 1082.9L957.9 1082.9L958.1 1083L959.7 1085.5L961.3 1083L961.5 1082.9L974.7 1082.9L976.7 1085L978.5 1082.9L982.7 1082.9L984.5 1085L984.9 1084.7L986.5 1082.9L994.5 1082.9L996.5 1085L998.3 1082.9L1003.1 1082.9L1004.9 1085L1006.9 1082.9L1013.7 1082.9L1013.9 1083L1015.7 1085L1017.5 1082.9L1027.1 1082.9L1028.9 1085L1029.5 1084.5L1030.7 1083.1L1030.9 1082.9L1031.3 1082.9L1032.9 1084.7L1033.3 1085L1035.1 1082.9L1037.9 1082.9L1039.7 1085L1040.7 1084L1041.5 1083L1041.7 1082.9L1058.9 1082.9L1059.1 1083.2L1059.5 1084.9L1060.1 1088.6L1060.9 1095.6L1061.5 1102.5L1062.9 1088.7L1063.5 1085L1063.9 1083.2L1064.1 1082.9L1077.5 1082.9L1079.3 1085L1081.1 1083L1081.3 1082.9L1122.7 1082.9L1124.5 1085L1124.9 1084.7L1126.5 1082.9L1228.5 1082.9L1230.3 1085L1232.3 1082.9L1239.5 1082.9L1239.7 1083L1239.9 1083.5L1241.1 1087.1L1242.3 1083.5L1242.5 1083L1242.7 1082.9L1247.7 1082.9L1249.5 1085L1249.9 1084.7L1251.5 1082.9L1304.3 1082.9L1306.1 1085L1306.9 1084.3L1307.9 1083L1308.1 1082.9L1560.5 1082.9L1562.1 1084.7L1562.5 1085L1564.3 1082.9L1790.1 1082.9L1790.1 1080.9ZM13.5 1126.6L13.5 1128.6L14.1 1128.6L15.5 1132.6L16.9 1128.8L17.1 1128.6L24.5 1128.6L26.3 1130.7L28.1 1128.6L28.3 1128.6L47.5 1128.6L47.7 1128.6L49.5 1130.7L51.3 1128.6L51.5 1128.6L92.3 1128.6L94.1 1130.6L94.5 1130.4L96.1 1128.6L103.5 1128.6L103.7 1128.6L105.5 1130.7L107.3 1128.6L122.5 1128.6L123.9 1130.2L124.5 1130.6L126.3 1128.6L135.9 1128.6L137.7 1130.7L138.7 1129.7L139.5 1128.7L139.7 1128.6L142.3 1128.6L143.9 1130.4L144.3 1130.6L146.1 1128.6L155.3 1128.6L156.9 1131.1L157.1 1131L158.5 1128.7L158.7 1128.6L166.5 1128.6L167.1 1130.3L168.3 1135L169.5 1130L169.9 1128.8L170.1 1128.6L184.7 1128.6L186.7 1130.7L188.5 1128.6L226.1 1128.6L227.7 1133.2L228.9 1129.3L229.1 1128.7L229.3 1128.6L230.7 1128.6L230.9 1128.7L232.5 1131.4L234.1 1128.6L234.7 1128.6L234.9 1128.7L235.7 1132.3L236.9 1140.5L237.1 1140.3L238.5 1131.1L239.1 1128.6L239.3 1128.6L251.1 1128.6L252.1 1132.8L253.1 1139L254.1 1132.9L255.1 1128.6L300.7 1128.6L302.3 1130.4L302.7 1130.6L304.5 1128.6L332.7 1128.6L334.5 1130.6L335.1 1130.2L336.5 1128.6L365.1 1128.6L365.3 1128.6L367.1 1130.7L368.9 1128.6L378.5 1128.6L380.3 1130.6L380.7 1130.4L382.3 1128.6L392.3 1128.6L394.5 1135.1L396.7 1128.6L405.3 1128.6L407.1 1132L407.3 1132.1L409.1 1128.6L418.9 1128.6L420.5 1130.4L420.9 1130.6L422.7 1128.6L439.1 1128.6L440.1 1132.8L441.1 1139.1L441.3 1138.8L442.5 1131.5L443.1 1129L443.3 1128.6L453.5 1128.6L455.3 1130.7L457.1 1128.6L457.3 1128.6L473.5 1128.6L473.7 1128.7L474.7 1129.9L475.5 1130.7L477.3 1128.6L487.3 1128.6L487.5 1128.7L488.9 1131L489.1 1131.1L490.7 1128.6L504.3 1128.6L505.3 1133.2L506.5 1142.6L506.7 1142.1L507.9 1132.9L508.5 1129.8L508.9 1128.6L519.7 1128.6L521.5 1130.6L522.1 1130.2L523.5 1128.6L532.3 1128.6L532.5 1128.6L534.3 1130.7L536.1 1128.6L539.5 1128.6L541.3 1130.6L541.9 1130.2L543.3 1128.6L546.5 1128.6L548.1 1130.4L548.5 1130.6L550.3 1128.6L557.9 1128.6L559.7 1130.7L561.7 1128.6L574.7 1128.6L574.9 1128.6L576.7 1130.7L578.5 1128.6L578.7 1128.6L620.1 1128.6L621.9 1130.6L622.5 1130.2L623.9 1128.6L636.1 1128.6L636.3 1128.7L637.1 1129.7L638.1 1130.7L639.9 1128.6L652.1 1128.6L653.9 1130.7L655.7 1128.6L655.9 1128.6L658.3 1128.6L660.1 1130.7L660.9 1129.9L661.9 1128.7L662.1 1128.6L704.3 1128.6L705.7 1130.2L706.3 1130.6L708.1 1128.6L728.3 1128.6L729.1 1131.3L729.9 1134.8L730.1 1134.6L730.9 1131.2L731.7 1128.6L743.1 1128.6L744.9 1130.6L745.3 1130.4L746.9 1128.6L765.1 1128.6L766.5 1130.2L767.1 1130.6L768.9 1128.6L772.7 1128.6L772.9 1128.7L773.7 1129.7L774.7 1130.7L776.5 1128.6L785.5 1128.6L787.3 1130.6L787.7 1130.4L789.3 1128.6L800.1 1128.6L800.3 1128.6L802.1 1130.7L803.9 1128.6L804.1 1128.6L829.3 1128.6L830.7 1130.2L831.3 1130.6L833.1 1128.6L843.5 1128.6L845.3 1130.6L845.7 1130.4L847.3 1128.6L854.3 1128.6L856.1 1130.7L857.9 1128.7L858.1 1128.6L884.5 1128.6L886.3 1130.6L886.7 1130.4L888.3 1128.6L921.3 1128.6L923.1 1130.7L925.1 1128.6L951.5 1128.6L951.7 1128.7L952.5 1129.7L953.5 1130.7L955.3 1128.6L957.9 1128.6L958.1 1128.7L959.7 1131.2L961.3 1128.7L961.5 1128.6L974.7 1128.6L976.7 1130.7L978.5 1128.6L982.7 1128.6L984.5 1130.6L984.9 1130.4L986.5 1128.6L994.5 1128.6L996.5 1130.7L998.3 1128.6L1003.1 1128.6L1004.9 1130.7L1006.9 1128.6L1013.7 1128.6L1013.9 1128.6L1015.7 1130.7L1017.5 1128.6L1027.5 1128.6L1028.9 1132.5L1029.1 1132.4L1030.1 1129.4L1030.5 1128.6L1031.3 1128.6L1031.5 1128.7L1032.7 1130.2L1033.3 1130.6L1035.1 1128.6L1037.9 1128.6L1039.7 1130.7L1040.7 1129.7L1041.5 1128.7L1041.7 1128.6L1058.9 1128.6L1059.1 1128.8L1059.5 1130.6L1060.1 1134.3L1060.9 1141.3L1061.5 1148.1L1062.9 1134.3L1063.5 1130.6L1063.9 1128.9L1064.1 1128.6L1077.5 1128.6L1079.3 1130.7L1081.1 1128.7L1081.3 1128.6L1089.3 1128.6L1090.1 1131.2L1091.1 1136.1L1091.3 1136.1L1092.3 1131.2L1093.1 1128.6L1122.7 1128.6L1124.5 1130.6L1124.9 1130.4L1126.5 1128.6L1228.5 1128.6L1230.3 1130.7L1232.3 1128.6L1239.5 1128.6L1239.7 1128.7L1239.9 1129.2L1241.1 1132.8L1242.3 1129.1L1242.5 1128.6L1242.7 1128.6L1247.7 1128.6L1249.5 1130.6L1249.9 1130.4L1251.5 1128.6L1304.3 1128.6L1306.1 1130.7L1306.9 1129.9L1307.9 1128.7L1308.1 1128.6L1560.5 1128.6L1562.1 1130.4L1562.5 1130.6L1564.3 1128.6L1790.1 1128.6L1790.1 1126.6ZM13.5 1172.3L13.5 1174.3L13.7 1174.3L15.5 1177.8L15.7 1177.7L17.5 1174.3L24.5 1174.3L26.3 1176.4L28.1 1174.3L28.3 1174.3L47.5 1174.3L47.7 1174.3L49.5 1176.4L51.3 1174.3L51.5 1174.3L92.3 1174.3L94.1 1176.3L94.5 1176L96.1 1174.3L103.5 1174.3L103.7 1174.3L105.5 1176.3L107.3 1174.3L122.5 1174.3L123.9 1175.8L124.5 1176.3L126.3 1174.3L135.9 1174.3L137.7 1176.3L138.7 1175.4L139.5 1174.3L139.7 1174.3L142.3 1174.3L143.9 1176L144.3 1176.3L146.1 1174.3L184.7 1174.3L186.7 1176.3L188.5 1174.3L225.9 1174.3L226.1 1174.4L226.3 1175L227.7 1180L228.5 1176.8L229.3 1174.3L230.7 1174.3L232.5 1177.3L234.1 1174.4L234.3 1174.3L234.7 1174.3L234.9 1174.4L235.1 1175.2L235.7 1178.1L236.9 1186.4L237.1 1186.3L238.5 1176.9L239.1 1174.4L239.3 1174.3L251.1 1174.3L252.1 1178.5L253.1 1184.7L254.1 1178.6L255.1 1174.3L300.7 1174.3L302.3 1176.1L302.7 1176.3L304.5 1174.3L332.7 1174.3L334.5 1176.3L335.1 1175.8L336.5 1174.3L365.1 1174.3L365.3 1174.3L367.1 1176.3L368.9 1174.3L378.5 1174.3L380.3 1176.3L380.7 1176L382.3 1174.3L392.3 1174.3L394.5 1181.1L396.7 1174.3L418.9 1174.3L420.5 1176.1L420.9 1176.3L422.7 1174.3L439.1 1174.3L439.5 1175.4L440.1 1178.1L441.1 1184.2L441.3 1183.9L442.5 1176.9L443.1 1174.5L443.3 1174.3L453.5 1174.3L455.3 1176.3L457.1 1174.3L457.3 1174.3L473.5 1174.3L473.7 1174.3L474.7 1175.6L475.5 1176.3L477.3 1174.3L487.3 1174.3L487.5 1174.3L488.9 1176.7L489.1 1176.8L490.7 1174.3L504.3 1174.3L505.3 1179L506.5 1188.6L506.7 1188.1L507.9 1178.7L508.5 1175.5L508.9 1174.3L519.7 1174.3L521.5 1176.3L522.1 1175.8L523.5 1174.3L532.3 1174.3L532.5 1174.3L534.3 1176.3L536.1 1174.3L539.5 1174.3L541.3 1176.3L541.9 1175.8L543.3 1174.3L546.5 1174.3L548.1 1176L548.5 1176.3L550.3 1174.3L557.9 1174.3L559.7 1176.3L561.7 1174.3L574.7 1174.3L574.9 1174.3L576.7 1176.4L578.5 1174.3L578.7 1174.3L620.1 1174.3L621.9 1176.3L622.5 1175.8L623.9 1174.3L636.1 1174.3L636.3 1174.3L637.1 1175.4L638.1 1176.3L639.9 1174.3L652.1 1174.3L653.9 1176.3L655.7 1174.3L655.9 1174.3L704.3 1174.3L705.7 1175.8L706.3 1176.3L708.1 1174.3L728.1 1174.3L728.3 1174.3L728.7 1175.6L729.9 1180.7L730.1 1180.6L730.9 1177L731.7 1174.3L743.1 1174.3L744.9 1176.3L745.3 1176L746.9 1174.3L765.1 1174.3L766.5 1175.8L767.1 1176.3L768.9 1174.3L772.7 1174.3L772.9 1174.3L773.7 1175.4L774.7 1176.3L776.5 1174.3L785.5 1174.3L787.3 1176.3L787.7 1176.1L789.3 1174.3L800.1 1174.3L800.3 1174.3L802.1 1176.4L803.9 1174.3L804.1 1174.3L829.3 1174.3L830.7 1175.8L831.3 1176.3L833.1 1174.3L843.5 1174.3L845.3 1176.3L845.7 1176L847.3 1174.3L854.3 1174.3L856.1 1176.3L857.9 1174.3L858.1 1174.3L884.5 1174.3L886.3 1176.3L886.7 1176L888.3 1174.3L921.3 1174.3L923.1 1176.3L925.1 1174.3L951.5 1174.3L951.7 1174.3L952.5 1175.4L953.5 1176.3L955.3 1174.3L957.9 1174.3L958.1 1174.4L959.7 1176.9L961.3 1174.3L961.5 1174.3L974.7 1174.3L976.7 1176.3L978.5 1174.3L982.7 1174.3L984.5 1176.3L984.9 1176.1L986.5 1174.3L994.5 1174.3L996.5 1176.3L998.3 1174.3L1003.1 1174.3L1004.9 1176.3L1006.9 1174.3L1007.3 1174.3L1009.1 1176.3L1009.5 1176.1L1011.1 1174.3L1013.7 1174.3L1013.9 1174.3L1015.7 1176.4L1017.5 1174.3L1027.1 1174.3L1028.9 1176.3L1029.5 1175.8L1030.7 1174.4L1030.9 1174.3L1031.3 1174.3L1032.9 1176L1033.3 1176.3L1035.1 1174.3L1037.9 1174.3L1039.7 1176.3L1040.7 1175.4L1041.5 1174.3L1041.7 1174.3L1058.9 1174.3L1059.1 1174.5L1059.5 1176.3L1060.1 1179.9L1060.9 1186.9L1061.5 1193.8L1062.9 1180L1063.5 1176.3L1063.9 1174.5L1064.1 1174.3L1077.5 1174.3L1079.3 1176.3L1081.1 1174.3L1081.3 1174.3L1122.7 1174.3L1124.5 1176.3L1124.9 1176L1126.5 1174.3L1228.5 1174.3L1230.3 1176.3L1232.3 1174.3L1239.1 1174.3L1239.3 1174.4L1241.1 1177.9L1242.9 1174.3L1243.1 1174.3L1247.7 1174.3L1249.5 1176.3L1249.9 1176L1251.5 1174.3L1273.1 1174.3L1274.7 1176L1275.1 1176.3L1276.9 1174.3L1304.3 1174.3L1306.1 1176.3L1306.9 1175.6L1307.9 1174.3L1308.1 1174.3L1560.5 1174.3L1562.1 1176L1562.5 1176.3L1564.3 1174.3L1790.1 1174.3L1790.1 1172.3ZM13.5 1217.9L13.5 1219.9L13.7 1219.9L15.5 1223.5L15.7 1223.3L17.5 1219.9L24.5 1219.9L26.3 1222L28.1 1219.9L28.3 1219.9L47.5 1219.9L47.7 1220L49.5 1222L51.3 1219.9L51.5 1219.9L92.3 1219.9L94.1 1221.9L94.5 1221.7L96.1 1219.9L103.5 1219.9L103.7 1220L105.5 1222L107.3 1219.9L122.5 1219.9L123.9 1221.5L124.5 1222L126.3 1219.9L135.9 1219.9L137.7 1222L138.7 1221L139.5 1220L139.7 1219.9L142.3 1219.9L143.9 1221.7L144.3 1222L146.1 1219.9L184.7 1219.9L186.7 1222L188.5 1219.9L226.1 1219.9L226.5 1220.7L227.7 1224.3L229.1 1220L234.7 1219.9L234.9 1220L235.7 1223.5L236.9 1231.5L237.1 1231.4L238.1 1224.5L239.1 1219.9L250.9 1219.9L251.1 1220L252.1 1224.6L253.1 1231.2L254.3 1223.6L255.1 1220.1L255.3 1219.9L300.7 1219.9L302.3 1221.7L302.7 1221.9L304.5 1219.9L332.7 1219.9L334.5 1222L335.1 1221.5L336.5 1219.9L365.1 1219.9L365.3 1220L367.1 1222L368.9 1219.9L378.5 1219.9L380.3 1222L380.7 1221.7L382.3 1219.9L392.3 1219.9L394.5 1226.8L396.7 1219.9L401.3 1219.9L402.9 1222.8L403.1 1222.8L404.7 1219.9L418.9 1219.9L420.5 1221.7L420.9 1221.9L422.7 1219.9L439.1 1219.9L439.5 1221.1L440.1 1223.8L441.1 1229.9L441.3 1229.6L442.5 1222.6L443.1 1220.1L443.3 1219.9L453.5 1219.9L455.3 1222L457.1 1220L457.3 1219.9L473.5 1219.9L473.7 1220L474.7 1221.2L475.5 1222L477.3 1219.9L487.3 1219.9L487.5 1220L488.9 1222.3L489.1 1222.4L490.7 1219.9L504.3 1219.9L504.7 1221.3L505.3 1224.4L506.5 1233.7L506.7 1233.2L507.9 1224.1L508.5 1221L508.9 1219.9L519.7 1219.9L521.5 1222L522.1 1221.5L523.5 1219.9L532.3 1219.9L532.5 1220L534.3 1222L536.1 1219.9L557.9 1219.9L559.7 1222L561.7 1219.9L574.7 1219.9L574.9 1219.9L576.7 1222L578.5 1220L578.7 1219.9L620.1 1219.9L621.9 1222L622.5 1221.5L623.9 1219.9L636.1 1219.9L636.3 1220L637.1 1221L638.1 1222L639.9 1219.9L652.1 1219.9L653.9 1222L655.7 1220L655.9 1219.9L704.3 1219.9L705.7 1221.5L706.3 1222L708.1 1219.9L728.3 1219.9L729.1 1222.5L729.9 1225.8L730.1 1225.7L731.1 1221.7L731.7 1219.9L743.1 1219.9L744.9 1221.9L745.3 1221.7L746.9 1219.9L765.1 1219.9L766.5 1221.5L767.1 1222L768.9 1219.9L772.7 1219.9L772.9 1220L773.7 1221L774.7 1222L776.5 1219.9L785.5 1219.9L787.3 1221.9L787.7 1221.7L789.3 1219.9L800.1 1219.9L800.3 1219.9L802.1 1222L803.9 1219.9L804.1 1219.9L829.3 1219.9L830.7 1221.5L831.3 1222L833.1 1219.9L843.5 1219.9L845.3 1222L845.7 1221.7L847.3 1219.9L854.3 1219.9L856.1 1222L857.9 1220L858.1 1219.9L884.5 1219.9L886.3 1221.9L886.7 1221.7L888.3 1219.9L921.3 1219.9L923.1 1222L925.1 1219.9L934.7 1219.9L935.1 1221.1L935.7 1224.2L937.1 1235L938.3 1225.1L939.1 1220.8L939.3 1220L939.5 1219.9L951.5 1219.9L951.7 1220L952.5 1221L953.5 1222L955.3 1219.9L957.9 1219.9L958.1 1220L959.7 1222.5L961.3 1220L961.5 1219.9L974.7 1219.9L976.7 1222L978.5 1219.9L982.7 1219.9L984.5 1221.9L984.9 1221.7L986.5 1219.9L994.5 1219.9L996.5 1222L998.3 1219.9L1003.1 1219.9L1004.9 1222L1006.9 1219.9L1013.7 1219.9L1013.9 1220L1015.7 1222L1017.5 1219.9L1022.9 1219.9L1024.7 1223.5L1026.7 1219.9L1031.3 1219.9L1032.9 1221.7L1033.3 1221.9L1035.1 1219.9L1037.9 1219.9L1039.7 1222L1040.7 1221L1041.5 1220L1041.7 1219.9L1058.9 1219.9L1059.1 1220.1L1059.3 1220.8L1060.1 1225.4L1060.9 1232.2L1061.5 1238.8L1062.9 1225.4L1063.7 1220.9L1063.9 1220.1L1064.1 1219.9L1228.5 1219.9L1230.3 1222L1232.3 1219.9L1239.1 1219.9L1239.3 1220L1241.1 1223.6L1242.9 1220L1243.1 1219.9L1247.7 1219.9L1249.5 1222L1249.9 1221.7L1251.5 1219.9L1304.3 1219.9L1306.1 1222L1306.9 1221.2L1307.9 1220L1308.1 1219.9L1331.9 1219.9L1333.9 1222L1335.7 1219.9L1560.5 1219.9L1562.1 1221.7L1562.5 1221.9L1564.3 1219.9L1740.9 1219.9L1742.9 1222L1744.7 1219.9L1790.1 1219.9L1790.1 1217.9ZM13.5 1263.6L13.5 1265.6L17.3 1265.6L18.9 1267.4L19.3 1267.6L21.1 1265.6L24.9 1265.6L25.1 1265.7L26.1 1266.9L26.9 1267.6L28.7 1265.6L37.7 1265.6L39.5 1267.6L39.7 1267.6L40.9 1266.3L41.1 1266.3L42.3 1267.6L42.5 1267.6L44.3 1265.6L46.1 1265.6L46.3 1265.6L47.1 1266.7L48.1 1267.7L49.9 1265.6L144.3 1265.6L145.9 1267.4L146.3 1267.6L148.1 1265.6L230.7 1265.6L232.5 1268.6L234.1 1265.7L234.3 1265.6L242.7 1265.6L244.3 1267.4L244.7 1267.6L246.5 1265.6L251.7 1265.6L251.9 1265.6L252.7 1266.7L253.7 1267.7L255.5 1265.6L294.5 1265.6L296.3 1267.6L296.7 1267.4L298.3 1265.6L299.3 1265.6L301.1 1267.6L301.5 1267.4L303.1 1265.6L362.9 1265.6L364.5 1267.4L364.9 1267.6L366.7 1265.6L393.9 1265.6L394.1 1265.8L394.7 1268.1L395.9 1274.4L397.1 1268.3L397.9 1265.6L401.1 1265.6L402.9 1267.6L403.3 1267.4L404.9 1265.6L439.5 1265.6L441.1 1268.1L441.3 1268L442.7 1265.7L442.9 1265.6L456.3 1265.6L458.1 1267.6L460.1 1265.6L461.9 1265.6L463.5 1267.4L463.9 1267.6L465.7 1265.6L473.5 1265.6L473.7 1265.7L474.7 1266.9L475.5 1267.6L477.3 1265.6L637.9 1265.6L639.7 1267.6L640.1 1267.4L641.7 1265.6L649.1 1265.6L650.7 1268L650.9 1268L652.5 1265.6L765.1 1265.6L766.5 1267.1L767.1 1267.6L768.9 1265.6L849.1 1265.6L850.7 1267.4L851.1 1267.6L852.9 1265.6L854.3 1265.6L856.1 1267.7L857.9 1265.6L858.1 1265.6L913.5 1265.6L913.7 1265.6L915.5 1267.7L917.3 1265.6L917.5 1265.6L921.9 1265.6L923.7 1267.7L925.5 1265.6L925.7 1265.6L951.5 1265.6L951.7 1265.6L952.5 1266.7L953.5 1267.7L955.3 1265.6L956.7 1265.6L956.9 1265.7L957.1 1266.2L958.3 1269.7L959.7 1265.6L974.7 1265.6L976.7 1267.6L978.5 1265.6L995.9 1265.6L996.1 1265.6L996.9 1266.7L997.9 1267.7L999.7 1265.6L1027.1 1265.6L1027.3 1265.7L1027.7 1267L1028.9 1272.1L1029.1 1271.9L1029.9 1268.3L1030.7 1265.6L1031.3 1265.6L1031.5 1265.7L1032.7 1267.2L1033.3 1267.6L1035.1 1265.6L1059.1 1265.6L1059.7 1268.2L1060.3 1272.1L1061.5 1283.6L1062.9 1270.7L1063.7 1266.4L1063.9 1265.6L1064.1 1265.6L1240.1 1265.6L1241.9 1267.6L1242.7 1266.9L1243.7 1265.7L1243.9 1265.6L1560.5 1265.6L1562.1 1267.4L1562.5 1267.6L1564.3 1265.6L1790.1 1265.6L1790.1 1263.6ZM13.5 1309.2L13.5 1311.2L24.9 1311.2L25.1 1311.3L26.1 1312.6L26.9 1313.3L28.7 1311.2L37.7 1311.2L39.5 1313.3L39.7 1313.2L40.9 1311.9L41.1 1311.9L42.3 1313.2L42.5 1313.3L44.3 1311.2L46.1 1311.2L46.3 1311.3L47.1 1312.3L48.1 1313.3L49.9 1311.2L144.3 1311.2L145.9 1313L146.3 1313.3L148.1 1311.2L166.3 1311.2L166.5 1311.3L167.5 1312.6L168.3 1313.3L170.1 1311.2L229.7 1311.2L230.7 1315.8L231.9 1324.8L233.1 1315.8L234.1 1311.2L236.3 1311.2L238.1 1314.3L239.9 1311.2L242.7 1311.2L244.3 1313L244.7 1313.3L246.5 1311.2L251.7 1311.2L251.9 1311.4L253.7 1314.9L255.5 1311.3L255.7 1311.2L299.3 1311.2L301.1 1313.3L301.5 1313L303.1 1311.2L362.9 1311.2L364.5 1313L364.9 1313.3L366.7 1311.2L382.7 1311.2L384.3 1313L384.7 1313.3L386.5 1311.2L393.9 1311.2L394.3 1312.4L394.9 1315.1L395.9 1321L397.1 1314.4L397.9 1311.2L404.7 1311.2L404.9 1311.3L405.7 1312.3L406.7 1313.3L408.5 1311.2L439.3 1311.2L439.5 1311.3L441.1 1314.2L441.3 1314.1L442.9 1311.2L456.3 1311.2L458.1 1313.3L460.1 1311.2L461.9 1311.2L463.5 1313L463.9 1313.2L465.7 1311.2L550.5 1311.2L550.7 1311.3L551.3 1313.7L552.7 1321.5L553.7 1315.4L554.7 1311.2L637.9 1311.2L639.7 1313.3L640.1 1313L641.7 1311.2L765.1 1311.2L766.5 1312.8L767.1 1313.3L768.9 1311.2L849.1 1311.2L850.7 1313L851.1 1313.3L852.9 1311.2L854.3 1311.2L856.1 1313.3L857.9 1311.3L858.1 1311.2L914.7 1311.2L916.1 1312.8L916.7 1313.3L918.5 1311.2L921.7 1311.2L921.9 1311.2L923.7 1313.3L925.5 1311.3L925.7 1311.2L951.5 1311.2L951.7 1311.3L952.5 1312.3L953.5 1313.3L955.3 1311.2L956.5 1311.2L956.7 1311.4L957.1 1312.6L958.3 1317.1L959.9 1311.3L974.7 1311.2L976.7 1313.3L978.5 1311.2L995.9 1311.2L996.1 1311.3L996.9 1312.3L997.9 1313.3L999.7 1311.2L1027.1 1311.2L1027.9 1313.9L1028.9 1318.9L1029.1 1318.7L1030.1 1313.8L1030.7 1311.5L1030.9 1311.2L1031.5 1311.4L1032.7 1312.8L1033.3 1313.3L1035.1 1311.2L1058.9 1311.2L1059.1 1311.4L1059.3 1312.2L1060.1 1316.7L1060.9 1323.5L1061.5 1330.2L1062.9 1316.8L1063.7 1312.2L1063.9 1311.4L1064.1 1311.2L1089.9 1311.2L1091.7 1313.3L1092.3 1312.8L1093.7 1311.2L1560.5 1311.2L1562.1 1313L1562.5 1313.3L1564.3 1311.2L1790.1 1311.2L1790.1 1309.2ZM13.5 1354.9L13.5 1356.9L24.9 1356.9L25.1 1357L26.1 1358.2L26.9 1359L28.7 1356.9L37.7 1356.9L39.5 1358.9L39.7 1358.9L40.9 1357.6L41.1 1357.6L42.3 1358.9L42.5 1358.9L44.3 1356.9L46.1 1356.9L46.3 1357L47.1 1358L48.1 1359L49.9 1356.9L144.3 1356.9L145.9 1358.7L146.3 1358.9L148.1 1356.9L166.5 1356.9L168.3 1359.9L170.1 1356.9L229.7 1356.9L230.7 1361.5L231.9 1370.4L233.1 1361.5L234.1 1356.9L236.7 1357L238.1 1361.3L239.3 1357.6L239.7 1356.9L242.7 1356.9L244.3 1358.7L244.7 1358.9L246.5 1356.9L252.1 1356.9L252.5 1357.6L253.7 1361.3L254.9 1357.5L255.1 1357L255.3 1356.9L299.3 1356.9L301.1 1358.9L301.5 1358.7L303.1 1356.9L362.9 1356.9L364.5 1358.7L364.9 1358.9L366.7 1356.9L382.7 1356.9L384.3 1358.7L384.7 1358.9L386.5 1356.9L393.9 1356.9L394.9 1361L395.9 1367.2L397.3 1359.3L397.9 1357L398.1 1356.9L404.9 1356.9L406.7 1359.9L408.5 1356.9L439.3 1356.9L439.5 1357L441.1 1359.9L441.3 1359.8L442.9 1356.9L456.3 1356.9L458.1 1359L460.1 1356.9L461.9 1356.9L463.5 1358.7L463.9 1358.9L465.7 1356.9L550.5 1356.9L550.7 1357L551.3 1359.3L552.7 1367.2L553.7 1361L554.7 1356.9L637.9 1356.9L639.7 1358.9L640.1 1358.7L641.7 1356.9L765.1 1356.9L766.5 1358.5L767.1 1358.9L768.9 1356.9L849.1 1356.9L850.7 1358.7L851.1 1358.9L852.9 1356.9L854.3 1356.9L856.1 1359L857.9 1357L858.1 1356.9L915.7 1356.9L917.5 1360L919.3 1356.9L921.9 1356.9L923.7 1359L925.5 1356.9L925.7 1356.9L951.5 1356.9L951.7 1357L952.5 1358L953.5 1359L955.3 1356.9L956.7 1356.9L957.1 1357.6L958.3 1361.3L959.5 1357.5L959.7 1357L959.9 1356.9L974.7 1356.9L976.7 1359L978.5 1356.9L995.9 1356.9L996.1 1357L996.9 1358L997.9 1359L999.7 1356.9L1027.1 1356.9L1027.3 1357.2L1027.9 1359.3L1028.9 1363.9L1029.1 1363.8L1030.5 1357.7L1030.7 1357L1030.9 1356.9L1031.5 1357L1032.7 1358.5L1033.3 1358.9L1035.1 1356.9L1058.9 1356.9L1059.1 1357L1059.3 1357.8L1060.1 1362.3L1060.9 1369.2L1061.5 1375.8L1062.9 1362.4L1063.7 1357.9L1063.9 1357.1L1064.1 1356.9L1090.1 1356.9L1091.7 1359.4L1091.9 1359.3L1093.3 1357L1093.5 1356.9L1560.5 1356.9L1562.1 1358.7L1562.5 1358.9L1564.3 1356.9L1790.1 1356.9L1790.1 1354.9ZM13.5 1400.6L13.5 1402.6L393.5 1402.6L395.3 1404.6L395.9 1404.1L397.3 1402.6L848.5 1402.6L848.7 1402.6L849.7 1403.9L850.5 1404.6L852.3 1402.6L1060.1 1402.6L1060.3 1402.6L1061.1 1403.7L1062.1 1404.6L1063.9 1402.6L1790.1 1402.6L1790.1 1400.6ZM13.5 1446.2L13.5 1448.2L251.9 1448.2L252.1 1448.2L253.7 1450.8L255.3 1448.2L393.5 1448.2L395.3 1450.3L395.9 1449.8L397.3 1448.2L439.3 1448.2L441.1 1451.7L441.3 1451.7L443.1 1448.2L455.7 1448.2L457.5 1450.2L457.9 1450L459.5 1448.2L848.5 1448.2L848.7 1448.3L849.7 1449.5L850.5 1450.3L852.3 1448.2L956.5 1448.2L956.7 1448.2L958.3 1450.8L959.9 1448.2L974.7 1448.2L976.7 1450.3L978.5 1448.2L1060.1 1448.2L1060.3 1448.3L1061.1 1449.3L1062.1 1450.3L1063.9 1448.2L1560.5 1448.2L1562.1 1450L1562.5 1450.2L1564.3 1448.2L1790.1 1448.2L1790.1 1446.2ZM13.5 1491.9L13.5 1493.9L230.7 1493.9L230.9 1494L232.5 1496.6L234.1 1493.9L234.3 1493.9L394.3 1493.9L395.9 1496.4L397.5 1493.9L397.7 1493.9L439.3 1493.9L441.1 1497.4L441.3 1497.3L443.1 1493.9L848.5 1493.9L848.7 1494L849.7 1495.2L850.5 1495.9L852.3 1493.9L956.5 1493.9L956.7 1493.9L958.3 1496.5L959.9 1493.9L1060.1 1493.9L1060.3 1493.9L1061.1 1495L1062.1 1496L1063.9 1493.9L1560.5 1493.9L1562.1 1495.7L1562.5 1495.9L1564.3 1493.9L1790.1 1493.9L1790.1 1491.9ZM13.5 1537.5L13.5 1539.5L24.5 1539.6L26.3 1541.6L28.1 1539.6L28.3 1539.5L37.1 1539.5L38.7 1541.3L39.1 1541.6L40.9 1539.5L385.5 1539.5L386.9 1541.1L387.5 1541.6L389.3 1539.5L394.5 1539.5L395.9 1543.7L397.3 1539.7L397.5 1539.5L439.3 1539.5L441.1 1541.6L441.5 1541.3L443.1 1539.5L526.7 1539.5L528.3 1541.3L528.7 1541.6L530.5 1539.5L849.1 1539.5L850.7 1541.3L851.1 1541.6L852.9 1539.5L854.3 1539.5L856.1 1541.6L857.9 1539.6L858.1 1539.5L923.5 1539.5L925.1 1541.3L925.5 1541.6L927.3 1539.5L1029.7 1539.5L1030.9 1543L1031.1 1542.8L1032.3 1539.5L1059.1 1539.5L1059.7 1542.2L1060.3 1546.1L1061.5 1557.6L1062.9 1544.7L1063.7 1540.3L1063.9 1539.6L1064.1 1539.5L1560.5 1539.5L1562.1 1541.3L1562.5 1541.6L1564.3 1539.5L1790.1 1539.5L1790.1 1537.5ZM13.5 1583.2L13.5 1585.2L24.5 1585.2L26.3 1587.3L28.1 1585.2L28.3 1585.2L37.1 1585.2L38.7 1587L39.1 1587.2L40.9 1585.2L93.7 1585.2L95.5 1587.2L95.9 1587L97.5 1585.2L242.7 1585.2L244.3 1587L244.7 1587.2L246.5 1585.2L249.7 1585.2L249.9 1585.2L251.7 1587.3L253.5 1585.2L253.7 1585.2L394.5 1585.2L395.9 1589.3L397.3 1585.3L397.5 1585.2L438.7 1585.2L440.3 1587L440.7 1587.2L442.5 1585.2L482.9 1585.2L484.7 1587.2L485.1 1587L486.7 1585.2L519.7 1585.2L521.5 1587.2L522.1 1586.8L523.5 1585.2L752.1 1585.2L753.7 1587L754.1 1587.2L755.9 1585.2L765.1 1585.2L766.5 1586.8L767.1 1587.2L768.9 1585.2L800.1 1585.2L800.3 1585.2L802.1 1587.3L803.9 1585.2L804.1 1585.2L849.1 1585.2L850.7 1587L851.1 1587.2L852.9 1585.2L854.3 1585.2L856.1 1587.3L857.9 1585.3L858.1 1585.2L923.5 1585.2L925.1 1587L925.5 1587.2L927.3 1585.2L956.3 1585.2L956.5 1585.3L958.3 1587.3L960.1 1585.2L974.7 1585.2L976.7 1587.3L978.5 1585.2L1009.5 1585.2L1011.5 1587.3L1013.3 1585.2L1031.3 1585.2L1032.9 1587L1033.3 1587.2L1035.1 1585.2L1058.9 1585.2L1059.1 1585.3L1059.3 1586.1L1060.1 1590.6L1060.9 1597.5L1061.5 1604.1L1062.9 1590.7L1063.7 1586.2L1063.9 1585.4L1064.1 1585.2L1560.5 1585.2L1562.1 1587L1562.5 1587.2L1564.3 1585.2L1790.1 1585.2L1790.1 1583.2Z" fill="#fff" stroke="#000" stroke-width="1.5" stroke-linejoin="round"/>
<path d="M231.9 1035.3H255.2L252.8 1080.9H231.9Z" fill="#fff"/><path d="M234.6 1037.3Q237.8 1051.3 238.4 1079.6M255.2 1037.3L252.8 1079.6" fill="none" stroke="#000" stroke-width="1.1"/><path d="M231.9 1057.7H254" stroke="#000" stroke-width="0.9" fill="none"/>
<path d="M11.3 898.3H1792.4M11.3 944H1792.4M11.3 989.6H1792.4M11.3 1035.3H1792.4M11.3 1080.9H1792.4M11.3 1126.6H1792.4M11.3 1172.3H1792.4M11.3 1217.9H1792.4M11.3 1263.6H1792.4M11.3 1309.2H1792.4M11.3 1354.9H1792.4M11.3 1400.6H1792.4M11.3 1446.2H1792.4M11.3 1491.9H1792.4M11.3 1537.5H1792.4M11.3 1583.2H1792.4M11.3 1628.9H1792.4M12.5 898.3V1628.9M1791.2 898.3V1628.9" stroke="#000" stroke-width="2.6" fill="none"/>
<text class="m" x="1793.7" y="907.4">100%</text>
<text class="m" x="1793.7" y="943.2">50%</text>
<text class="m" x="1793.7" y="953.1">100%</text>
<text class="m" x="1793.7" y="988.9">50%</text>
<text class="m" x="1793.7" y="998.7">100%</text>
<text class="m" x="1793.7" y="1034.5">50%</text>
<text class="m" x="1793.7" y="1044.4">100%</text>
<text class="m" x="1793.7" y="1080.2">50%</text>
<text class="m" x="1793.7" y="1090">100%</text>
<text class="m" x="1793.7" y="1125.8">50%</text>
<text class="m" x="1793.7" y="1135.7">100%</text>
<text class="m" x="1793.7" y="1171.5">50%</text>
<text class="m" x="1793.7" y="1181.4">100%</text>
<text class="m" x="1793.7" y="1217.2">50%</text>
<text class="m" x="1793.7" y="1227">100%</text>
<text class="m" x="1793.7" y="1262.8">50%</text>
<text class="m" x="1793.7" y="1272.7">100%</text>
<text class="m" x="1793.7" y="1308.5">50%</text>
<text class="m" x="1793.7" y="1318.3">100%</text>
<text class="m" x="1793.7" y="1354.1">50%</text>
<text class="m" x="1793.7" y="1364">100%</text>
<text class="m" x="1793.7" y="1399.8">50%</text>
<text class="m" x="1793.7" y="1409.7">100%</text>
<text class="m" x="1793.7" y="1445.5">50%</text>
<text class="m" x="1793.7" y="1455.3">100%</text>
<text class="m" x="1793.7" y="1491.1">50%</text>
<text class="m" x="1793.7" y="1501">100%</text>
<text class="m" x="1793.7" y="1536.8">50%</text>
<text class="m" x="1793.7" y="1546.6">100%</text>
<text class="m" x="1793.7" y="1582.4">50%</text>
<text class="m" x="1793.7" y="1592.3">100%</text>
<text class="m" x="1793.7" y="1628.1">50%</text>
<path d="M14 1629.9v3.2M67.3 1629.9v3.2M120.6 1629.9v3.2M173.8 1629.9v3.2M227.1 1629.9v3.2M280.4 1629.9v3.2M333.7 1629.9v3.2M387 1629.9v3.2M440.2 1629.9v3.2M493.5 1629.9v3.2M546.8 1629.9v3.2M600.1 1629.9v3.2M653.4 1629.9v3.2M706.6 1629.9v3.2M759.9 1629.9v3.2M813.2 1629.9v3.2M866.5 1629.9v3.2M902 1629.9v3.2M955.3 1629.9v3.2M1008.6 1629.9v3.2M1061.8 1629.9v3.2M1115.1 1629.9v3.2M1168.4 1629.9v3.2M1221.7 1629.9v3.2M1275 1629.9v3.2M1328.2 1629.9v3.2M1381.5 1629.9v3.2M1434.8 1629.9v3.2M1488.1 1629.9v3.2M1541.4 1629.9v3.2M1594.6 1629.9v3.2M1647.9 1629.9v3.2M1701.2 1629.9v3.2M1754.5 1629.9v3.2" stroke="#000" stroke-width="1.2" fill="none"/>
<text class="t" x="14" y="1645.5">50k</text>
<text class="t" x="120.6" y="1645.5">53k</text>
<text class="t" x="227.1" y="1645.5">56k</text>
<text class="t" x="333.7" y="1645.5">59k</text>
<text class="t" x="440.2" y="1645.5">62k</text>
<text class="t" x="546.8" y="1645.5">65k</text>
<text class="t" x="653.4" y="1645.5">68k</text>
<text class="t" x="759.9" y="1645.5">71k</text>
<text class="t" x="866.5" y="1645.5">74k</text>
<text class="t" x="902" y="1645.5">75k</text>
<text class="t" x="1008.6" y="1645.5">78k</text>
<text class="t" x="1115.1" y="1645.5">81k</text>
<text class="t" x="1221.7" y="1645.5">84k</text>
<text class="t" x="1328.2" y="1645.5">87k</text>
<text class="t" x="1434.8" y="1645.5">90k</text>
<text class="t" x="1541.4" y="1645.5">93k</text>
<text class="t" x="1647.9" y="1645.5">96k</text>
<text class="t" x="1754.5" y="1645.5">99k</text>
<path d="M67.9 871.5H50.6V869.6L41.6 873.4L50.6 877.2V875.3H67.9ZM73.5 869.6L77.9 873.4L73.5 877.2ZM96.9 871.5H89.5V869.6L80.5 873.4L89.5 877.2V875.3H96.9ZM149 851.6H103.3V849.7L94.3 853.5L103.3 857.3V855.4H149ZM175.2 871.5H219.3V869.6L228.3 873.4L219.3 877.2V875.3H175.2ZM200.8 851.6H239.7V849.7L248.7 853.5L239.7 857.3V855.4H200.8ZM258.1 869.6L264.1 873.4L258.1 877.2ZM273.7 871.5H286.6V869.6L295.6 873.4L286.6 877.2V875.3H273.7ZM309.2 871.5H327.4V869.6L336.4 873.4L327.4 877.2V875.3H309.2ZM342.4 871.5H369.3V869.6L378.3 873.4L369.3 877.2V875.3H342.4ZM411.9 869.6L406.7 873.4L411.9 877.2ZM420.5 869.6L415.1 873.4L420.5 877.2ZM425.1 849.7L419.9 853.5L425.1 857.3ZM435.5 871.5H434.1V869.6L425.1 873.4L434.1 877.2V875.3H435.5ZM475 869.6L479.8 873.4L475 877.2ZM485 869.6L489.8 873.4L485 877.2ZM496.2 869.6L491.8 873.4L496.2 877.2ZM505.4 869.6L500.8 873.4L505.4 877.2ZM516.8 869.6L522.8 873.4L516.8 877.2ZM536.8 869.6L545.7 873.4L536.8 877.2ZM553.7 871.5H563.7V869.6L572.7 873.4L563.7 877.2V875.3H553.7ZM591.1 871.5H585.7V869.6L576.7 873.4L585.7 877.2V875.3H591.1ZM619.7 869.6L613.7 873.4L619.7 877.2ZM648 871.5H632.7V869.6L623.7 873.4L632.7 877.2V875.3H648ZM663 871.5H710.5V869.6L719.5 873.4L710.5 877.2V875.3H663ZM724 869.6L730 873.4L724 877.2ZM736.3 869.6L730.5 873.4L736.3 877.2ZM738 871.5H739.3V869.6L748.3 873.4L739.3 877.2V875.3H738ZM751 871.5H793.2V869.6L802.2 873.4L793.2 877.2V875.3H751ZM806.4 871.5H843.2V869.6L852.2 873.4L843.2 877.2V875.3H806.4ZM894.7 871.5H866.8V869.6L857.8 873.4L866.8 877.2V875.3H894.7ZM913.1 871.5H905.7V869.6L896.7 873.4L905.7 877.2V875.3H913.1ZM923.1 869.6L917.7 873.4L923.1 877.2ZM938.9 871.5H935.1V869.6L926.1 873.4L935.1 877.2V875.3H938.9ZM957 871.5H949.9V869.6L940.9 873.4L949.9 877.2V875.3H957ZM975 871.5H970V869.6L961 873.4L970 877.2V875.3H975ZM1031 871.5H987.2V869.6L978.2 873.4L987.2 877.2V875.3H1031ZM1060.9 871.5H1044.4V869.6L1035.4 873.4L1044.4 877.2V875.3H1060.9ZM1078.9 871.5H1071.5V869.6L1062.5 873.4L1071.5 877.2V875.3H1078.9ZM1092.3 871.5H1089.9V869.6L1080.9 873.4L1089.9 877.2V875.3H1092.3ZM1095.3 869.6L1099.9 873.4L1095.3 877.2ZM1153.8 871.5H1107.9V869.6L1098.9 873.4L1107.9 877.2V875.3H1153.8ZM1163.4 851.6H1160.8V849.7L1151.8 853.5L1160.8 857.3V855.4H1163.4ZM1172.8 869.6L1169.4 873.4L1172.8 877.2ZM1261.3 869.6L1257.1 873.4L1261.3 877.2ZM1361 871.5H1288.7V869.6L1279.7 873.4L1288.7 877.2V875.3H1361ZM1387.9 871.5H1378.4V869.6L1369.4 873.4L1378.4 877.2V875.3H1387.9ZM1477.8 869.6L1482.8 873.4L1477.8 877.2ZM1487.8 871.5H1533.7V869.6L1542.7 873.4L1533.7 877.2V875.3H1487.8ZM1552.1 871.5H1575.7V869.6L1584.7 873.4L1575.7 877.2V875.3H1552.1ZM1585.3 871.5H1609.7V869.6L1618.7 873.4L1609.7 877.2V875.3H1585.3ZM1622.4 871.5H1714.8V869.6L1723.8 873.4L1714.8 877.2V875.3H1622.4ZM1725.2 869.6L1731.2 873.4L1725.2 877.2ZM1736.8 869.6L1742.8 873.4L1736.8 877.2ZM1749.7 869.6L1754.3 873.4L1749.7 877.2ZM1765.7 869.6L1762.1 873.4L1765.7 877.2Z" fill="#848484"/>
<text class="g" x="52.9" y="866.1">trnV</text>
<text class="g" x="74.5" y="886.5">trnM</text>
<text class="g" x="88.9" y="866.1">atpE</text>
<text class="g" x="121.9" y="846.8">atpB</text>
<text class="g" x="200.8" y="866.1">rbcL</text>
<text class="g" x="222.7" y="846.8">rpl23</text>
<text class="g" x="260.5" y="866.1">psaI</text>
<text class="g" x="283.7" y="866.1">ycf4</text>
<text class="g" x="322.5" y="866.1">cemA</text>
<text class="g" x="359" y="866.1">petA</text>
<text class="g" x="407.9" y="866.1">psbJ</text>
<text class="g" x="417.5" y="886.5">psbL</text>
<text class="g" x="421.9" y="846.8">psbF</text>
<text class="g" x="430.9" y="866.1">psbE</text>
<text class="g" x="474.8" y="866.1">petL</text>
<text class="g" x="485.8" y="886.5">petG</text>
<text class="g" x="494.8" y="866.1">trnW</text>
<text class="g" x="501.8" y="886.5">trnP</text>
<text class="g" x="520.8" y="866.1">psaJ</text>
<text class="g" x="538.8" y="886.5">rpl33</text>
<text class="g" x="560.7" y="866.1">rps18</text>
<text class="g" x="581.1" y="886.5">rpl20</text>
<text class="g" x="613.7" y="866.1">rps12 Transcript I</text>
<text class="g" x="636" y="886.5">clpP</text>
<text class="g" x="690.4" y="866.1">psbB</text>
<text class="g" x="725" y="866.1">psbT</text>
<text class="g" x="731.5" y="886.5">psbN</text>
<text class="g" x="742.9" y="866.1">psbH</text>
<text class="g" x="776.3" y="866.1">petB</text>
<text class="g" x="827.8" y="866.1">petD</text>
<text class="g" x="874.7" y="866.1">rpoA</text>
<text class="g" x="905.1" y="866.1">rps11</text>
<text class="g" x="918.1" y="886.5">rpl36</text>
<text class="g" x="931.3" y="866.1">infA</text>
<text class="g" x="946.7" y="886.5">rps8</text>
<text class="g" x="965.6" y="866.1">rpl14</text>
<text class="g" x="1003" y="866.1">rpl16</text>
<text class="g" x="1046.9" y="866.1">rps3</text>
<text class="g" x="1068.3" y="886.5">rpl22</text>
<text class="g" x="1084.5" y="866.1">rps19</text>
<text class="g" x="1094.9" y="886.5">trnH</text>
<text class="g" x="1125.4" y="866.1">rpl2</text>
<text class="g" x="1155.8" y="846.8">rpl23</text>
<text class="g" x="1169.4" y="866.1">trnI</text>
<text class="g" x="1257.7" y="866.1">trnL</text>
<text class="g" x="1320" y="866.1">ndhB</text>
<text class="g" x="1376.9" y="866.1">rps7</text>
<text class="g" x="1479.4" y="866.1">trnV</text>
<text class="g" x="1513.8" y="886.5">16S-rRNA</text>
<text class="g" x="1566.7" y="866.1">trnI</text>
<text class="g" x="1599.3" y="866.1">trnA</text>
<text class="g" x="1670.8" y="866.1">23S-rRNA</text>
<text class="g" x="1725.6" y="886.5">4.5S-rRNA</text>
<text class="g" x="1737" y="866.1">5S-rRNA</text>
<text class="g" x="1751.7" y="886.5">trnR</text>
<text class="g" x="1763.1" y="866.1">trnN</text>
</g>
<g id="panel3">
<rect x="12.5" y="1732.3" width="1272.9" height="730.6" fill="#ff8c8c"/>
<path d="M43.9 1719.9H54.9V2462.9H43.9ZM69.3 1719.9H149V2462.9H69.3ZM180.8 1719.9H187.8V2462.9H180.8ZM212.1 1719.9H215.7V2462.9H212.1ZM218.1 1719.9H253.7V2462.9H218.1ZM258.1 1719.9H311.8V2462.9H258.1ZM315.2 1719.9H325V2462.9H315.2ZM341 1719.9H353.2V2462.9H341ZM359.4 1719.9H379.3V2462.9H359.4ZM387.9 1719.9H407.9V2462.9H387.9ZM411.3 1719.9H430.5V2462.9H411.3ZM466.6 1719.9H529.2V2462.9H466.6ZM532.2 1719.9H543.3V2462.9H532.2ZM596.7 1719.9H600.7V2462.9H596.7ZM609.7 1719.9H613.7V2462.9H609.7ZM619.7 1719.9H625V2462.9H619.7ZM632 1719.9H636.6V2462.9H632ZM639.2 1719.9H740.5V2462.9H639.2ZM744.5 1719.9H746.3V2462.9H744.5ZM773.9 1719.9H776.3V2462.9H773.9ZM778.3 1719.9H780.9V2462.9H778.3ZM808.2 1719.9H811V2462.9H808.2ZM819.4 1719.9H873.7V2462.9H819.4ZM881.1 1719.9H885.1V2462.9H881.1ZM945.1 1719.9H953.4V2462.9H945.1ZM972.2 1719.9H994V2462.9H972.2ZM1002.4 1719.9H1031V2462.9H1002.4ZM1055.3 1719.9H1083.5V2462.9H1055.3ZM1102.5 1719.9H1106.5V2462.9H1102.5ZM1189.4 1719.9H1193.8V2462.9H1189.4ZM1198.2 1719.9H1224.9V2462.9H1198.2ZM1246.9 1719.9H1268.1V2462.9H1246.9ZM1271.3 1719.9H1283.5V2462.9H1271.3Z" fill="#8c8cff"/>
<path d="M215.7 1719.9H218.1V2462.9H215.7ZM407.9 1719.9H411.3V2462.9H407.9ZM636.6 1719.9H639.2V2462.9H636.6ZM776.3 1719.9H778.3V2462.9H776.3Z" fill="#fff"/>
<path d="M215.5 1754.3H218.4M215.5 1800H218.4M215.5 1845.6H218.4M215.5 1891.3H218.4M215.5 1937H218.4M215.5 1982.6H218.4M215.5 2028.3H218.4M215.5 2073.9H218.4M215.5 2119.6H218.4M215.5 2165.3H218.4M215.5 2210.9H218.4M215.5 2256.6H218.4M215.5 2302.2H218.4M215.5 2347.9H218.4M215.5 2393.6H218.4M215.5 2439.2H218.4M407.7 1754.3H411.6M407.7 1800H411.6M407.7 1845.6H411.6M407.7 1891.3H411.6M407.7 1937H411.6M407.7 1982.6H411.6M407.7 2028.3H411.6M407.7 2073.9H411.6M407.7 2119.6H411.6M407.7 2165.3H411.6M407.7 2210.9H411.6M407.7 2256.6H411.6M407.7 2302.2H411.6M407.7 2347.9H411.6M407.7 2393.6H411.6M407.7 2439.2H411.6M636.4 1754.3H639.5M636.4 1800H639.5M636.4 1845.6H639.5M636.4 1891.3H639.5M636.4 1937H639.5M636.4 1982.6H639.5M636.4 2028.3H639.5M636.4 2073.9H639.5M636.4 2119.6H639.5M636.4 2165.3H639.5M636.4 2210.9H639.5M636.4 2256.6H639.5M636.4 2302.2H639.5M636.4 2347.9H639.5M636.4 2393.6H639.5M636.4 2439.2H639.5M776.1 1754.3H778.6M776.1 1800H778.6M776.1 1845.6H778.6M776.1 1891.3H778.6M776.1 1937H778.6M776.1 1982.6H778.6M776.1 2028.3H778.6M776.1 2073.9H778.6M776.1 2119.6H778.6M776.1 2165.3H778.6M776.1 2210.9H778.6M776.1 2256.6H778.6M776.1 2302.2H778.6M776.1 2347.9H778.6M776.1 2393.6H778.6M776.1 2439.2H778.6" stroke="#000" stroke-width="1" fill="none"/>
<path d="M486.2 1719.9V2462.9M1209.3 1719.9V2462.9M1263.6 1719.9V2462.9" stroke="#a9a9ff" stroke-width="0.8" fill="none"/>
<path d="M13.5 1732.3L13.5 1734.3L22.9 1734.3L23.1 1734.3L24.9 1736.4L26.7 1734.3L56.1 1734.3L57.9 1736.3L58.3 1736.1L59.9 1734.3L73.1 1734.3L74.9 1736.4L76.9 1734.3L82.9 1734.3L84.3 1735.9L84.9 1736.3L86.7 1734.3L112.7 1734.3L114.5 1736.4L115.3 1735.6L116.3 1734.4L116.5 1734.3L119.7 1734.3L121.3 1736.1L121.7 1736.3L123.5 1734.3L146.9 1734.3L147.7 1737.5L148.9 1745.2L149.1 1745.8L150.3 1737.9L151.1 1734.4L151.3 1734.3L154.9 1734.3L155.9 1738.6L156.9 1745L158.3 1737.1L158.9 1734.6L159.1 1734.3L167.3 1734.3L169.1 1736.4L170.9 1734.3L171.1 1734.3L190.3 1734.3L190.5 1734.4L192.3 1737.9L194.1 1734.4L194.3 1734.3L196.1 1734.3L197.9 1736.8L198.1 1736.7L199.9 1734.3L207.1 1734.3L207.3 1734.3L207.5 1734.8L208.7 1738.5L209.9 1734.9L210.1 1734.4L210.3 1734.3L218.7 1734.3L220.5 1736.3L220.9 1736.1L222.5 1734.3L235.7 1734.3L237.5 1736.3L238.1 1735.9L239.5 1734.3L246.9 1734.3L247.1 1734.4L248.1 1735.6L248.9 1736.4L250.7 1734.3L254.1 1734.3L255.9 1737.9L257.7 1734.5L257.9 1734.3L287.5 1734.3L289.3 1736.4L291.1 1734.3L291.3 1734.3L326.1 1734.3L328.1 1736.4L329.9 1734.3L338.9 1734.3L340.7 1736.3L341.1 1736.1L342.7 1734.3L355.3 1734.3L357.1 1736.3L357.5 1736.1L359.1 1734.3L382.7 1734.3L384.3 1736.1L384.7 1736.3L386.5 1734.3L396.9 1734.3L398.7 1736.3L400.7 1734.3L427.3 1734.3L427.5 1734.3L429.3 1736.4L431.1 1734.3L440.9 1734.3L441.5 1736L442.5 1739.9L442.7 1739.8L443.7 1735.9L444.3 1734.3L453.1 1734.3L453.3 1734.5L453.5 1735.3L454.1 1738.1L455.3 1746.2L456.5 1738.3L457.1 1735.4L457.5 1734.3L464.1 1734.3L464.9 1737.1L466.1 1743.1L467.9 1734.5L468.1 1734.3L482.3 1734.3L483.9 1736.1L484.3 1736.3L486.1 1734.3L498.5 1734.3L500.3 1736.4L502.3 1734.3L508.9 1734.3L510.5 1736.1L510.9 1736.3L512.7 1734.3L528.1 1734.3L530.1 1736.3L531.9 1734.3L562.1 1734.3L563.9 1736.3L564.3 1736.1L565.9 1734.3L573.3 1734.3L573.5 1734.3L575.3 1736.4L577.1 1734.3L577.3 1734.3L733.1 1734.3L733.3 1734.4L735.1 1736.4L736.5 1734.9L737.9 1736.4L739.7 1734.3L739.9 1734.3L797.7 1734.3L799.5 1736.3L800.1 1735.9L801.5 1734.3L1053.1 1734.3L1054.9 1736.3L1055.3 1736.1L1056.9 1734.3L1109.9 1734.3L1111.3 1735.9L1111.9 1736.3L1113.7 1734.3L1119.1 1734.3L1119.3 1734.4L1119.7 1735.6L1120.9 1740.2L1122.1 1735.6L1122.5 1734.4L1122.7 1734.3L1128.9 1734.3L1130.7 1736.3L1131.1 1736.1L1132.7 1734.3L1169.3 1734.3L1170.7 1735.9L1171.3 1736.3L1173.1 1734.3L1269.9 1734.3L1271.3 1738.4L1272.7 1734.5L1272.9 1734.3L1281.5 1734.3L1282.9 1753.8L1284.3 1753.8L1284.3 1732.3ZM13.5 1778L13.5 1780L23.1 1780L23.3 1780.1L23.7 1781.3L24.9 1785.9L26.1 1781.2L26.5 1780L26.7 1780L73.1 1780L74.9 1782L76.9 1780L82.9 1780L84.3 1781.5L84.9 1782L86.7 1780L96.5 1780L98.1 1781.8L98.5 1782L100.3 1780L119.7 1780L121.3 1781.8L121.7 1782L123.5 1780L154.7 1780L154.9 1780L155.7 1783.6L156.9 1791.5L158.3 1783.1L159.1 1780L167.3 1780L169.1 1782L170.9 1780L171.1 1780L190.7 1780L190.9 1780L191.1 1780.5L192.3 1784.2L193.7 1780L194.1 1780L194.3 1780L194.7 1781.3L195.9 1786.4L196.1 1786.3L196.9 1782.7L197.7 1780L200.3 1780L202.1 1783.4L202.3 1783.4L204.1 1780L207.1 1780L208.7 1782.5L210.3 1780L218.7 1780L220.5 1782L220.9 1781.8L222.5 1780L235.7 1780L237.5 1782L238.1 1781.5L239.5 1780L246.9 1780L247.1 1780L248.1 1781.3L248.9 1782L250.7 1780L252.3 1780L252.7 1781.3L253.3 1784.4L254.5 1793.3L255.7 1784.7L256.7 1780L326.1 1780L328.1 1782L329.9 1780L338.9 1780L340.7 1782L341.1 1781.7L342.7 1780L355.3 1780L357.1 1782L357.5 1781.8L359.1 1780L382.7 1780L384.3 1781.8L384.7 1782L386.5 1780L396.9 1780L398.7 1782L400.7 1780L440.7 1780L440.9 1780.2L441.5 1782.3L442.5 1787L442.7 1786.9L443.9 1781.5L444.3 1780.1L444.5 1780L453.7 1780L455.3 1785.9L456.5 1781.3L456.9 1780.1L457.1 1780L468.7 1780L470.7 1782L472.5 1780L482.3 1780L483.9 1781.7L484.3 1782L486.1 1780L498.5 1780L500.3 1782L502.3 1780L508.9 1780L510.5 1781.8L510.9 1782L512.7 1780L561.7 1780L562.3 1781.5L563.3 1785.4L563.5 1785.6L564.5 1781.6L565.1 1780L573.5 1780L575.3 1782.1L577.1 1780L577.3 1780L797.7 1780L799.5 1782L800.1 1781.5L801.5 1780L808.7 1780L808.9 1780L810.5 1782.9L810.7 1782.9L812.3 1780L819.3 1780L820.7 1783.9L820.9 1783.7L821.9 1780.7L822.3 1780L1053.1 1780L1054.9 1782L1055.3 1781.8L1056.9 1780L1109.9 1780L1111.3 1781.5L1111.9 1782L1113.7 1780L1119.1 1780L1119.3 1780L1119.7 1781.3L1120.9 1785.9L1122.1 1781.2L1122.5 1780L1122.7 1780L1128.9 1780L1130.7 1782L1131.1 1781.8L1132.7 1780L1169.3 1780L1170.7 1781.5L1171.3 1782L1173.1 1780L1225.1 1780L1226.9 1782L1228.9 1780L1269.5 1780L1271.3 1783.5L1273.3 1780L1281.5 1780L1282.9 1799.5L1284.3 1799.5L1284.3 1778ZM13.5 1823.6L13.5 1825.6L22.9 1825.6L23.1 1825.7L24.9 1827.7L26.7 1825.6L73.1 1825.6L74.9 1827.7L76.9 1825.6L82.9 1825.6L84.3 1827.2L84.9 1827.7L86.7 1825.6L104.9 1825.6L105.1 1825.6L106.9 1827.7L108.7 1825.6L108.9 1825.6L119.7 1825.6L121.3 1827.4L121.7 1827.6L123.5 1825.6L154.9 1825.6L155.9 1829.9L156.9 1836.3L158.3 1828.4L158.9 1825.9L159.1 1825.6L167.3 1825.6L169.1 1827.7L170.9 1825.7L171.1 1825.6L190.5 1825.6L192.3 1829L194.1 1825.6L194.3 1825.6L194.9 1827.3L195.9 1831.2L196.1 1831.1L197.1 1827.2L197.7 1825.6L200.5 1825.6L202.1 1828.3L202.3 1828.3L203.9 1825.6L206.9 1825.6L207.1 1825.7L208.7 1828.4L210.3 1825.7L210.5 1825.6L218.7 1825.6L220.5 1827.6L220.9 1827.4L222.5 1825.6L235.7 1825.6L237.5 1827.7L238.1 1827.2L239.5 1825.6L246.9 1825.6L247.1 1825.7L248.1 1826.9L248.9 1827.7L250.7 1825.6L326.1 1825.6L328.1 1827.7L329.9 1825.6L339.9 1825.6L340.9 1830.5L342.1 1840.3L342.3 1840.2L343.5 1830.4L344.5 1825.6L355.3 1825.6L357.1 1827.6L357.5 1827.4L359.1 1825.6L382.7 1825.6L384.3 1827.4L384.7 1827.6L386.5 1825.6L396.9 1825.6L398.7 1827.7L400.7 1825.6L427.3 1825.6L427.5 1825.6L429.3 1827.7L431.1 1825.6L440.7 1825.6L440.9 1825.8L441.5 1828L442.5 1832.6L442.7 1832.5L443.9 1827.2L444.3 1825.8L444.5 1825.6L452.7 1825.6L452.9 1825.9L453.3 1827.7L453.9 1831.5L454.7 1838.6L455.3 1845.6L456.7 1831.7L457.3 1827.9L457.9 1825.6L468.7 1825.6L470.7 1827.7L472.5 1825.6L482.3 1825.6L483.9 1827.4L484.3 1827.7L486.1 1825.6L498.5 1825.6L500.3 1827.7L502.3 1825.6L504.1 1825.6L505.7 1827.4L506.1 1827.6L507.9 1825.6L508.9 1825.6L510.5 1827.4L510.9 1827.6L512.7 1825.6L562.1 1825.6L563.9 1827.6L564.3 1827.4L565.9 1825.6L573.3 1825.6L573.5 1825.7L575.3 1827.7L577.1 1825.6L577.3 1825.6L593.7 1825.6L595.7 1827.7L597.5 1825.6L797.7 1825.6L799.5 1827.7L800.1 1827.2L801.5 1825.6L1053.1 1825.6L1054.9 1827.6L1055.3 1827.4L1056.9 1825.6L1109.9 1825.6L1111.3 1827.2L1111.9 1827.7L1113.7 1825.6L1119.3 1825.6L1119.9 1827L1120.9 1830.4L1121.9 1827L1122.3 1825.8L1122.5 1825.6L1128.9 1825.6L1130.7 1827.6L1131.1 1827.4L1132.7 1825.6L1269.7 1825.6L1271.3 1828.4L1273.1 1825.6L1281.5 1825.6L1282.9 1845.1L1284.3 1845.1L1284.3 1823.6ZM13.5 1869.3L13.5 1871.3L22.1 1871.3L23.5 1872.8L24.1 1873.3L25.9 1871.3L27.7 1873.4L29.5 1871.3L29.7 1871.3L64.9 1871.3L65.5 1873.6L66.3 1879L67.9 1896.5L68.7 1886.3L69.5 1878.6L70.3 1873.3L70.7 1871.6L70.9 1871.3L73.1 1871.3L74.9 1873.3L76.9 1871.3L82.9 1871.3L84.3 1872.8L84.9 1873.3L86.7 1871.3L102.1 1871.3L102.3 1871.3L103.1 1872.4L104.1 1873.4L105.9 1871.3L119.7 1871.3L121.3 1873.1L121.7 1873.3L123.5 1871.3L136.1 1871.3L137.7 1873.1L138.1 1873.3L139.9 1871.3L143.1 1871.3L143.3 1871.3L145.1 1873.4L146.9 1871.3L155.3 1871.3L156.1 1873.8L156.9 1877L158.3 1872.1L158.7 1871.3L167.3 1871.3L169.1 1873.4L170.9 1871.3L171.1 1871.3L191.9 1871.3L192.7 1873.9L193.7 1878.6L194.7 1874.1L195.5 1871.3L199.5 1871.3L201.3 1874.8L201.5 1874.7L203.3 1871.3L206.7 1871.3L207.5 1874.1L208.7 1880.8L209.9 1874.2L210.7 1871.3L218.7 1871.3L220.5 1873.3L220.9 1873.1L222.5 1871.3L235.7 1871.3L237.5 1873.3L238.1 1872.8L239.5 1871.3L246.9 1871.3L247.1 1871.3L248.1 1872.6L248.9 1873.4L250.7 1871.3L270.1 1871.3L272.1 1873.3L273.9 1871.3L326.1 1871.3L328.1 1873.3L329.9 1871.3L336.1 1871.3L337.5 1883.8L338.7 1892.3L338.9 1892.3L340.5 1880.6L341.5 1871.3L355.3 1871.3L357.1 1873.3L357.5 1873.1L359.1 1871.3L365.1 1871.3L365.3 1871.3L367.1 1873.4L368.9 1871.3L382.7 1871.3L384.3 1873.1L384.7 1873.3L385.9 1878.9L386.1 1879.3L387.1 1874.2L387.9 1871.3L396.9 1871.3L398.7 1873.3L400.7 1871.3L433.9 1871.3L435.5 1873.8L437.1 1871.3L440.9 1871.3L441.5 1872.9L442.5 1876.8L442.7 1876.8L443.7 1872.9L444.3 1871.3L453.5 1871.3L455.3 1874.9L457.1 1871.4L457.3 1871.3L464.1 1871.3L464.3 1871.4L465.3 1872.6L466.1 1873.3L467.9 1871.3L468.9 1871.4L469.9 1872.6L470.7 1873.3L472.5 1871.3L474.5 1871.3L476.3 1873.4L478.1 1871.3L478.3 1871.3L482.3 1871.3L483.9 1873.1L484.3 1873.3L486.1 1871.3L492.7 1871.3L492.9 1871.3L494.7 1873.4L496.5 1871.3L496.7 1871.3L498.5 1871.3L500.3 1873.3L502.3 1871.3L508.9 1871.3L510.5 1873.1L510.9 1873.3L512.7 1871.3L558.7 1871.3L560.5 1873.3L560.7 1873.3L561.7 1872.2L562.9 1873.3L564.7 1871.3L783.5 1871.3L785.1 1873.1L785.5 1873.3L787.3 1871.3L1053.1 1871.3L1054.9 1873.3L1055.3 1873.1L1056.9 1871.3L1109.9 1871.3L1111.3 1872.8L1111.9 1873.3L1113.7 1871.3L1119.1 1871.3L1119.3 1871.5L1119.7 1872.9L1120.9 1877.8L1122.1 1872.8L1122.5 1871.5L1122.7 1871.3L1128.9 1871.3L1130.7 1873.3L1131.1 1873.1L1132.7 1871.3L1270.1 1871.3L1271.3 1874.8L1272.7 1871.3L1281.5 1871.3L1282.9 1890.8L1284.3 1890.8L1284.3 1869.3ZM13.5 1914.9L13.5 1916.9L22.1 1916.9L23.5 1918.5L24.1 1919L25.9 1916.9L35.7 1916.9L37.3 1918.7L37.7 1919L39.5 1916.9L56.1 1916.9L57.9 1919L58.3 1918.7L59.9 1916.9L65.3 1916.9L65.5 1916.9L67.3 1919L69.1 1917L69.3 1916.9L73.1 1916.9L74.9 1919L76.9 1916.9L82.9 1916.9L84.3 1918.5L84.9 1919L86.7 1916.9L90.1 1916.9L91.9 1919L93.7 1917L93.9 1916.9L119.7 1916.9L121.3 1918.7L121.7 1919L123.5 1916.9L146.9 1916.9L147.1 1917.1L147.7 1919.5L148.9 1926.5L149.1 1927L150.1 1920.9L150.7 1918.1L151.1 1916.9L155.3 1917L156.9 1923.2L157.1 1922.8L158.1 1918.7L158.7 1916.9L162.3 1916.9L162.5 1917L163.9 1919.3L164.1 1919.4L165.7 1916.9L167.3 1916.9L169.1 1919L170.9 1917L171.1 1916.9L190.5 1916.9L190.7 1917L192.3 1919.7L193.9 1917L194.1 1916.9L199.5 1916.9L199.7 1917L200.1 1918.3L201.3 1923.2L201.5 1922.8L202.5 1918.7L203.1 1916.9L218.7 1916.9L220.5 1919L220.9 1918.7L222.5 1916.9L235.7 1916.9L237.5 1919L238.1 1918.5L239.5 1916.9L246.9 1916.9L247.1 1917L248.1 1918.3L248.9 1919L250.7 1916.9L253.1 1916.9L253.3 1917.3L253.7 1919.1L254.5 1924.4L255.9 1939.6L257.3 1925L258.1 1919.5L258.7 1916.9L312.9 1916.9L314.7 1919L315.3 1918.5L316.7 1916.9L326.1 1916.9L328.1 1919L329.9 1916.9L330.7 1916.9L332.3 1919.5L333.9 1916.9L338.9 1916.9L340.7 1919L341.1 1918.7L342.7 1916.9L355.3 1916.9L357.1 1919L357.5 1918.7L359.1 1916.9L382.7 1916.9L384.3 1918.7L384.7 1919L386.5 1916.9L396.9 1916.9L398.7 1919L400.7 1916.9L440.9 1916.9L441.7 1919.6L442.5 1923.1L442.7 1923L443.5 1919.6L444.3 1916.9L453.1 1916.9L453.3 1917.1L454.1 1920.6L455.3 1928.5L456.5 1920.8L457.1 1918L457.5 1916.9L468.7 1916.9L470.7 1919L472.5 1916.9L482.3 1916.9L483.9 1918.7L484.3 1919L486.1 1916.9L495.7 1916.9L497.5 1919L498.9 1917.5L500.3 1919L502.3 1916.9L508.9 1916.9L510.5 1918.7L510.9 1919L512.7 1916.9L528.7 1916.9L530.3 1918.7L530.7 1919L532.5 1916.9L547.9 1916.9L549.3 1918.5L549.9 1919L551.7 1916.9L562.1 1916.9L563.9 1919L564.3 1918.7L565.9 1916.9L797.7 1916.9L799.5 1919L800.1 1918.5L801.5 1916.9L1053.1 1916.9L1054.9 1918.9L1055.3 1918.7L1056.9 1916.9L1109.9 1916.9L1111.3 1918.5L1111.9 1919L1113.7 1916.9L1118.9 1916.9L1119.1 1917L1120.9 1920.6L1122.7 1917L1122.9 1916.9L1128.9 1916.9L1130.7 1919L1131.1 1918.7L1132.7 1916.9L1234.3 1916.9L1234.5 1917L1236.3 1919L1238.1 1916.9L1281.5 1916.9L1282.9 1936.4L1284.3 1936.4L1284.3 1914.9ZM13.5 1960.6L13.5 1962.6L22.1 1962.6L23.5 1964.2L24.1 1964.6L25.9 1962.6L35.7 1962.6L37.3 1964.4L37.7 1964.6L39.5 1962.6L65.3 1962.6L65.5 1962.6L67.3 1964.7L69.1 1962.6L69.3 1962.6L73.1 1962.6L74.9 1964.7L76.9 1962.6L82.9 1962.6L84.3 1964.2L84.9 1964.6L86.7 1962.6L90.1 1962.6L91.9 1964.7L93.7 1962.6L93.9 1962.6L119.7 1962.6L121.3 1964.4L121.7 1964.6L123.5 1962.6L146.9 1962.6L147.1 1962.9L147.7 1965.4L148.9 1972.7L149.1 1973.3L150.1 1966.8L151.1 1962.6L155.7 1962.6L156.1 1963.8L156.7 1966.6L157.7 1972.9L157.9 1973L158.9 1966.7L159.5 1963.8L159.9 1962.6L162.3 1962.6L162.5 1962.7L163.9 1965L164.1 1965.1L165.7 1962.6L167.3 1962.6L169.1 1964.7L170.9 1962.6L171.1 1962.6L191.9 1962.6L192.1 1962.8L192.5 1964.1L193.7 1969.1L194.9 1964.2L195.5 1962.6L198.9 1962.6L199.7 1965.3L200.7 1970.2L200.9 1970.1L201.9 1965.2L202.5 1962.9L202.7 1962.6L206.9 1962.6L207.7 1965.3L208.7 1970L209.7 1965.4L210.5 1962.6L218.7 1962.6L220.5 1964.6L220.9 1964.4L222.5 1962.6L235.7 1962.6L237.5 1964.6L238.1 1964.2L239.5 1962.6L246.9 1962.6L247.1 1962.7L248.1 1963.9L248.9 1964.7L250.7 1962.6L253.1 1962.6L253.7 1965L254.5 1970.4L255.9 1985.9L257.5 1969.4L258.3 1964.3L258.7 1962.6L258.9 1962.6L312.9 1962.6L314.7 1964.6L315.3 1964.2L316.7 1962.6L326.1 1962.6L328.1 1964.7L329.9 1962.6L330.5 1962.6L330.7 1962.7L332.3 1965.4L333.9 1962.7L338.9 1962.6L340.7 1966.1L340.9 1966L342.7 1962.6L355.3 1962.6L357.1 1964.6L357.5 1964.4L359.1 1962.6L382.7 1962.6L384.3 1964.4L384.7 1964.6L386.5 1962.6L396.9 1962.6L398.7 1964.6L400.7 1962.6L440.9 1962.6L441.7 1965.3L442.5 1968.7L442.7 1968.7L443.5 1965.2L444.3 1962.6L453.7 1962.6L453.9 1962.8L454.3 1963.9L455.3 1967.3L456.5 1963.4L456.9 1962.6L468.7 1962.6L470.7 1964.7L472.5 1962.6L482.3 1962.6L483.9 1964.4L484.3 1964.6L486.1 1962.6L495.7 1962.6L497.5 1964.7L498.9 1963.2L500.3 1964.7L502.3 1962.6L508.9 1962.6L510.5 1964.4L510.9 1964.6L512.7 1962.6L547.9 1962.6L549.3 1964.2L549.9 1964.6L551.7 1962.6L562.1 1962.6L563.9 1964.6L564.3 1964.4L565.9 1962.6L797.7 1962.6L799.5 1964.6L800.1 1964.2L801.5 1962.6L1053.1 1962.6L1054.9 1964.6L1055.3 1964.4L1056.9 1962.6L1109.9 1962.6L1111.3 1964.2L1111.9 1964.6L1113.7 1962.6L1119.3 1962.6L1119.5 1962.7L1119.7 1963.2L1120.9 1966.8L1122.1 1963.1L1122.3 1962.6L1122.5 1962.6L1128.9 1962.6L1130.7 1964.6L1131.1 1964.4L1132.7 1962.6L1234.3 1962.6L1234.5 1962.7L1236.3 1964.7L1238.1 1962.6L1269.5 1962.6L1270.3 1965.5L1271.3 1970.4L1272.7 1964.2L1273.1 1962.8L1273.3 1962.6L1281.5 1962.6L1282.9 1982.1L1284.3 1982.1L1284.3 1960.6ZM13.5 2006.3L13.5 2008.3L22.1 2008.3L23.5 2009.8L24.1 2010.3L25.9 2008.3L35.7 2008.3L37.3 2010.1L37.7 2010.3L39.5 2008.3L65.3 2008.3L65.5 2008.3L67.3 2010.4L69.1 2008.3L69.3 2008.3L73.1 2008.3L74.9 2010.3L76.9 2008.3L82.9 2008.3L84.3 2009.8L84.9 2010.3L86.7 2008.3L90.1 2008.3L91.9 2010.3L93.7 2008.3L93.9 2008.3L119.7 2008.3L121.3 2010.1L121.7 2010.3L123.5 2008.3L146.9 2008.3L147.1 2008.4L147.7 2010.9L148.9 2017.8L149.1 2018.3L150.1 2012.2L150.7 2009.5L151.1 2008.3L155.9 2008.3L156.7 2011.3L157.7 2016.6L157.9 2016.7L158.9 2011.3L159.7 2008.3L162.3 2008.3L162.5 2008.4L163.9 2010.7L164.1 2010.8L165.7 2008.3L167.3 2008.3L169.1 2010.3L170.9 2008.3L171.1 2008.3L193.1 2008.3L193.3 2008.4L193.9 2010.7L195.1 2017L196.3 2011L197.1 2008.3L199.5 2008.3L199.7 2008.6L200.5 2011.6L201.3 2015.4L202.7 2009.7L203.1 2008.3L203.3 2008.3L218.7 2008.3L220.5 2010.3L220.9 2010.1L222.5 2008.3L235.7 2008.3L237.5 2010.3L238.1 2009.8L239.5 2008.3L246.9 2008.3L247.1 2008.3L248.1 2009.6L248.9 2010.3L250.7 2008.3L253.1 2008.3L253.7 2010.7L254.5 2016.2L255.9 2031.8L257.5 2015.2L258.3 2010.1L258.7 2008.4L258.9 2008.3L312.9 2008.3L314.7 2010.3L315.3 2009.8L316.7 2008.3L326.1 2008.3L328.1 2010.3L329.9 2008.3L330.7 2008.3L332.3 2010.9L333.9 2008.3L354.1 2008.3L355.7 2010.8L355.9 2010.7L356.5 2009.7L357.1 2010.3L357.3 2010.2L359.1 2008.3L382.7 2008.3L384.3 2010.1L384.7 2010.3L386.5 2008.3L396.9 2008.3L398.7 2010.3L400.7 2008.3L440.7 2008.3L440.9 2008.5L441.5 2010.6L442.5 2015.3L442.7 2015.2L443.9 2009.8L444.3 2008.4L444.5 2008.3L453.1 2008.3L453.3 2008.5L453.5 2009.2L454.1 2012.1L455.3 2020.1L456.5 2012.3L457.1 2009.4L457.5 2008.3L468.7 2008.3L470.7 2010.3L472.5 2008.3L482.3 2008.3L483.9 2010L484.3 2010.3L486.1 2008.3L495.7 2008.3L497.5 2010.3L498.9 2008.9L500.3 2010.3L502.3 2008.3L508.9 2008.3L510.5 2010.1L510.9 2010.3L512.7 2008.3L547.9 2008.3L549.3 2009.8L549.9 2010.3L551.7 2008.3L562.1 2008.3L563.9 2010.3L564.3 2010.1L565.9 2008.3L797.7 2008.3L799.5 2010.3L800.1 2009.8L801.5 2008.3L1053.1 2008.3L1054.9 2010.3L1055.3 2010.1L1056.9 2008.3L1087.3 2008.3L1088.9 2010L1089.3 2010.3L1091.1 2008.3L1109.9 2008.3L1111.3 2009.8L1111.9 2010.3L1113.7 2008.3L1118.9 2008.3L1119.1 2008.4L1120.9 2011.9L1122.7 2008.3L1122.9 2008.3L1128.9 2008.3L1130.7 2010.3L1131.1 2010.1L1132.7 2008.3L1234.3 2008.3L1234.5 2008.3L1236.3 2010.3L1238.1 2008.3L1281.5 2008.3L1282.9 2027.8L1284.3 2027.8L1284.3 2006.3ZM13.5 2051.9L13.5 2053.9L22.9 2053.9L23.1 2054L24.9 2056L26.7 2053.9L30.7 2053.9L32.5 2056L34.3 2054L34.5 2053.9L64.5 2053.9L66.5 2056L68.3 2053.9L73.1 2053.9L74.9 2056L76.9 2053.9L82.9 2053.9L84.3 2055.5L84.9 2056L86.7 2053.9L90.1 2053.9L91.9 2056L93.7 2054L93.9 2053.9L119.7 2053.9L121.3 2055.7L121.7 2055.9L123.5 2053.9L155.3 2053.9L155.5 2053.9L156.9 2056.4L157.1 2056.3L158.5 2053.9L167.3 2053.9L169.1 2056L170.9 2054L171.1 2053.9L193.3 2053.9L194.1 2056.5L195.1 2061.2L196.9 2053.9L199.9 2053.9L201.3 2058.2L202.9 2053.9L218.7 2053.9L220.5 2055.9L220.9 2055.7L222.5 2053.9L235.7 2053.9L237.5 2056L238.1 2055.5L239.5 2053.9L246.9 2053.9L247.1 2054L248.1 2055.2L248.9 2056L250.7 2053.9L253.1 2053.9L253.7 2056.2L254.5 2061.5L255.9 2076.9L257.3 2062.2L257.9 2057.8L258.7 2053.9L326.1 2053.9L328.1 2056L329.5 2054.4L329.7 2054.5L330.9 2056.5L332.3 2054L332.5 2053.9L354.1 2053.9L355.7 2056.4L355.9 2056.3L356.5 2055.4L357.1 2055.9L357.3 2055.9L359.1 2053.9L382.7 2053.9L384.3 2055.7L384.7 2055.9L386.5 2053.9L396.9 2053.9L398.7 2056L400.7 2053.9L440.7 2053.9L440.9 2054L441.3 2055.3L442.5 2060.3L442.7 2060.3L443.5 2056.7L444.3 2053.9L453.1 2053.9L453.3 2054L454.1 2057.5L455.3 2065.2L456.5 2057.7L457.1 2054.9L457.3 2054.1L457.5 2053.9L468.7 2053.9L470.7 2056L472.5 2053.9L482.3 2053.9L483.9 2055.7L484.3 2056L486.1 2053.9L495.7 2053.9L497.5 2056L498.9 2054.5L500.3 2056L502.3 2053.9L508.9 2053.9L510.5 2055.7L510.9 2055.9L512.7 2053.9L521.1 2053.9L522.9 2055.9L523.3 2055.7L524.9 2053.9L553.1 2053.9L554.9 2056L555.7 2055.2L556.7 2054L556.9 2053.9L562.1 2053.9L563.9 2055.9L564.3 2055.7L565.9 2053.9L617.3 2053.9L619.1 2056L620.1 2055L620.9 2054L621.1 2053.9L797.7 2053.9L799.5 2056L800.1 2055.5L801.5 2053.9L1027.7 2053.9L1029.5 2056L1031.5 2053.9L1053.1 2053.9L1054.9 2055.9L1055.3 2055.7L1056.9 2053.9L1109.9 2053.9L1111.3 2055.5L1111.9 2056L1113.7 2053.9L1118.9 2053.9L1119.1 2054L1120.9 2057.6L1122.7 2054L1122.9 2053.9L1128.9 2053.9L1130.7 2055.9L1131.1 2055.7L1132.7 2053.9L1281.5 2053.9L1282.9 2073.4L1284.3 2073.4L1284.3 2051.9ZM13.5 2097.6L13.5 2099.6L117.7 2099.6L119.3 2101.4L119.7 2101.6L121.5 2099.6L156.5 2099.6L158.3 2101.6L158.7 2101.4L160.3 2099.6L193.7 2099.6L193.9 2099.9L194.5 2102.3L195.7 2108.9L196.9 2102.3L197.5 2099.9L197.7 2099.6L207.1 2099.6L208.7 2102.2L210.3 2099.6L246.9 2099.6L247.1 2099.6L248.1 2100.9L248.9 2101.7L250.7 2099.6L252.1 2099.6L253.9 2103.1L254.1 2103L255.9 2099.6L300.7 2099.6L302.3 2101.4L302.7 2101.6L304.5 2099.6L436.5 2099.6L438.3 2101.6L440.3 2099.6L444.3 2099.6L444.5 2099.7L445.5 2100.9L446.3 2101.6L448.1 2099.6L452.9 2099.6L453.5 2101.8L454.1 2105.4L455.3 2116L456.5 2105.6L457.1 2101.9L457.7 2099.6L480.1 2099.6L481.9 2101.6L482.3 2101.4L483.9 2099.6L516.3 2099.6L518.1 2101.6L518.7 2101.2L520.1 2099.6L797.7 2099.6L799.5 2101.6L800.1 2101.1L801.5 2099.6L1118.1 2099.6L1120.1 2101.6L1121.9 2099.6L1281.5 2099.6L1282.9 2119.1L1284.3 2119.1L1284.3 2097.6ZM13.5 2143.2L13.5 2145.2L65.3 2145.2L65.9 2146.8L66.9 2150.7L67.1 2150.9L68.1 2147L68.7 2145.2L117.7 2145.2L119.3 2147L119.7 2147.3L121.5 2145.2L156.7 2145.2L157.3 2147L158.3 2150.9L158.5 2150.6L159.5 2146.8L160.1 2145.2L192.1 2145.2L193.7 2148.6L194.9 2146.2L195.1 2146.2L196.5 2152.2L198.3 2145.2L206.9 2145.2L208.7 2148.6L210.5 2145.2L246.9 2145.2L247.1 2145.3L248.1 2146.6L248.9 2147.3L250.7 2145.2L300.7 2145.2L302.3 2147L302.7 2147.2L304.5 2145.2L436.5 2145.2L438.3 2147.3L440.3 2145.2L444.3 2145.2L444.5 2145.3L445.5 2146.6L446.3 2147.3L448.1 2145.2L452.9 2145.2L453.5 2147.6L454.1 2151.3L455.3 2162.2L456.5 2151.5L457.1 2147.8L457.7 2145.2L480.1 2145.2L481.9 2147.3L482.3 2147L483.9 2145.2L797.7 2145.2L799.5 2147.3L800.1 2146.8L801.5 2145.2L1269.5 2145.2L1271.3 2147.3L1273.3 2145.2L1281.5 2145.2L1282.9 2164.7L1284.3 2164.7L1284.3 2143.2ZM13.5 2188.9L13.5 2190.9L65.3 2190.9L65.9 2192.4L66.9 2196.3L67.1 2196.5L68.1 2192.6L68.7 2190.9L117.7 2190.9L119.3 2192.7L119.7 2192.9L121.5 2190.9L156.7 2190.9L157.3 2192.6L158.3 2196.6L158.5 2196.3L159.5 2192.4L160.1 2190.9L191.7 2190.9L193.7 2195.4L195.7 2190.9L206.7 2190.9L206.9 2191L208.7 2194.5L210.5 2191L210.7 2190.9L246.9 2190.9L247.1 2191L248.1 2192.2L248.9 2193L250.7 2190.9L300.7 2190.9L302.3 2192.7L302.7 2192.9L304.5 2190.9L436.5 2190.9L438.3 2193L440.3 2190.9L444.3 2190.9L444.5 2191L445.5 2192.2L446.3 2193L448.1 2190.9L452.9 2190.9L453.5 2193.1L454.1 2196.7L455.3 2207.3L456.5 2196.9L457.1 2193.3L457.7 2190.9L480.1 2190.9L481.9 2192.9L482.3 2192.7L483.9 2190.9L797.7 2190.9L799.5 2192.9L800.1 2192.5L801.5 2190.9L1269.5 2190.9L1271.3 2193L1273.3 2190.9L1281.5 2190.9L1282.9 2210.4L1284.3 2210.4L1284.3 2188.9ZM13.5 2234.6L13.5 2236.6L1281.5 2236.6L1282.9 2256.1L1284.3 2256.1L1284.3 2234.6ZM13.5 2280.2L13.5 2282.2L155.9 2282.2L157.5 2284L157.9 2284.2L159.7 2282.2L206.9 2282.2L207.1 2282.3L208.7 2285L210.3 2282.3L210.5 2282.2L452.9 2282.2L453.5 2284.4L454.1 2288L455.3 2298.6L456.5 2288.2L457.1 2284.6L457.7 2282.2L797.7 2282.2L799.5 2284.3L800.1 2283.8L801.5 2282.2L1281.5 2282.2L1282.9 2301.7L1284.3 2301.7L1284.3 2280.2ZM13.5 2325.9L13.5 2327.9L156.5 2327.9L158.3 2329.9L158.7 2329.7L160.3 2327.9L206.9 2327.9L208.7 2331L210.5 2327.9L452.9 2327.9L453.5 2330.1L454.1 2333.7L455.3 2344.3L456.5 2333.9L457.1 2330.2L457.7 2327.9L797.7 2327.9L799.5 2329.9L800.1 2329.4L801.5 2327.9L1281.5 2327.9L1282.9 2347.4L1284.3 2347.4L1284.3 2325.9ZM13.5 2371.5L13.5 2373.5L151.7 2373.5L153.5 2375.6L154.1 2375.1L155.5 2373.5L193.7 2373.5L193.9 2373.8L194.5 2376.1L195.7 2382.5L196.9 2376.1L197.5 2373.8L197.7 2373.5L246.9 2373.5L247.1 2373.6L248.1 2374.9L248.9 2375.6L250.7 2373.5L797.7 2373.5L799.5 2375.6L800.1 2375.1L801.5 2373.5L1281.5 2373.5L1282.9 2393L1284.3 2393L1284.3 2371.5ZM13.5 2417.2L13.5 2419.2L187.5 2419.2L187.7 2419.3L189.5 2421.3L191.3 2419.2L193.7 2419.2L193.9 2419.5L194.5 2421.9L195.7 2428.5L196.9 2421.9L197.5 2419.6L197.7 2419.2L205.5 2419.2L207.3 2421.3L209.1 2419.2L209.3 2419.2L246.9 2419.2L247.1 2419.3L248.1 2420.5L248.9 2421.3L250.7 2419.2L252.1 2419.2L252.3 2419.3L253.9 2422.2L254.1 2422.1L255.7 2419.2L797.7 2419.2L799.5 2421.2L800.1 2420.8L801.5 2419.2L1281.5 2419.2L1282.9 2438.7L1284.3 2438.7L1284.3 2417.2Z" fill="#fff" stroke="#000" stroke-width="1.5" stroke-linejoin="round"/>
<path d="M1282.6 1753.8H1284.4V1778H1282.6Z" fill="#fff"/><path d="M1282.6 1799.5H1284.4V1823.6H1282.6Z" fill="#fff"/><path d="M1282.6 1845.1H1284.4V1869.3H1282.6Z" fill="#fff"/><path d="M1282.6 1890.8H1284.4V1914.9H1282.6Z" fill="#fff"/><path d="M1282.6 1936.4H1284.4V1960.6H1282.6Z" fill="#fff"/><path d="M1282.6 1982.1H1284.4V2006.3H1282.6Z" fill="#fff"/><path d="M1282.6 2027.8H1284.4V2051.9H1282.6Z" fill="#fff"/><path d="M1282.6 2073.4H1284.4V2097.6H1282.6Z" fill="#fff"/><path d="M1282.6 2119.1H1284.4V2143.2H1282.6Z" fill="#fff"/><path d="M1282.6 2164.7H1284.4V2188.9H1282.6Z" fill="#fff"/><path d="M1282.6 2210.4H1284.4V2234.6H1282.6Z" fill="#fff"/><path d="M1282.6 2256.1H1284.4V2280.2H1282.6Z" fill="#fff"/><path d="M1282.6 2301.7H1284.4V2325.9H1282.6Z" fill="#fff"/><path d="M1282.6 2347.4H1284.4V2371.5H1282.6Z" fill="#fff"/><path d="M1282.6 2393H1284.4V2417.2H1282.6Z" fill="#fff"/><path d="M1282.6 2438.7H1284.4V2462.9H1282.6Z" fill="#fff"/><path d="M67.9 1893.8V1913.9" stroke="#fff" stroke-width="1.3" fill="none"/>
<path d="M11.3 1732.3H1286.6M11.3 1778H1286.6M11.3 1823.6H1286.6M11.3 1869.3H1286.6M11.3 1914.9H1286.6M11.3 1960.6H1286.6M11.3 2006.3H1286.6M11.3 2051.9H1286.6M11.3 2097.6H1286.6M11.3 2143.2H1286.6M11.3 2188.9H1286.6M11.3 2234.6H1286.6M11.3 2280.2H1286.6M11.3 2325.9H1286.6M11.3 2371.5H1286.6M11.3 2417.2H1286.6M11.3 2462.9H1286.6M12.5 1732.3V2462.9M1285.4 1732.3V2462.9" stroke="#000" stroke-width="2.6" fill="none"/>
<text class="m" x="1287.9" y="1741.4">100%</text>
<text class="m" x="1287.9" y="1777.2">50%</text>
<text class="m" x="1287.9" y="1787.1">100%</text>
<text class="m" x="1287.9" y="1822.9">50%</text>
<text class="m" x="1287.9" y="1832.7">100%</text>
<text class="m" x="1287.9" y="1868.5">50%</text>
<text class="m" x="1287.9" y="1878.4">100%</text>
<text class="m" x="1287.9" y="1914.2">50%</text>
<text class="m" x="1287.9" y="1924">100%</text>
<text class="m" x="1287.9" y="1959.8">50%</text>
<text class="m" x="1287.9" y="1969.7">100%</text>
<text class="m" x="1287.9" y="2005.5">50%</text>
<text class="m" x="1287.9" y="2015.4">100%</text>
<text class="m" x="1287.9" y="2051.2">50%</text>
<text class="m" x="1287.9" y="2061">100%</text>
<text class="m" x="1287.9" y="2096.8">50%</text>
<text class="m" x="1287.9" y="2106.7">100%</text>
<text class="m" x="1287.9" y="2142.5">50%</text>
<text class="m" x="1287.9" y="2152.3">100%</text>
<text class="m" x="1287.9" y="2188.1">50%</text>
<text class="m" x="1287.9" y="2198">100%</text>
<text class="m" x="1287.9" y="2233.8">50%</text>
<text class="m" x="1287.9" y="2243.7">100%</text>
<text class="m" x="1287.9" y="2279.5">50%</text>
<text class="m" x="1287.9" y="2289.3">100%</text>
<text class="m" x="1287.9" y="2325.1">50%</text>
<text class="m" x="1287.9" y="2335">100%</text>
<text class="m" x="1287.9" y="2370.8">50%</text>
<text class="m" x="1287.9" y="2380.6">100%</text>
<text class="m" x="1287.9" y="2416.4">50%</text>
<text class="m" x="1287.9" y="2426.3">100%</text>
<text class="m" x="1287.9" y="2462.1">50%</text>
<path d="M14 2463.9v3.2M67.3 2463.9v3.2M120.6 2463.9v3.2M173.8 2463.9v3.2M227.1 2463.9v3.2M280.4 2463.9v3.2M333.7 2463.9v3.2M387 2463.9v3.2M440.2 2463.9v3.2M493.5 2463.9v3.2M546.8 2463.9v3.2M600.1 2463.9v3.2M653.4 2463.9v3.2M706.6 2463.9v3.2M759.9 2463.9v3.2M813.2 2463.9v3.2M866.5 2463.9v3.2M902 2463.9v3.2M955.3 2463.9v3.2M1008.6 2463.9v3.2M1061.8 2463.9v3.2M1115.1 2463.9v3.2M1168.4 2463.9v3.2M1221.7 2463.9v3.2M1275 2463.9v3.2" stroke="#000" stroke-width="1.2" fill="none"/>
<text class="t" x="14" y="2479.5">100k</text>
<text class="t" x="120.6" y="2479.5">103k</text>
<text class="t" x="227.1" y="2479.5">106k</text>
<text class="t" x="333.7" y="2479.5">109k</text>
<text class="t" x="440.2" y="2479.5">112k</text>
<text class="t" x="546.8" y="2479.5">115k</text>
<text class="t" x="653.4" y="2479.5">118k</text>
<text class="t" x="759.9" y="2479.5">121k</text>
<text class="t" x="866.5" y="2479.5">124k</text>
<text class="t" x="902" y="2479.5">125k</text>
<text class="t" x="1008.6" y="2479.5">128k</text>
<text class="t" x="1115.1" y="2479.5">131k</text>
<text class="t" x="1221.7" y="2479.5">134k</text>
<path d="M43.9 1705.5H46.5V1703.6L55.5 1707.4L46.5 1711.2V1709.3H43.9ZM149.4 1705.5H77.9V1703.6L68.9 1707.4L77.9 1711.2V1709.3H149.4ZM180.8 1703.6L188.4 1707.4L180.8 1711.2ZM212.1 1703.6L216.7 1707.4L212.1 1711.2ZM218.1 1705.5H245.1V1703.6L254.1 1707.4L245.1 1711.2V1709.3H218.1ZM311.8 1705.5H266.7V1703.6L257.7 1707.4L266.7 1711.2V1709.3H311.8ZM325.6 1705.5H323.6V1703.6L314.6 1707.4L323.6 1711.2V1709.3H325.6ZM353.6 1705.5H350V1703.6L341 1707.4L350 1711.2V1709.3H353.6ZM379.3 1705.5H368.4V1703.6L359.4 1707.4L368.4 1711.2V1709.3H379.3ZM407.9 1705.5H396.9V1703.6L387.9 1707.4L396.9 1711.2V1709.3H407.9ZM486.2 1705.5H420.3V1703.6L411.3 1707.4L420.3 1711.2V1709.3H486.2ZM529.2 1705.5H495.8V1703.6L486.8 1707.4L495.8 1711.2V1709.3H529.2ZM543.7 1705.5H541.2V1703.6L532.2 1707.4L541.2 1711.2V1709.3H543.7ZM596.7 1703.6L601.1 1707.4L596.7 1711.2ZM613.7 1703.6L609.7 1707.4L613.7 1711.2ZM625 1703.6L619.7 1707.4L625 1711.2ZM637.2 1703.6L632 1707.4L637.2 1711.2ZM740.9 1705.5H648.2V1703.6L639.2 1707.4L648.2 1711.2V1709.3H740.9ZM776.3 1705.5H753.5V1703.6L744.5 1707.4L753.5 1711.2V1709.3H776.3ZM811 1705.5H787.3V1703.6L778.3 1707.4L787.3 1711.2V1709.3H811ZM873.7 1705.5H828.4V1703.6L819.4 1707.4L828.4 1711.2V1709.3H873.7ZM885.1 1703.6L881.1 1707.4L885.1 1711.2ZM945.1 1705.5H965.6V1703.6L974.6 1707.4L965.6 1711.2V1709.3H945.1ZM975.2 1705.5H985V1703.6L994 1707.4L985 1711.2V1709.3H975.2ZM1002.4 1705.5H1074.9V1703.6L1083.9 1707.4L1074.9 1711.2V1709.3H1002.4ZM1102.5 1703.6L1106.9 1707.4L1102.5 1711.2ZM1189.4 1703.6L1194.2 1707.4L1189.4 1711.2ZM1198.2 1705.5H1200.3V1703.6L1209.3 1707.4L1200.3 1711.2V1709.3H1198.2ZM1209.3 1705.5H1254.7V1703.6L1263.7 1707.4L1254.7 1711.2V1709.3H1209.3ZM1268.1 1703.6L1263.7 1707.4L1268.1 1711.2ZM1271.3 1705.5H1274V1703.6L1283 1707.4L1274 1711.2V1709.3H1271.3Z" fill="#848484"/>
<text class="g" x="47.3" y="1700.1">rps15</text>
<text class="g" x="108.9" y="1700.1">ndhF</text>
<text class="g" x="182.4" y="1700.1">rpl32</text>
<text class="g" x="212.7" y="1700.1">trnL</text>
<text class="g" x="235.3" y="1720.5">ccsA</text>
<text class="g" x="283.7" y="1700.1">ndhD</text>
<text class="g" x="319" y="1700.1">psaC</text>
<text class="g" x="346" y="1700.1">ndhE</text>
<text class="g" x="368.6" y="1720.5">ndhG</text>
<text class="g" x="396.9" y="1700.1">ndhI</text>
<text class="g" x="445.9" y="1700.1">ndhA</text>
<text class="g" x="506.4" y="1700.1">ndhH</text>
<text class="g" x="535.8" y="1720.5">rps15</text>
<text class="g" x="596.7" y="1700.1">trnN</text>
<text class="g" x="610" y="1720.5">trnR</text>
<text class="g" x="620.7" y="1700.1">5S-rRNA</text>
<text class="g" x="632.2" y="1720.5">4.5S-rRNA</text>
<text class="g" x="689" y="1700.1">23S-rRNA</text>
<text class="g" x="758.5" y="1700.1">trnA</text>
<text class="g" x="792.4" y="1700.1">trnI</text>
<text class="g" x="844.8" y="1700.1">16S-rRNA</text>
<text class="g" x="882.1" y="1720.5">trnV</text>
<text class="g" x="955.8" y="1700.1">rps12 Transcript II</text>
<text class="g" x="983" y="1720.5">rps7</text>
<text class="g" x="1042.3" y="1700.1">ndhB</text>
<text class="g" x="1103.3" y="1700.1">trnL</text>
<text class="g" x="1190.2" y="1700.1">trnI</text>
<text class="g" x="1201.8" y="1720.5">rpl23</text>
<text class="g" x="1235.7" y="1700.1">rpl2</text>
<text class="g" x="1263.7" y="1700.1">trnH</text>
<text class="g" x="1274.7" y="1720.5">rps19</text>
</g>
<g id="legend">
<path d="M1646 1717.4H1659V1713.2L1684.8 1723.8L1659 1734.3V1730.3H1646Z" fill="#848484"/>
<rect x="1646" y="1740.9" width="28.2" height="28" fill="#8c8cff"/>
<rect x="1646" y="1770.8" width="28.2" height="28" fill="#6ef0f0"/>
<rect x="1646" y="1800.6" width="28.2" height="28" fill="#ff8c8c"/>
<rect x="1646" y="1832.1" width="28.2" height="28" fill="#c8c8c8"/>
<text class="l" x="1692.6" y="1734.9">gene</text>
<text class="l" x="1692.6" y="1765.4">exon</text>
<text class="l" x="1692.6" y="1795.9">UTR</text>
<text class="l" x="1692.6" y="1826.4">CNS</text>
<text class="l" x="1692.6" y="1856.9">mRNA</text>
</g>
<g id="species">
<text class="s" x="1350.3" y="1762.2"><tspan class="i">Ae.</tspan> <tspan class="i" dx="3.2">comosa</tspan></text>
<text class="s" x="1350.3" y="1807.8"><tspan class="i">Ae.</tspan> <tspan class="i" dx="3.2">longissima</tspan></text>
<text class="s" x="1350.3" y="1853.4"><tspan class="i">Ae.</tspan> <tspan class="i" dx="3.2">umbellulata</tspan></text>
<text class="s" x="1350.3" y="1899"><tspan class="i">Ae.</tspan> <tspan class="i" dx="3.2">tauschii</tspan></text>
<text class="s" x="1350.3" y="1944.6"><tspan class="i">T.</tspan> <tspan class="i" dx="4.6">monococcum</tspan> <tspan dx="1.2">ssp.</tspan> <tspan class="i" dx="2.9">aegilopoides</tspan></text>
<text class="s" x="1350.3" y="1990.2"><tspan class="i">T.</tspan> <tspan class="i" dx="4.6">monococcum</tspan> <tspan dx="1.2">ssp.</tspan> <tspan class="i" dx="2.9">monococcum</tspan></text>
<text class="s" x="1350.3" y="2035.7"><tspan class="i">T.</tspan> <tspan class="i" dx="4.6">timopheevii</tspan> <tspan dx="1.2">ssp.</tspan> <tspan class="i" dx="2.9">armeniacum</tspan></text>
<text class="s" x="1350.3" y="2081.3"><tspan class="i">T.</tspan> <tspan class="i" dx="4.6">urartu</tspan></text>
<text class="s" x="1350.3" y="2126.9"><tspan class="i">Ae.</tspan> <tspan class="i" dx="3.2">speltoides</tspan></text>
<text class="s" x="1350.3" y="2172.5"><tspan class="i">T.</tspan> <tspan class="i" dx="4.6">timopheevii</tspan> <tspan dx="1.2">ssp.</tspan> <tspan class="i" dx="2.9">timopheevii</tspan></text>
<text class="s" x="1350.3" y="2218.1"><tspan class="i">T.</tspan> <tspan class="i" dx="4.6">zhukovskyi</tspan></text>
<text class="s" x="1350.3" y="2263.7"><tspan class="i">T.</tspan> <tspan class="i" dx="4.6">aestivum</tspan></text>
<text class="s" x="1350.3" y="2309.3"><tspan class="i">T.</tspan> <tspan class="i" dx="4.6">turgidum</tspan> <tspan dx="1.2">ssp.</tspan> <tspan class="i" dx="2.9">dicoccum</tspan></text>
<text class="s" x="1350.3" y="2354.9"><tspan class="i">T.</tspan> <tspan class="i" dx="4.6">turgidum</tspan> <tspan dx="1.2">ssp.</tspan> <tspan class="i" dx="2.9">durum</tspan></text>
<text class="s" x="1350.3" y="2400.5"><tspan class="i">T.</tspan> <tspan class="i" dx="4.6">turgidum</tspan> <tspan dx="1.2">ssp.</tspan> <tspan class="i" dx="2.9">dicoccoides</tspan></text>
<text class="s" x="1350.3" y="2446.1"><tspan class="i">T.</tspan> <tspan class="i" dx="4.6">aestivum</tspan> <tspan dx="1.2">ssp.</tspan> <tspan class="i" dx="2.9">spelta</tspan></text>
</g>
</svg></body></html>
